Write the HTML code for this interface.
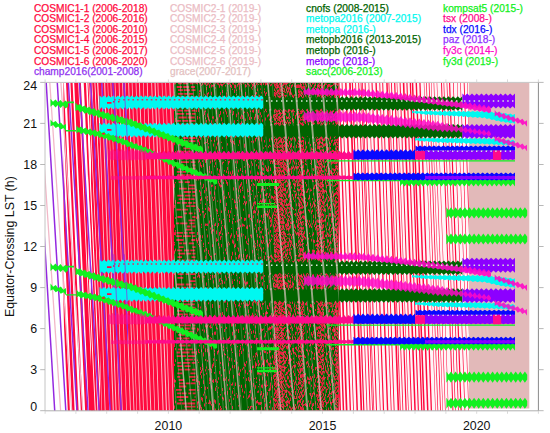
<!DOCTYPE html><html><head><meta charset="utf-8"><style>html,body{margin:0;padding:0;background:#fff;}svg{display:block}text{font-family:"Liberation Sans",sans-serif}</style></head><body>
<svg width="550" height="433" viewBox="0 0 550 433">
<defs><clipPath id="pc"><rect x="45" y="82.4" width="493.4" height="328.4"/></clipPath>
<clipPath id="champclip"><rect x="40" y="0" width="88" height="433"/></clipPath>
<clipPath id="cnclip"><rect x="174" y="0" width="164.5" height="433"/></clipPath>
<clipPath id="c62"><rect x="63.5" y="0" width="40" height="433"/></clipPath>
<clipPath id="c91"><rect x="88" y="0" width="12" height="433"/></clipPath>
<clipPath id="c100"><rect x="100" y="0" width="74" height="433"/></clipPath>
<clipPath id="c339"><rect x="338.5" y="0" width="131" height="433"/></clipPath>
<clipPath id="cyc"><rect x="99" y="90" width="30" height="50"/></clipPath>
<clipPath id="gclip"><rect x="174" y="0" width="164.5" height="433"/></clipPath>
<clipPath id="mbclip"><rect x="263.5" y="97" width="75" height="13.5"/><rect x="263.5" y="124" width="75" height="14.5"/><rect x="263.5" y="261.2" width="75" height="13.5"/><rect x="263.5" y="288.2" width="75" height="14.5"/></clipPath>
</defs>
<rect width="550" height="433" fill="#fff"/>
<g clip-path="url(#pc)">
<path fill="#ff0a3e" clip-path="url(#c62)" d="M52.9 80.4L55 80.4L70 412.8L67.9 412.8ZM57.3 80.4L59.7 80.4L74.7 412.8L72.2 412.8ZM61.5 80.4L63.7 80.4L78.7 412.8L76.5 412.8ZM65.9 80.4L67.9 80.4L82.8 412.8L80.9 412.8ZM70.3 80.4L72.5 80.4L87.5 412.8L85.2 412.8ZM74.9 80.4L76.8 80.4L91.7 412.8L89.9 412.8ZM79 80.4L80.8 80.4L95.8 412.8L93.9 412.8ZM83.6 80.4L85.9 80.4L100.9 412.8L98.6 412.8ZM87.4 80.4L89.9 80.4L104.8 412.8L102.4 412.8ZM92.3 80.4L94.5 80.4L109.5 412.8L107.2 412.8ZM74.1 80.4L78.1 80.4L93.1 412.8L89.1 412.8Z"/>
<path fill="#ff0a3e"  d="M91 80.4h248v332.4h-248Z"/>
<path fill="#ffffff" clip-path="url(#c91)" d="M79.9 80.4L80.8 80.4L95.8 412.8L94.9 412.8ZM82.7 80.4L83.8 80.4L98.7 412.8L97.6 412.8ZM85.3 80.4L86.4 80.4L101.3 412.8L100.3 412.8ZM88.3 80.4L89 80.4L104 412.8L103.3 412.8ZM91.4 80.4L92.1 80.4L107.1 412.8L106.4 412.8ZM94.4 80.4L95.2 80.4L110.1 412.8L109.4 412.8ZM97.1 80.4L98.1 80.4L113 412.8L112.1 412.8Z"/>
<path fill="#f9c0cc" clip-path="url(#c100)" d="M89.9 80.4L90.6 80.4L102.2 412.8L101.6 412.8ZM93.1 80.4L94 80.4L105.7 412.8L104.8 412.8ZM97.6 80.4L98.5 80.4L110.2 412.8L109.3 412.8ZM101.2 80.4L102.2 80.4L113.9 412.8L112.8 412.8ZM104 80.4L105.1 80.4L116.7 412.8L115.7 412.8ZM107.4 80.4L108 80.4L119.7 412.8L119 412.8ZM110.4 80.4L111.1 80.4L122.8 412.8L122 412.8ZM114.6 80.4L115.3 80.4L127 412.8L126.3 412.8ZM118.5 80.4L119.4 80.4L131 412.8L130.1 412.8ZM122 80.4L122.8 80.4L134.5 412.8L133.6 412.8ZM124.9 80.4L125.5 80.4L137.1 412.8L136.5 412.8ZM128 80.4L129 80.4L140.6 412.8L139.7 412.8ZM131.6 80.4L132.4 80.4L144 412.8L143.2 412.8ZM135.5 80.4L136.3 80.4L147.9 412.8L147.1 412.8ZM138.8 80.4L139.8 80.4L151.4 412.8L150.4 412.8ZM142.9 80.4L143.6 80.4L155.2 412.8L154.5 412.8ZM146.7 80.4L147.6 80.4L159.2 412.8L158.3 412.8ZM151.1 80.4L152 80.4L163.7 412.8L162.7 412.8ZM154.4 80.4L155.5 80.4L167.1 412.8L166 412.8ZM157.4 80.4L158.2 80.4L169.8 412.8L169 412.8ZM161.6 80.4L162.2 80.4L173.9 412.8L173.2 412.8ZM165.2 80.4L165.9 80.4L177.5 412.8L176.9 412.8ZM169.2 80.4L170.2 80.4L181.9 412.8L180.9 412.8ZM173.1 80.4L174.1 80.4L185.7 412.8L184.7 412.8Z"/>
<path fill="#fff5f7"  d="M338.5 82.4h130.5v328.4h-130.5Z"/>
<path fill="#ff0a3e" clip-path="url(#c339)" d="M327.9 80.4L329.5 80.4L341.1 412.8L339.6 412.8ZM331.2 80.4L332.6 80.4L344.3 412.8L342.8 412.8ZM334.2 80.4L335.9 80.4L347.6 412.8L345.9 412.8ZM338.1 80.4L339.4 80.4L351.1 412.8L349.8 412.8ZM341.5 80.4L342.4 80.4L354 412.8L353.2 412.8ZM345 80.4L346.5 80.4L358.1 412.8L356.6 412.8ZM349 80.4L350.7 80.4L362.3 412.8L360.6 412.8ZM351.7 80.4L352.9 80.4L364.5 412.8L363.3 412.8ZM355.1 80.4L355.9 80.4L367.5 412.8L366.7 412.8ZM358.1 80.4L359.1 80.4L370.7 412.8L369.7 412.8ZM360.5 80.4L361.4 80.4L373 412.8L372.2 412.8ZM361.9 80.4L362.7 80.4L374.3 412.8L373.6 412.8ZM364.5 80.4L365.5 80.4L377.1 412.8L376.1 412.8ZM368.4 80.4L369.1 80.4L380.7 412.8L380 412.8ZM371.4 80.4L372.5 80.4L384.2 412.8L383 412.8ZM375.3 80.4L376.7 80.4L388.4 412.8L387 412.8ZM379.2 80.4L380.1 80.4L391.7 412.8L390.9 412.8ZM382.1 80.4L383.1 80.4L394.7 412.8L393.8 412.8ZM386.1 80.4L387.6 80.4L399.3 412.8L397.7 412.8ZM388.4 80.4L389.2 80.4L400.8 412.8L400 412.8ZM390.9 80.4L391.8 80.4L403.4 412.8L402.6 412.8ZM394 80.4L395.2 80.4L406.8 412.8L405.6 412.8ZM396.6 80.4L397.2 80.4L408.8 412.8L408.2 412.8ZM399.5 80.4L400.5 80.4L412.1 412.8L411.1 412.8ZM402.7 80.4L404.3 80.4L415.9 412.8L414.4 412.8ZM406.3 80.4L407.4 80.4L419 412.8L417.9 412.8ZM409.6 80.4L410.9 80.4L422.5 412.8L421.2 412.8ZM411.7 80.4L413.2 80.4L424.9 412.8L423.4 412.8ZM415.5 80.4L416.9 80.4L428.6 412.8L427.1 412.8ZM419.2 80.4L420.2 80.4L431.8 412.8L430.8 412.8ZM419.9 80.4L420.5 80.4L432.1 412.8L431.6 412.8ZM423.7 80.4L424.2 80.4L435.8 412.8L435.3 412.8ZM426 80.4L426.7 80.4L438.3 412.8L437.6 412.8ZM428.6 80.4L429.4 80.4L441 412.8L440.2 412.8ZM430.9 80.4L431.4 80.4L443.1 412.8L442.6 412.8ZM433.5 80.4L434.1 80.4L445.7 412.8L445.1 412.8ZM436.6 80.4L437.1 80.4L448.7 412.8L448.2 412.8ZM440.9 80.4L441.9 80.4L453.5 412.8L452.5 412.8ZM443.4 80.4L444.1 80.4L455.8 412.8L455.1 412.8ZM446.5 80.4L447.2 80.4L458.9 412.8L458.1 412.8ZM448.9 80.4L450.1 80.4L461.8 412.8L460.6 412.8ZM452.9 80.4L453.6 80.4L465.3 412.8L464.6 412.8ZM456.9 80.4L457.4 80.4L469.1 412.8L468.5 412.8ZM460.1 80.4L460.7 80.4L472.4 412.8L471.7 412.8ZM463.6 80.4L464.5 80.4L476.1 412.8L475.3 412.8ZM467 80.4L467.5 80.4L479.1 412.8L478.6 412.8Z"/>
<path fill="#9428e0" clip-path="url(#champclip)" d="M12 80.4L13.5 80.4L33.4 412.8L31.9 412.8ZM23.1 80.4L24.6 80.4L44.5 412.8L43 412.8ZM34.2 80.4L35.7 80.4L55.6 412.8L54.1 412.8ZM45.3 80.4L46.8 80.4L66.7 412.8L65.2 412.8ZM56.4 80.4L57.9 80.4L77.8 412.8L76.3 412.8ZM67.5 80.4L69 80.4L88.9 412.8L87.4 412.8ZM78.6 80.4L80.1 80.4L100 412.8L98.5 412.8ZM89.7 80.4L91.2 80.4L111.1 412.8L109.6 412.8ZM100.8 80.4L102.3 80.4L122.2 412.8L120.7 412.8ZM111.9 80.4L113.4 80.4L133.3 412.8L131.8 412.8ZM123 80.4L124.5 80.4L144.4 412.8L142.9 412.8Z"/>
<path fill="#f2b8c8" clip-path="url(#champclip)" d="M60.1 80.4L61.4 80.4L83.6 412.8L82.3 412.8ZM49 80.4L50.3 80.4L72.5 412.8L71.2 412.8ZM37.9 80.4L39.2 80.4L61.4 412.8L60.1 412.8Z"/>
<path fill="#e2b9b9"  d="M468.9 82.4h60.4v326.2h-60.4Z"/>
<path fill="#006400"  d="M174 82.4h164.5v328.4h-164.5Z"/>
<path fill="#e8203e"  d="M174 83h1v1.4h-1ZM174 95.3h1v1.1h-1ZM174 107h1v3.9h-1ZM174 128.2h1v3.1h-1ZM174 136.5h1v2.1h-1ZM174 141.9h1v3.3h-1ZM174 155.9h1v3.3h-1ZM174 165.8h1v1.7h-1ZM174 183.7h1v4h-1ZM174 204.7h1v3.4h-1ZM174 224.5h1v3.2h-1ZM174 232.3h1v2.6h-1ZM174 241.9h1v1.1h-1ZM174 243.6h1v1.8h-1ZM174 250.6h1v3.1h-1ZM174 272.8h1v2.3h-1ZM174 293.9h1v4h-1ZM174 317h1v2.1h-1ZM174 323.5h1v1.7h-1ZM174 329.1h1v1.6h-1ZM174 343.2h1v3.7h-1ZM174 363.7h1v2.4h-1ZM174 379.2h1v3.4h-1ZM174 384.3h1v3h-1ZM174 405.5h1v3.3h-1ZM175 82.8h1v1.5h-1ZM175 100.1h1v2h-1ZM175 118.1h1v3.9h-1ZM175 130h1v2.2h-1ZM175 151.1h1v3.2h-1ZM175 157.7h1v1.4h-1ZM175 162.1h1v3.7h-1ZM175 181.9h1v1.4h-1ZM175 199.9h1v3.9h-1ZM175 217h1v2.1h-1ZM175 230h1v1.4h-1ZM175 231.7h1v3.9h-1ZM175 248.6h1v2.6h-1ZM175 269.8h1v2.3h-1ZM175 289.6h1v3.5h-1ZM175 297.3h1v1.8h-1ZM175 304.9h1v1.7h-1ZM175 318.3h1v1.8h-1ZM175 328.5h1v1.4h-1ZM175 348.1h1v2.1h-1ZM175 359.3h1v2.8h-1ZM175 380.1h1v2.3h-1ZM175 400.8h1v2.5h-1ZM196 83h1v1.1h-1ZM196 98.8h1v1.5h-1ZM196 100.5h1v3.4h-1ZM196 109.6h1v2.4h-1ZM196 136.3h1v2.7h-1ZM196 149.9h1v2.6h-1ZM196 171.1h1v3.4h-1ZM196 178h1v2.7h-1ZM196 189h1v1.8h-1ZM196 216.6h1v2.5h-1ZM196 237.9h1v3.3h-1ZM196 271.8h1v2.3h-1ZM196 294.6h1v2.5h-1ZM196 314.2h1v3.1h-1ZM196 332.4h1v2.6h-1ZM196 351h1v3.8h-1ZM196 378.3h1v3.6h-1ZM197 81.7h1v2.7h-1ZM197 115.9h1v3.5h-1ZM197 124h1v1.4h-1ZM197 140.2h1v1.2h-1ZM197 149.5h1v1.2h-1ZM197 173.1h1v3.4h-1ZM197 206.5h1v1.5h-1ZM197 231.9h1v3h-1ZM197 239.7h1v3.6h-1ZM197 275.7h1v1.7h-1ZM197 309.2h1v2.2h-1ZM197 327.7h1v4h-1ZM197 359.5h1v1.5h-1ZM197 375.5h1v2.5h-1ZM197 389.4h1v1.6h-1ZM197 401.6h1v3.2h-1ZM197 405.4h1v2.7h-1ZM198 80.5h1v2h-1ZM198 103.4h1v2.5h-1ZM198 108.1h1v4h-1ZM198 138.4h1v3.9h-1ZM198 145.8h1v1.8h-1ZM198 148.9h1v3.3h-1ZM198 161.3h1v1.4h-1ZM198 176.8h1v3.7h-1ZM198 208h1v1.8h-1ZM198 214.7h1v3.8h-1ZM198 237.6h1v3.1h-1ZM198 243.7h1v1.2h-1ZM198 267.9h1v2.3h-1ZM198 272.6h1v3.8h-1ZM198 297.6h1v3.4h-1ZM198 303.8h1v3.6h-1ZM198 309.6h1v3.6h-1ZM198 328.4h1v2h-1ZM198 348.9h1v3.8h-1ZM198 361.7h1v1.4h-1ZM198 380.7h1v1.7h-1ZM198 386.1h1v1.5h-1ZM198 389.2h1v1.6h-1ZM198 401.3h1v1.9h-1ZM199 81.8h1v2.5h-1ZM199 90.3h1v2h-1ZM199 93h1v1.8h-1ZM199 95.2h1v3.2h-1ZM199 116.9h1v1.6h-1ZM199 134.3h1v3.8h-1ZM199 141.7h1v3.5h-1ZM199 159.6h1v2.5h-1ZM199 190h1v2.2h-1ZM199 209.1h1v3.1h-1ZM199 245.1h1v2h-1ZM199 274.9h1v3.1h-1ZM199 299.3h1v2.2h-1ZM199 313.2h1v1.2h-1ZM199 318.7h1v1.2h-1ZM199 344.7h1v1.8h-1ZM199 351.9h1v1.3h-1ZM199 381.3h1v3.6h-1ZM199 407.4h1v1.8h-1ZM200 81.9h1v2.4h-1ZM200 89.5h1v2.3h-1ZM200 100.7h1v3.9h-1ZM200 137.1h1v2.6h-1ZM200 147.9h1v3.9h-1ZM200 162.2h1v2.1h-1ZM200 164.3h1v2.1h-1ZM200 182.3h1v2.5h-1ZM200 191.5h1v2.5h-1ZM200 194.2h1v1.8h-1ZM200 199h1v2.2h-1ZM200 202.6h1v1.1h-1ZM200 213.8h1v1.7h-1ZM200 235.1h1v2.6h-1ZM200 262.8h1v3h-1ZM200 289.8h1v3.6h-1ZM200 306.4h1v2h-1ZM200 341.4h1v1.4h-1ZM200 367.1h1v2.9h-1ZM200 371.5h1v3.5h-1ZM200 404.8h1v2.9h-1ZM201 84.5h1v1.4h-1ZM201 103.4h1v2.5h-1ZM201 133.9h1v3.4h-1ZM201 164.9h1v2.8h-1ZM201 197.6h1v3h-1ZM201 223.8h1v1.7h-1ZM201 226.5h1v1.4h-1ZM201 240h1v1.3h-1ZM201 269.3h1v2.7h-1ZM201 293h1v2.9h-1ZM201 318.6h1v2.5h-1ZM201 321.2h1v3.4h-1ZM201 349.6h1v2.5h-1ZM201 370h1v3h-1ZM201 375.2h1v3.2h-1ZM201 386.9h1v1.2h-1ZM201 397h1v3.2h-1ZM201 407h1v3.2h-1ZM202 82.9h1v2.1h-1ZM202 101h1v3.1h-1ZM202 129.8h1v2.9h-1ZM202 154.1h1v1.2h-1ZM202 160.3h1v1.8h-1ZM202 186.9h1v1.9h-1ZM202 207.8h1v1h-1ZM202 210.9h1v1.8h-1ZM202 235.2h1v3.1h-1ZM202 260.9h1v1.9h-1ZM202 280h1v2.4h-1ZM202 298h1v1.4h-1ZM202 329.3h1v1.6h-1ZM202 363.6h1v3.8h-1ZM202 368h1v2.4h-1ZM202 397.8h1v3.9h-1ZM203 81.7h1v1.6h-1ZM203 115h1v1.6h-1ZM203 136.1h1v1.4h-1ZM203 155.1h1v3.9h-1ZM203 163.4h1v3.5h-1ZM203 183.8h1v3.7h-1ZM203 211h1v1.7h-1ZM203 242.8h1v2.5h-1ZM203 246.1h1v1h-1ZM203 263.5h1v2.4h-1ZM203 276h1v1.4h-1ZM203 288.9h1v1.9h-1ZM203 319h1v1h-1ZM203 345.1h1v3.5h-1ZM203 352.6h1v3.8h-1ZM203 380.3h1v3.7h-1ZM203 393.7h1v2.1h-1ZM203 408.9h1v4h-1ZM204 82.2h1v2.3h-1ZM204 93.7h1v1.1h-1ZM204 98.2h1v3.5h-1ZM204 111.3h1v3.8h-1ZM204 123.5h1v1.8h-1ZM204 142.3h1v1.6h-1ZM204 156.4h1v3.9h-1ZM204 189.9h1v3.4h-1ZM204 214.4h1v3.7h-1ZM204 249.6h1v2.6h-1ZM204 276.4h1v1.1h-1ZM204 302h1v2.4h-1ZM204 329.6h1v2.9h-1ZM204 342.1h1v1.1h-1ZM204 374.2h1v1.4h-1ZM204 391.4h1v2h-1ZM204 403.4h1v3.2h-1ZM205 81.7h1v3h-1ZM205 94.7h1v2.7h-1ZM205 110.6h1v1.5h-1ZM205 117.5h1v1.6h-1ZM205 149.5h1v2.5h-1ZM205 159.3h1v3.7h-1ZM205 196.4h1v2.3h-1ZM205 203.4h1v1.6h-1ZM205 208h1v2h-1ZM205 213.1h1v1.7h-1ZM205 223.4h1v2.7h-1ZM205 255.8h1v3.2h-1ZM205 272.9h1v2.2h-1ZM205 292.7h1v2.1h-1ZM205 306.1h1v1.2h-1ZM205 316.6h1v3.9h-1ZM205 324.7h1v2.5h-1ZM205 348.3h1v3.6h-1ZM205 359.1h1v1.8h-1ZM205 369.2h1v2.2h-1ZM205 386.4h1v3.9h-1ZM206 84.8h1v1.1h-1ZM206 86.9h1v3.1h-1ZM206 120h1v2.4h-1ZM206 142.1h1v1h-1ZM206 156.2h1v3.8h-1ZM206 187.6h1v3.6h-1ZM206 223.7h1v1.7h-1ZM206 229.1h1v1.5h-1ZM206 248h1v3h-1ZM206 282.6h1v3.2h-1ZM206 307.4h1v3.3h-1ZM206 326h1v2.7h-1ZM206 330h1v3.3h-1ZM206 341.1h1v3.8h-1ZM206 366.5h1v1.9h-1ZM206 372.7h1v1.8h-1ZM206 395.7h1v3.1h-1ZM206 402.5h1v1.2h-1ZM207 83.3h1v2.2h-1ZM207 93h1v2.8h-1ZM207 96.1h1v1.9h-1ZM207 113.4h1v3.9h-1ZM207 138.9h1v3.7h-1ZM207 158.4h1v1.7h-1ZM207 168.4h1v3.9h-1ZM207 195.9h1v1.9h-1ZM207 198.5h1v2.5h-1ZM207 223.6h1v2.3h-1ZM207 234.4h1v3h-1ZM207 268.4h1v1.7h-1ZM207 271.2h1v2h-1ZM207 287.3h1v3h-1ZM207 297h1v3.4h-1ZM207 325.1h1v2.5h-1ZM207 334.5h1v3.9h-1ZM207 348.8h1v3.5h-1ZM207 360h1v1.7h-1ZM207 387.1h1v1.9h-1ZM208 82.9h1v1.6h-1ZM208 91.9h1v2.3h-1ZM208 116.4h1v3.8h-1ZM208 125.2h1v2.2h-1ZM208 134.5h1v3.9h-1ZM208 143.1h1v1.2h-1ZM208 146.3h1v2.2h-1ZM208 178.5h1v3.7h-1ZM208 206.7h1v4h-1ZM208 241.9h1v2h-1ZM208 250.1h1v3.8h-1ZM208 278.9h1v1.1h-1ZM208 302.2h1v2.1h-1ZM208 316.8h1v2h-1ZM208 324.5h1v1h-1ZM208 334.9h1v2.1h-1ZM208 368.9h1v1.4h-1ZM208 402.5h1v1.6h-1ZM209 84.5h1v3.5h-1ZM209 102.4h1v1.1h-1ZM209 119.4h1v2.1h-1ZM209 152.3h1v1.6h-1ZM209 166.1h1v3.7h-1ZM209 170.8h1v2.2h-1ZM209 200.2h1v3.3h-1ZM209 204.9h1v1.1h-1ZM209 208h1v3.8h-1ZM209 220.4h1v3.2h-1ZM209 253.7h1v2h-1ZM209 264.8h1v3.9h-1ZM209 289.4h1v1.8h-1ZM209 315.1h1v1.9h-1ZM209 326.3h1v1h-1ZM209 352.6h1v3.7h-1ZM209 377.6h1v3.8h-1ZM209 382.2h1v1.7h-1ZM209 399.8h1v3.9h-1ZM210 82.3h1v1.8h-1ZM210 98.5h1v2.5h-1ZM210 132h1v1.5h-1ZM210 160.4h1v3.2h-1ZM210 191.2h1v3.3h-1ZM210 214.8h1v2h-1ZM210 227.5h1v2.1h-1ZM210 255.7h1v1.2h-1ZM210 263.6h1v3.3h-1ZM210 275.1h1v1.2h-1ZM210 277.4h1v2.7h-1ZM210 291h1v3.9h-1ZM210 324.5h1v4h-1ZM210 337.3h1v1.3h-1ZM210 341.8h1v2.5h-1ZM210 368h1v2.3h-1ZM210 378.2h1v2.3h-1ZM210 401.2h1v3h-1ZM211 84.6h1v3h-1ZM211 91.7h1v3.5h-1ZM211 105h1v2.7h-1ZM211 120.2h1v3.2h-1ZM211 130.1h1v1.7h-1ZM211 140h1v1.5h-1ZM211 171.1h1v2.7h-1ZM211 184.7h1v2.2h-1ZM211 220.1h1v2.5h-1ZM211 230.4h1v3.4h-1ZM211 255.7h1v4h-1ZM211 263.1h1v2.4h-1ZM211 292.9h1v3.5h-1ZM211 327h1v1.1h-1ZM211 338h1v1.4h-1ZM211 345.7h1v3.9h-1ZM211 369.1h1v3.8h-1ZM211 385.4h1v3.6h-1ZM211 404h1v1.8h-1ZM212 85.1h1v1.3h-1ZM212 106.4h1v2.9h-1ZM212 116.5h1v2.1h-1ZM212 123.4h1v1.6h-1ZM212 133.5h1v2.8h-1ZM212 158.1h1v1.6h-1ZM212 160.1h1v2h-1ZM212 184.8h1v1.6h-1ZM212 196.8h1v1.6h-1ZM212 225h1v2.6h-1ZM212 229.8h1v1.3h-1ZM212 244.3h1v2.7h-1ZM212 268.3h1v1.3h-1ZM212 275.1h1v3.1h-1ZM212 291.9h1v1.8h-1ZM212 304h1v3.9h-1ZM212 318.3h1v2.7h-1ZM212 333h1v2.2h-1ZM212 364.2h1v4h-1ZM212 380.3h1v1.6h-1ZM212 406.3h1v1.6h-1ZM212 408.1h1v3.7h-1ZM213 84.5h1v2.2h-1ZM213 116.3h1v2.4h-1ZM213 124.1h1v1h-1ZM213 143.6h1v2.9h-1ZM213 176.9h1v1.3h-1ZM213 199h1v2.1h-1ZM213 218h1v1.4h-1ZM213 228.9h1v2.6h-1ZM213 262.5h1v1.3h-1ZM213 280.2h1v3.4h-1ZM213 316h1v1.6h-1ZM213 321.8h1v3.8h-1ZM213 358.3h1v2.4h-1ZM213 362.5h1v3.8h-1ZM213 379.3h1v3.7h-1ZM213 403.7h1v3.5h-1ZM214 84.3h1v1.7h-1ZM214 99.5h1v3.5h-1ZM214 130.8h1v1.5h-1ZM214 139.7h1v2.2h-1ZM214 159.2h1v2.2h-1ZM214 165.5h1v1.7h-1ZM214 191.5h1v3.7h-1ZM214 196.5h1v2.7h-1ZM214 224.6h1v1.1h-1ZM214 253.7h1v1.4h-1ZM214 275.1h1v2.7h-1ZM214 298.8h1v1.9h-1ZM214 314.7h1v2.7h-1ZM214 331.7h1v3h-1ZM214 349.7h1v2.3h-1ZM214 352.8h1v2.9h-1ZM214 372h1v1.7h-1ZM214 399.2h1v3.3h-1ZM215 81.3h1v2.4h-1ZM215 87.3h1v1.4h-1ZM215 103.1h1v1.3h-1ZM215 119.2h1v2.5h-1ZM215 123.1h1v2.9h-1ZM215 128.7h1v3.2h-1ZM215 157.9h1v2.5h-1ZM215 162.3h1v2.5h-1ZM215 177.4h1v3.9h-1ZM215 185.9h1v3.6h-1ZM215 222.8h1v3.2h-1ZM215 253.2h1v1.6h-1ZM215 287.7h1v2.5h-1ZM215 322.1h1v3.7h-1ZM215 331.4h1v3.4h-1ZM215 365.9h1v1.2h-1ZM215 378.9h1v3.3h-1ZM215 387.4h1v3.7h-1ZM215 400.3h1v3.4h-1ZM215 408.6h1v2.5h-1ZM216 81.4h1v1.8h-1ZM216 100.2h1v2h-1ZM216 103.4h1v1.5h-1ZM216 110.3h1v3.8h-1ZM216 136.8h1v3.7h-1ZM216 146.2h1v3.4h-1ZM216 153.4h1v2.6h-1ZM216 177.3h1v2.1h-1ZM216 208.6h1v2.7h-1ZM216 230.6h1v3.6h-1ZM216 237.8h1v4h-1ZM216 262.8h1v2.2h-1ZM216 291.7h1v1.8h-1ZM216 326.6h1v2.7h-1ZM216 341.4h1v3.3h-1ZM216 359.5h1v1.5h-1ZM216 385.9h1v1.1h-1ZM217 81.7h1v2.9h-1ZM217 117.5h1v2.8h-1ZM217 142.5h1v1.9h-1ZM217 144.5h1v1.1h-1ZM217 150.6h1v2.8h-1ZM217 167.9h1v2.5h-1ZM217 200.4h1v1.4h-1ZM217 209.4h1v3h-1ZM217 213.1h1v1h-1ZM217 226h1v1.3h-1ZM217 239.3h1v1.7h-1ZM217 260.5h1v2.8h-1ZM217 270.1h1v2.9h-1ZM217 288.8h1v1.4h-1ZM217 321.6h1v1.7h-1ZM217 328.3h1v1.3h-1ZM217 350.9h1v3.6h-1ZM217 380.7h1v2.2h-1ZM217 391.8h1v1h-1ZM218 83.2h1v2.1h-1ZM218 106.9h1v2.3h-1ZM218 140.6h1v3.2h-1ZM218 152.1h1v3.7h-1ZM218 157.3h1v2.6h-1ZM218 173.4h1v1.7h-1ZM218 177.1h1v3.3h-1ZM218 180.9h1v2.7h-1ZM218 215h1v1.4h-1ZM218 223.1h1v2.8h-1ZM218 242.9h1v2.9h-1ZM218 273h1v1.5h-1ZM218 284.9h1v1.9h-1ZM218 288.4h1v3.7h-1ZM218 318.3h1v3.1h-1ZM218 321.6h1v3.5h-1ZM218 350.1h1v2.4h-1ZM218 377.3h1v2.4h-1ZM218 387.2h1v1.3h-1ZM218 396.3h1v1.1h-1ZM218 408.7h1v3.2h-1ZM219 84.6h1v3.1h-1ZM219 96.7h1v2.7h-1ZM219 113.9h1v3.4h-1ZM219 134.8h1v1.8h-1ZM219 158.1h1v3.9h-1ZM219 169.2h1v3.6h-1ZM219 173.4h1v1.8h-1ZM219 183.1h1v3.2h-1ZM219 217.9h1v3.2h-1ZM219 232.1h1v3.6h-1ZM219 246.7h1v1.7h-1ZM219 278.8h1v2.9h-1ZM219 304.9h1v3h-1ZM219 340.6h1v2.4h-1ZM219 371.1h1v3.1h-1ZM219 402.9h1v2.3h-1ZM220 83.3h1v1.9h-1ZM220 92.3h1v2.9h-1ZM220 97.7h1v3.7h-1ZM220 106.3h1v1.1h-1ZM220 111h1v3.8h-1ZM220 126.3h1v1.4h-1ZM220 128.7h1v1.1h-1ZM220 153h1v2.9h-1ZM220 179.2h1v3.2h-1ZM220 184.6h1v2.8h-1ZM220 199.5h1v3.5h-1ZM220 230.4h1v3.7h-1ZM220 236.3h1v3.6h-1ZM220 270.5h1v3.8h-1ZM220 277.9h1v1.6h-1ZM220 283.3h1v1.1h-1ZM220 312.8h1v3.4h-1ZM220 337.4h1v3.5h-1ZM220 362h1v1.9h-1ZM220 367.2h1v1.3h-1ZM220 393.9h1v1.6h-1ZM220 406.1h1v2.3h-1ZM220 409.1h1v1.8h-1ZM221 84h1v2.1h-1ZM221 96.8h1v3.9h-1ZM221 117.6h1v3.6h-1ZM221 141.8h1v1.1h-1ZM221 156.7h1v2.3h-1ZM221 184.9h1v2h-1ZM221 210.5h1v2.6h-1ZM221 220.4h1v3.6h-1ZM221 227h1v3.5h-1ZM221 236.2h1v1h-1ZM221 243.9h1v3.3h-1ZM221 279.9h1v1h-1ZM221 297.4h1v2.5h-1ZM221 326.5h1v1.6h-1ZM221 344.6h1v2h-1ZM221 374.5h1v1.8h-1ZM221 407.9h1v1.9h-1ZM222 83.9h1v2.5h-1ZM222 90.1h1v2.9h-1ZM222 95.7h1v3.4h-1ZM222 122.4h1v3.4h-1ZM222 146.8h1v2.1h-1ZM222 162.2h1v2.2h-1ZM222 194.2h1v1.3h-1ZM222 225.2h1v1.1h-1ZM222 233.2h1v1.8h-1ZM222 265.1h1v2.5h-1ZM222 280.3h1v3.7h-1ZM222 291.8h1v2.4h-1ZM222 312h1v3.3h-1ZM222 340.4h1v2.9h-1ZM222 355h1v2h-1ZM222 362.2h1v3.5h-1ZM222 387.9h1v3.2h-1ZM222 396.8h1v2.3h-1ZM223 83.3h1v1.4h-1ZM223 100.1h1v3.7h-1ZM223 111.8h1v1.6h-1ZM223 123.4h1v3.1h-1ZM223 154.8h1v1.5h-1ZM223 161.4h1v1.7h-1ZM223 174.1h1v2.6h-1ZM223 182.1h1v2h-1ZM223 190.4h1v3.9h-1ZM223 218.7h1v1.3h-1ZM223 252.2h1v1.3h-1ZM223 266.4h1v4h-1ZM223 296.9h1v3.2h-1ZM223 314.7h1v1.6h-1ZM223 337.6h1v1.3h-1ZM223 345.8h1v2.2h-1ZM223 349.1h1v2.2h-1ZM223 377.8h1v3.1h-1ZM223 397.6h1v2.9h-1ZM224 81.1h1v2.8h-1ZM224 97.5h1v3.2h-1ZM224 131.1h1v2.3h-1ZM224 152.6h1v3.2h-1ZM224 169.9h1v1.7h-1ZM224 195.8h1v3.6h-1ZM224 225.3h1v3.1h-1ZM224 256.9h1v3h-1ZM224 281.4h1v2.4h-1ZM224 294.3h1v2.9h-1ZM224 300.4h1v2.3h-1ZM224 328.9h1v3.1h-1ZM224 353.1h1v1.8h-1ZM224 369h1v2.4h-1ZM224 392.2h1v2.2h-1ZM225 85.1h1v1.5h-1ZM225 108.5h1v3.3h-1ZM225 124.8h1v2.5h-1ZM225 159.9h1v1.1h-1ZM225 179.2h1v1.5h-1ZM225 206.9h1v3.8h-1ZM225 228.1h1v1.3h-1ZM225 248.6h1v2.6h-1ZM225 275.2h1v2.5h-1ZM225 299.1h1v3.5h-1ZM225 320.1h1v2.2h-1ZM225 354h1v1.6h-1ZM225 378.6h1v2.2h-1ZM225 406.3h1v1.4h-1ZM226 82.2h1v1.2h-1ZM226 92.5h1v2.2h-1ZM226 95.2h1v2.3h-1ZM226 111.5h1v3.1h-1ZM226 126.4h1v1.8h-1ZM226 135.7h1v3.2h-1ZM226 170.4h1v2.6h-1ZM226 180.3h1v3.4h-1ZM226 196.8h1v1.6h-1ZM226 202.7h1v3.3h-1ZM226 233.2h1v2.9h-1ZM226 251.8h1v2.7h-1ZM226 262h1v3.9h-1ZM226 277.7h1v2.9h-1ZM226 308h1v3.4h-1ZM226 327.1h1v1.9h-1ZM226 347.4h1v1.4h-1ZM226 376.7h1v2.1h-1ZM226 407.2h1v1.8h-1ZM227 81.7h1v2.3h-1ZM227 90.2h1v1h-1ZM227 115.3h1v1.8h-1ZM227 125.4h1v1.9h-1ZM227 143.3h1v2.3h-1ZM227 166.9h1v3h-1ZM227 182h1v3.8h-1ZM227 214.4h1v1.2h-1ZM227 243.3h1v3.7h-1ZM227 273.2h1v1.4h-1ZM227 302.5h1v2.9h-1ZM227 305.9h1v1h-1ZM227 338.8h1v3h-1ZM227 350.1h1v1.3h-1ZM227 356.2h1v1.7h-1ZM227 383.9h1v2h-1ZM227 391h1v3.7h-1ZM228 81.2h1v3.7h-1ZM228 105.3h1v3.3h-1ZM228 131h1v3.7h-1ZM228 161h1v3.5h-1ZM228 171.2h1v3.1h-1ZM228 192h1v3.2h-1ZM228 209.9h1v3.6h-1ZM228 232.1h1v1.8h-1ZM228 241.7h1v1.4h-1ZM228 259.7h1v1.2h-1ZM228 276.5h1v1.4h-1ZM228 294.3h1v2.5h-1ZM228 314.9h1v3.6h-1ZM228 318.7h1v3.5h-1ZM228 337.9h1v2.7h-1ZM228 362.8h1v3.5h-1ZM228 378.9h1v2.3h-1ZM229 80.8h1v2.9h-1ZM229 105h1v1.1h-1ZM229 126.5h1v3h-1ZM229 160.7h1v2h-1ZM229 195.5h1v2.5h-1ZM229 214.3h1v3.7h-1ZM229 219.1h1v3.2h-1ZM229 243.2h1v2h-1ZM229 274h1v2.1h-1ZM229 292h1v2.6h-1ZM229 320.4h1v1.6h-1ZM229 336.6h1v2.3h-1ZM229 357.4h1v3.5h-1ZM229 370.6h1v3.5h-1ZM229 387.6h1v2.5h-1ZM229 399.2h1v2.5h-1ZM230 83.7h1v3.4h-1ZM230 98.1h1v2h-1ZM230 110.1h1v2.8h-1ZM230 134.1h1v3.4h-1ZM230 138.8h1v3.2h-1ZM230 171.6h1v2.6h-1ZM230 175.9h1v1.9h-1ZM230 178h1v1.6h-1ZM230 210.4h1v2.8h-1ZM230 235.2h1v3.4h-1ZM230 269h1v2.8h-1ZM230 292.5h1v2.9h-1ZM230 318.7h1v2.8h-1ZM230 344.3h1v1.6h-1ZM230 368.2h1v2.4h-1ZM230 396.1h1v1.3h-1ZM230 403.5h1v1.1h-1ZM231 85h1v3h-1ZM231 100.3h1v3.5h-1ZM231 130.1h1v2.7h-1ZM231 141.4h1v1.9h-1ZM231 157.4h1v2h-1ZM231 173.8h1v2.9h-1ZM231 207.9h1v1.2h-1ZM231 228.1h1v1.1h-1ZM231 233.2h1v3.4h-1ZM231 255.9h1v3.8h-1ZM231 274.6h1v1h-1ZM231 288.6h1v2.8h-1ZM231 322.7h1v3.9h-1ZM231 342.6h1v2.2h-1ZM231 348.2h1v2.9h-1ZM231 358.3h1v1.5h-1ZM231 360.2h1v1h-1ZM231 384.1h1v1.4h-1ZM232 80.8h1v3.6h-1ZM232 88.8h1v1.1h-1ZM232 113.9h1v1.7h-1ZM232 140.2h1v1.6h-1ZM232 143.4h1v3.3h-1ZM232 170.6h1v3.6h-1ZM232 198.6h1v1.3h-1ZM232 220.9h1v3.1h-1ZM232 239.4h1v3.8h-1ZM232 251.7h1v3.9h-1ZM232 279.6h1v1h-1ZM232 281.1h1v3h-1ZM232 311.4h1v1.2h-1ZM232 323.1h1v3.2h-1ZM232 331.8h1v3.6h-1ZM232 351.7h1v1.2h-1ZM232 365.2h1v2.7h-1ZM232 382.6h1v3h-1ZM232 390.4h1v3.4h-1ZM232 406h1v2.9h-1ZM233 82.5h1v2.2h-1ZM233 111h1v3.8h-1ZM233 141h1v2.7h-1ZM233 153.5h1v1.2h-1ZM233 187.3h1v3.1h-1ZM233 218.1h1v2h-1ZM233 240.4h1v3.9h-1ZM233 272.1h1v2.8h-1ZM233 285.2h1v2.3h-1ZM233 317.2h1v2.1h-1ZM233 342.3h1v2.8h-1ZM233 375.1h1v3.4h-1ZM233 388h1v1h-1ZM233 397.8h1v2.3h-1ZM234 84.5h1v3.7h-1ZM234 89.6h1v3.5h-1ZM234 120.2h1v3.6h-1ZM234 143h1v1.8h-1ZM234 173.3h1v3.4h-1ZM234 199.6h1v3.7h-1ZM234 214.9h1v1.3h-1ZM234 234.7h1v3.4h-1ZM234 244.8h1v3.3h-1ZM234 279.2h1v1.7h-1ZM234 301.3h1v3h-1ZM234 319.9h1v1.6h-1ZM234 330h1v3.3h-1ZM234 359.7h1v2.4h-1ZM234 365.1h1v3.4h-1ZM234 394.3h1v1.7h-1ZM235 84.9h1v3.7h-1ZM235 106h1v2.4h-1ZM235 128.2h1v1.6h-1ZM235 136.2h1v1.5h-1ZM235 161.2h1v2.1h-1ZM235 182.1h1v2.2h-1ZM235 201.6h1v1.4h-1ZM235 204.6h1v4h-1ZM235 221.1h1v1.3h-1ZM235 243.6h1v3.4h-1ZM235 252.2h1v2.8h-1ZM235 266.5h1v2.6h-1ZM235 269.7h1v1.1h-1ZM235 304h1v3.6h-1ZM235 323.9h1v2.7h-1ZM235 335.3h1v3.3h-1ZM235 352.9h1v3.8h-1ZM235 382.4h1v3.5h-1ZM236 81.7h1v1.1h-1ZM236 89.5h1v1.5h-1ZM236 93.9h1v1.2h-1ZM236 113.7h1v3.6h-1ZM236 132.6h1v3.8h-1ZM236 166.9h1v1.2h-1ZM236 188.1h1v2.2h-1ZM236 194.3h1v3.9h-1ZM236 206.8h1v2.7h-1ZM236 230.9h1v3.9h-1ZM236 257.2h1v2.2h-1ZM236 274.4h1v1.5h-1ZM236 308.2h1v4h-1ZM236 319.6h1v1.1h-1ZM236 329.2h1v2.1h-1ZM236 361.5h1v3.7h-1ZM236 393.2h1v1.1h-1ZM237 83.9h1v2.9h-1ZM237 119.9h1v1.2h-1ZM237 125.9h1v3.3h-1ZM237 160.6h1v3h-1ZM237 173.6h1v2.8h-1ZM237 201.7h1v1.3h-1ZM237 213.9h1v1.8h-1ZM237 219.8h1v2.4h-1ZM237 227.9h1v1.7h-1ZM237 234.4h1v3h-1ZM237 237.9h1v3.2h-1ZM237 247.5h1v1.1h-1ZM237 279.7h1v1.7h-1ZM237 312.6h1v3.6h-1ZM237 345.9h1v1.4h-1ZM237 362.3h1v1.3h-1ZM237 394.7h1v3.5h-1ZM238 82.7h1v2h-1ZM238 112.2h1v2.4h-1ZM238 135.7h1v1.4h-1ZM238 144.5h1v1.2h-1ZM238 169.6h1v2.7h-1ZM238 177.1h1v3.6h-1ZM238 189.6h1v2.2h-1ZM238 197h1v1.8h-1ZM238 227h1v2h-1ZM238 234.6h1v2.5h-1ZM238 247.7h1v3.7h-1ZM238 255.2h1v3.9h-1ZM238 261.1h1v3.7h-1ZM238 287.1h1v1.6h-1ZM238 304.7h1v1.9h-1ZM238 315.2h1v1.6h-1ZM238 329h1v4h-1ZM238 366.4h1v3.8h-1ZM238 373.4h1v1.9h-1ZM238 405.3h1v1.2h-1ZM239 81.9h1v3.9h-1ZM239 86.3h1v3.4h-1ZM239 101.2h1v1.4h-1ZM239 102.7h1v3.5h-1ZM239 123.8h1v1.6h-1ZM239 139.9h1v3.7h-1ZM239 150.9h1v2.7h-1ZM239 158.3h1v1.5h-1ZM239 185.6h1v3.1h-1ZM239 195.3h1v1.2h-1ZM239 199.5h1v2.8h-1ZM239 218.9h1v1.8h-1ZM239 227.6h1v2.8h-1ZM239 254.1h1v3.4h-1ZM239 277h1v1.6h-1ZM239 280.9h1v3.2h-1ZM239 297.7h1v3.2h-1ZM239 302.7h1v3.4h-1ZM239 317.4h1v3.5h-1ZM239 349.8h1v2.5h-1ZM239 352.8h1v3.7h-1ZM239 372.5h1v3.6h-1ZM239 385h1v1.6h-1ZM240 82.2h1v1.5h-1ZM240 96.1h1v2.8h-1ZM240 99.1h1v2.6h-1ZM240 116.6h1v2.5h-1ZM240 123.1h1v3.1h-1ZM240 153.6h1v3.6h-1ZM240 168h1v3.1h-1ZM240 183.8h1v3.3h-1ZM240 189.1h1v3.6h-1ZM240 224.7h1v2.5h-1ZM240 244.4h1v2.6h-1ZM240 264.9h1v1.1h-1ZM240 298.4h1v1.7h-1ZM240 306.1h1v1.3h-1ZM240 315.8h1v3.5h-1ZM240 320.3h1v1.3h-1ZM240 345h1v1.6h-1ZM240 347.1h1v2.8h-1ZM240 369.2h1v2.6h-1ZM240 395.3h1v1.3h-1ZM241 84h1v1.1h-1ZM241 89.2h1v2.5h-1ZM241 108.5h1v1.8h-1ZM241 114.4h1v2.2h-1ZM241 121.2h1v2.8h-1ZM241 152.8h1v1.4h-1ZM241 173.4h1v3.2h-1ZM241 182.1h1v3.5h-1ZM241 217h1v2.2h-1ZM241 233.2h1v3.5h-1ZM241 254.3h1v2.2h-1ZM241 288h1v3.3h-1ZM241 302.7h1v1.7h-1ZM241 315.6h1v2.3h-1ZM241 350.7h1v3.4h-1ZM241 384.7h1v3.4h-1ZM242 80.7h1v2.6h-1ZM242 115.3h1v3.8h-1ZM242 127.4h1v2.3h-1ZM242 150.9h1v2.1h-1ZM242 170.7h1v1.2h-1ZM242 186.4h1v2.5h-1ZM242 189.6h1v1.4h-1ZM242 223.5h1v3.3h-1ZM242 258.2h1v2.9h-1ZM242 288.1h1v3.7h-1ZM242 321.4h1v1.1h-1ZM242 344h1v1.8h-1ZM242 368.5h1v1.8h-1ZM242 388.4h1v3.8h-1ZM243 81.7h1v2.6h-1ZM243 98.7h1v3.9h-1ZM243 112.2h1v1.9h-1ZM243 135.8h1v1.4h-1ZM243 157h1v3.9h-1ZM243 178.1h1v1.8h-1ZM243 195.5h1v2.6h-1ZM243 203.1h1v1.4h-1ZM243 208.8h1v1.9h-1ZM243 224.3h1v1.9h-1ZM243 234.3h1v1.3h-1ZM243 253.9h1v3.5h-1ZM243 277.8h1v2.7h-1ZM243 302.3h1v1.6h-1ZM243 327.6h1v2.4h-1ZM243 348.4h1v2.8h-1ZM243 366.9h1v1.9h-1ZM243 376.9h1v1.7h-1ZM243 395.8h1v2.1h-1ZM244 80.5h1v2.1h-1ZM244 111.4h1v1.7h-1ZM244 131.7h1v2.5h-1ZM244 143.7h1v4h-1ZM244 157.6h1v3.3h-1ZM244 166.2h1v1.2h-1ZM244 196.5h1v2.3h-1ZM244 200.9h1v2.2h-1ZM244 217.8h1v3.2h-1ZM244 224.7h1v1.7h-1ZM244 258.4h1v3.2h-1ZM244 266.8h1v2h-1ZM244 280.6h1v3h-1ZM244 304.3h1v3.5h-1ZM244 335.3h1v2.6h-1ZM244 362.6h1v3.2h-1ZM244 391.2h1v2.4h-1ZM245 83.9h1v3.7h-1ZM245 91.9h1v3.6h-1ZM245 95.7h1v3.3h-1ZM245 118.6h1v2.5h-1ZM245 153.3h1v2.7h-1ZM245 170h1v3.4h-1ZM245 202.6h1v2.8h-1ZM245 218.1h1v2.4h-1ZM245 235.8h1v3.2h-1ZM245 248.7h1v2.2h-1ZM245 269.5h1v2.2h-1ZM245 282.4h1v3.4h-1ZM245 314.2h1v2.5h-1ZM245 331.6h1v1.6h-1ZM245 343.3h1v1.4h-1ZM245 364h1v2.7h-1ZM245 369.7h1v3.8h-1ZM245 384.3h1v3.5h-1ZM246 85.2h1v1.6h-1ZM246 101.1h1v3.7h-1ZM246 105.2h1v1.1h-1ZM246 125.2h1v2.5h-1ZM246 158.5h1v3.3h-1ZM246 179.8h1v4h-1ZM246 201.1h1v2.6h-1ZM246 226.6h1v2.2h-1ZM246 240.8h1v2.8h-1ZM246 255.3h1v3.8h-1ZM246 281.8h1v2.6h-1ZM246 287.7h1v2.1h-1ZM246 303.2h1v2.7h-1ZM246 325.1h1v3.6h-1ZM246 361h1v2.5h-1ZM246 378.2h1v2.9h-1ZM247 82.1h1v2.6h-1ZM247 112h1v1.5h-1ZM247 124.2h1v3.9h-1ZM247 155.7h1v2.5h-1ZM247 162h1v3.7h-1ZM247 188.7h1v3.5h-1ZM247 225.3h1v3.7h-1ZM247 243.1h1v1.5h-1ZM247 254.3h1v2.5h-1ZM247 273.7h1v1.6h-1ZM247 281.4h1v2.9h-1ZM247 304.4h1v2.1h-1ZM247 339.7h1v2.9h-1ZM247 344.1h1v2.2h-1ZM247 372.7h1v1.9h-1ZM247 397.7h1v1h-1ZM247 408.9h1v3.5h-1ZM248 83.7h1v1.6h-1ZM248 102h1v2.7h-1ZM248 113.6h1v2.9h-1ZM248 134.3h1v4h-1ZM248 157.5h1v2.2h-1ZM248 163.8h1v1.5h-1ZM248 190.7h1v1.3h-1ZM248 195.3h1v1.5h-1ZM248 214.3h1v3.5h-1ZM248 238.3h1v3.4h-1ZM248 243.8h1v1h-1ZM248 270.6h1v2h-1ZM248 296.5h1v2.1h-1ZM248 304.3h1v1.8h-1ZM248 309.4h1v3.7h-1ZM248 332.6h1v2h-1ZM248 349.7h1v2.2h-1ZM248 353.7h1v3.7h-1ZM248 376.9h1v3.9h-1ZM248 395.4h1v2.9h-1ZM248 406.6h1v1.1h-1ZM249 84.7h1v1.9h-1ZM249 116.7h1v3.4h-1ZM249 130.3h1v2.8h-1ZM249 165.2h1v2.5h-1ZM249 199.5h1v1.7h-1ZM249 214.3h1v3.2h-1ZM249 224.8h1v1.9h-1ZM249 256.1h1v2.5h-1ZM249 285h1v1.7h-1ZM249 292.6h1v2.1h-1ZM249 300.9h1v3.9h-1ZM249 314.5h1v2.7h-1ZM249 321.1h1v2.6h-1ZM249 336.6h1v2.2h-1ZM249 341h1v1.4h-1ZM249 370h1v2.1h-1ZM249 380.2h1v1.6h-1ZM249 391.3h1v1.7h-1ZM249 394.2h1v3h-1ZM249 408.6h1v1.5h-1ZM250 80.9h1v1.8h-1ZM250 110.6h1v1.4h-1ZM250 126.8h1v3.5h-1ZM250 157.3h1v1.5h-1ZM250 170.6h1v3.2h-1ZM250 186.3h1v3.9h-1ZM250 197.2h1v3.9h-1ZM250 217.9h1v1.7h-1ZM250 234.8h1v1.4h-1ZM250 259.8h1v1.8h-1ZM250 291.7h1v2.8h-1ZM250 306.7h1v1.7h-1ZM250 328.8h1v1.6h-1ZM250 359.7h1v1.4h-1ZM250 378.2h1v2.6h-1ZM250 389.9h1v3.3h-1ZM250 406.1h1v3h-1ZM251 82h1v2.2h-1ZM251 87h1v1.5h-1ZM251 117h1v2h-1ZM251 141.1h1v1.3h-1ZM251 161.3h1v2.1h-1ZM251 180.1h1v1.9h-1ZM251 184.2h1v1.9h-1ZM251 193.7h1v1.4h-1ZM251 219.1h1v1.8h-1ZM251 234.4h1v3.7h-1ZM251 264.1h1v3.6h-1ZM251 296.5h1v1.4h-1ZM251 307.2h1v1.1h-1ZM251 331h1v3h-1ZM251 345.8h1v2.2h-1ZM251 370.1h1v3.1h-1ZM251 381.5h1v3.5h-1ZM251 396.8h1v2.9h-1ZM251 405.8h1v1.3h-1ZM252 84.1h1v3.1h-1ZM252 88.6h1v1.1h-1ZM252 95.1h1v1.6h-1ZM252 106.8h1v2.1h-1ZM252 110.3h1v1.9h-1ZM252 133.6h1v1.5h-1ZM252 163.2h1v2.7h-1ZM252 189.9h1v1.8h-1ZM252 206.2h1v3.1h-1ZM252 221h1v1h-1ZM252 249.9h1v3.3h-1ZM252 262.8h1v1.1h-1ZM252 292.5h1v2.8h-1ZM252 296.9h1v1.7h-1ZM252 302.4h1v3.4h-1ZM252 312.8h1v3.7h-1ZM252 341.6h1v1.3h-1ZM252 366.1h1v2.2h-1ZM252 393.3h1v3.5h-1ZM252 406.2h1v1.3h-1ZM253 82.5h1v3.8h-1ZM253 109.5h1v3.2h-1ZM253 140.4h1v2.9h-1ZM253 158.5h1v1.2h-1ZM253 183h1v2.3h-1ZM253 202.4h1v3.8h-1ZM253 210.5h1v3.3h-1ZM253 215.2h1v3.1h-1ZM253 245.3h1v1.8h-1ZM253 265.4h1v3.9h-1ZM253 290.6h1v2.6h-1ZM253 301.6h1v1.2h-1ZM253 314.7h1v2.2h-1ZM253 323.7h1v1.9h-1ZM253 330.2h1v3.1h-1ZM253 355.8h1v1.7h-1ZM253 365.6h1v2.5h-1ZM253 383h1v3.8h-1ZM253 398.6h1v1.9h-1ZM254 81.1h1v2.7h-1ZM254 95h1v3.4h-1ZM254 116.8h1v3.3h-1ZM254 125.7h1v3h-1ZM254 148.7h1v2.4h-1ZM254 176.7h1v3.5h-1ZM254 184.1h1v1.9h-1ZM254 198h1v1.6h-1ZM254 201.6h1v1.8h-1ZM254 210.1h1v3.1h-1ZM254 228.2h1v1.3h-1ZM254 240.4h1v2.4h-1ZM254 254.9h1v1.5h-1ZM254 258.8h1v1h-1ZM254 293.1h1v3.3h-1ZM254 299.1h1v3.2h-1ZM254 335.1h1v2.7h-1ZM254 341.4h1v2.5h-1ZM254 358.4h1v1.6h-1ZM254 378.1h1v1h-1ZM254 409.9h1v2.9h-1ZM255 85.1h1v3h-1ZM255 93.1h1v1.7h-1ZM255 97.6h1v1.1h-1ZM255 114.1h1v3.5h-1ZM255 123.6h1v1.6h-1ZM255 137.9h1v3.5h-1ZM255 160h1v1.5h-1ZM255 177.2h1v3.5h-1ZM255 195.5h1v2h-1ZM255 201.2h1v3.5h-1ZM255 211.1h1v2.1h-1ZM255 224.2h1v2.1h-1ZM255 242.9h1v1.7h-1ZM255 245.5h1v2.7h-1ZM255 260.7h1v3.5h-1ZM255 278.3h1v3.7h-1ZM255 300.9h1v2.5h-1ZM255 313.4h1v1.5h-1ZM255 320.9h1v2.7h-1ZM255 325.2h1v3.1h-1ZM255 331.5h1v2.3h-1ZM255 353.3h1v1.3h-1ZM255 355.3h1v2.3h-1ZM255 361.5h1v3.2h-1ZM255 364.7h1v3.5h-1ZM255 385.3h1v3.4h-1ZM255 397.2h1v1.8h-1ZM256 83h1v2.3h-1ZM256 92h1v2.3h-1ZM256 107.6h1v3.5h-1ZM256 129.2h1v1.5h-1ZM256 136.6h1v2.3h-1ZM256 150.2h1v2h-1ZM256 156.2h1v1.3h-1ZM256 163.9h1v2.4h-1ZM256 185.7h1v3.7h-1ZM256 206.7h1v3.9h-1ZM256 229.9h1v2.9h-1ZM256 249h1v1.2h-1ZM256 263.7h1v2.8h-1ZM256 272.5h1v2.7h-1ZM256 294.2h1v2.4h-1ZM256 309.6h1v1.9h-1ZM256 318.4h1v3.7h-1ZM256 322.6h1v1.6h-1ZM256 337.7h1v2.3h-1ZM256 341.8h1v3h-1ZM256 352.2h1v2.7h-1ZM256 363.3h1v2.6h-1ZM256 377.2h1v2.2h-1ZM256 381.6h1v1.5h-1ZM256 401h1v2.6h-1ZM256 405.9h1v3.6h-1ZM257 80.9h1v2.6h-1ZM257 88.5h1v2.5h-1ZM257 102h1v1.7h-1ZM257 115.2h1v1.3h-1ZM257 126.8h1v2.8h-1ZM257 131.2h1v2.2h-1ZM257 134.8h1v2.3h-1ZM257 154.4h1v2.7h-1ZM257 171.4h1v3.3h-1ZM257 176.9h1v4h-1ZM257 195.3h1v1.3h-1ZM257 213.3h1v2.2h-1ZM257 218.9h1v3.9h-1ZM257 234h1v3.3h-1ZM257 240.1h1v3.3h-1ZM257 244.5h1v1.7h-1ZM257 253.7h1v1h-1ZM257 266.6h1v1.6h-1ZM257 274.3h1v3.1h-1ZM257 285.9h1v3.7h-1ZM257 302h1v3.6h-1ZM257 316.9h1v3.8h-1ZM257 338h1v1.5h-1ZM257 354.5h1v2h-1ZM257 371.7h1v3h-1ZM257 391.3h1v1.4h-1ZM257 400.1h1v3.2h-1ZM258 84h1v1.1h-1ZM258 97.2h1v1.3h-1ZM258 109.5h1v3.4h-1ZM258 115.2h1v3.8h-1ZM258 132.4h1v1.8h-1ZM258 138.1h1v2.3h-1ZM258 157.2h1v2.7h-1ZM258 162.2h1v1.1h-1ZM258 165.5h1v3.4h-1ZM258 172.6h1v2.7h-1ZM258 181h1v3.1h-1ZM258 191.7h1v1.4h-1ZM258 210.6h1v2.6h-1ZM258 227.1h1v3.4h-1ZM258 249.5h1v1h-1ZM258 257.3h1v1.5h-1ZM258 268.8h1v3.6h-1ZM258 288.5h1v1.1h-1ZM258 293.2h1v3.5h-1ZM258 310.3h1v2.2h-1ZM258 321.9h1v1.5h-1ZM258 340.3h1v2.2h-1ZM258 360h1v2.8h-1ZM258 364.3h1v2h-1ZM258 370.6h1v3.7h-1ZM258 386.1h1v1.1h-1ZM258 390.6h1v2.1h-1ZM258 402.1h1v2.7h-1ZM259 82.2h1v1h-1ZM259 94.8h1v2h-1ZM259 97.2h1v2.4h-1ZM259 119.3h1v1.1h-1ZM259 123.3h1v3h-1ZM259 131.8h1v1.8h-1ZM259 143.6h1v1.8h-1ZM259 156.8h1v2.6h-1ZM259 178.5h1v4h-1ZM259 183.2h1v2.7h-1ZM259 201.3h1v3.6h-1ZM259 220.4h1v2.9h-1ZM259 236h1v2.1h-1ZM259 243.7h1v3.4h-1ZM259 264.5h1v3.8h-1ZM259 282h1v1.9h-1ZM259 299.2h1v3.2h-1ZM259 312.5h1v2.9h-1ZM259 322.5h1v2.7h-1ZM259 333.2h1v1.2h-1ZM259 341.2h1v2h-1ZM259 362.9h1v2.4h-1ZM259 372.7h1v1.7h-1ZM259 379.1h1v2h-1ZM259 383.9h1v1h-1ZM259 402.3h1v2.4h-1ZM260 83.2h1v1.9h-1ZM260 88.5h1v1.2h-1ZM260 95.8h1v1.9h-1ZM260 112.2h1v2.7h-1ZM260 133.6h1v2h-1ZM260 154.1h1v2.8h-1ZM260 158.4h1v1.5h-1ZM260 171.6h1v4h-1ZM260 182.7h1v3.3h-1ZM260 194.6h1v3.6h-1ZM260 199.5h1v2.5h-1ZM260 219.9h1v1.8h-1ZM260 226.9h1v1.1h-1ZM260 231.3h1v1.8h-1ZM260 247.2h1v1.7h-1ZM260 256.8h1v1.6h-1ZM260 270.5h1v3.6h-1ZM260 287h1v1.6h-1ZM260 303.3h1v3.9h-1ZM260 319.2h1v1.2h-1ZM260 336.6h1v3.6h-1ZM260 347.1h1v1.4h-1ZM260 352.3h1v2.6h-1ZM260 372.4h1v2.9h-1ZM260 393.8h1v1.6h-1ZM260 401.9h1v3.2h-1ZM261 82.4h1v3h-1ZM261 92.2h1v1.2h-1ZM261 101.7h1v1.1h-1ZM261 115.3h1v2h-1ZM261 127.2h1v2.8h-1ZM261 135.2h1v2.4h-1ZM261 137.8h1v3.8h-1ZM261 152.9h1v4h-1ZM261 158h1v2.8h-1ZM261 175.3h1v2h-1ZM261 179.1h1v1.5h-1ZM261 183.5h1v3.3h-1ZM261 188.6h1v3.4h-1ZM261 200.5h1v2.6h-1ZM261 214.9h1v2.7h-1ZM261 230.7h1v2.8h-1ZM261 240.1h1v3.2h-1ZM261 248.5h1v3.1h-1ZM261 266.9h1v3.3h-1ZM261 276.4h1v3.3h-1ZM261 299.3h1v2.4h-1ZM261 307.2h1v2.6h-1ZM261 328.6h1v1.4h-1ZM261 330.1h1v2.4h-1ZM261 345.7h1v3.3h-1ZM261 356.3h1v4h-1ZM261 364.8h1v3.3h-1ZM261 369.9h1v1.1h-1ZM261 373.6h1v1.2h-1ZM261 384.8h1v2.7h-1ZM261 391.1h1v3.8h-1ZM261 402.3h1v1.4h-1ZM261 407.3h1v3.2h-1ZM262 81.2h1v1.1h-1ZM262 97.9h1v1.7h-1ZM262 119.2h1v2.5h-1ZM262 134.5h1v2h-1ZM262 152.5h1v2.4h-1ZM262 161.4h1v3.7h-1ZM262 167.2h1v3.2h-1ZM262 171.7h1v2.9h-1ZM262 182.7h1v3.6h-1ZM262 187.5h1v2.7h-1ZM262 198.4h1v3.8h-1ZM262 221h1v2.9h-1ZM262 228.4h1v1.8h-1ZM262 235.4h1v2.3h-1ZM262 242.3h1v1.6h-1ZM262 259.1h1v2.9h-1ZM262 268h1v4h-1ZM262 276.3h1v2.7h-1ZM262 282.2h1v3.6h-1ZM262 303.2h1v1.8h-1ZM262 320h1v3.5h-1ZM262 329.1h1v2h-1ZM262 340.8h1v3.7h-1ZM262 347.7h1v3h-1ZM262 362.7h1v2.4h-1ZM262 376.7h1v3.6h-1ZM262 384.5h1v3.7h-1ZM262 395.4h1v3.3h-1ZM263 81.3h1v3.6h-1ZM263 104.8h1v1.9h-1ZM263 107.2h1v1.3h-1ZM263 128h1v1h-1ZM263 147.3h1v1.5h-1ZM263 163.4h1v1.3h-1ZM263 168.1h1v3h-1ZM263 173h1v2h-1ZM263 193.3h1v3.1h-1ZM263 214.1h1v3.9h-1ZM263 218.7h1v1.7h-1ZM263 236.3h1v3.1h-1ZM263 240.1h1v2.5h-1ZM263 247.2h1v2.3h-1ZM263 251.6h1v1.1h-1ZM263 272.5h1v1.9h-1ZM263 292h1v1.4h-1ZM263 303.1h1v1.4h-1ZM263 313.1h1v1.5h-1ZM263 328.4h1v1.4h-1ZM263 344.6h1v2.5h-1ZM263 349.3h1v2.1h-1ZM263 361.3h1v3.8h-1ZM263 372.1h1v1.6h-1ZM263 393h1v3.6h-1ZM264 81.8h1v1.5h-1ZM264 88.6h1v1.2h-1ZM264 90.7h1v2.5h-1ZM264 101.3h1v2.7h-1ZM264 111.3h1v1h-1ZM264 126.1h1v3h-1ZM264 139.9h1v2.6h-1ZM264 156.4h1v3.9h-1ZM264 177.8h1v3.2h-1ZM264 188.9h1v2h-1ZM264 199.3h1v3.9h-1ZM264 210.9h1v2.2h-1ZM264 221.3h1v1.4h-1ZM264 242.7h1v1h-1ZM264 255.8h1v3.8h-1ZM264 264.7h1v2.8h-1ZM264 275.1h1v1.7h-1ZM264 280.8h1v1.3h-1ZM264 299h1v3.4h-1ZM264 320.5h1v1.1h-1ZM264 335.5h1v2h-1ZM264 350.4h1v2.6h-1ZM264 359.4h1v3.9h-1ZM264 363.3h1v3.2h-1ZM264 383.6h1v2.5h-1ZM264 398h1v4h-1ZM264 406.7h1v2.9h-1ZM265 82.3h1v3.1h-1ZM265 93.3h1v2.6h-1ZM265 108.1h1v3h-1ZM265 117.6h1v2.9h-1ZM265 131.4h1v1.7h-1ZM265 145.3h1v1.8h-1ZM265 165.2h1v2.4h-1ZM265 182.1h1v2.6h-1ZM265 194.2h1v1.7h-1ZM265 198.7h1v3.8h-1ZM265 213.1h1v2.6h-1ZM265 226.2h1v3.4h-1ZM265 234.4h1v1.5h-1ZM265 252.3h1v2.4h-1ZM265 267.5h1v3.5h-1ZM265 288.9h1v3.6h-1ZM265 293.4h1v2.1h-1ZM265 312.2h1v3.5h-1ZM265 318.1h1v1.5h-1ZM265 324.6h1v1.3h-1ZM265 333h1v3.4h-1ZM265 346.8h1v2.4h-1ZM265 351h1v2.2h-1ZM265 373.1h1v3.1h-1ZM265 385.2h1v2.4h-1ZM265 403.6h1v3.3h-1ZM265 409.8h1v3h-1ZM266 83h1v1.7h-1ZM266 92.1h1v2h-1ZM266 101.8h1v1.1h-1ZM266 106.8h1v2.7h-1ZM266 110.7h1v1.5h-1ZM266 126.6h1v1.8h-1ZM266 134.9h1v1.7h-1ZM266 153.3h1v1.3h-1ZM266 167.3h1v3.6h-1ZM266 174.9h1v2.3h-1ZM266 193h1v2.9h-1ZM266 203.3h1v1.1h-1ZM266 213.3h1v2.1h-1ZM266 229.7h1v1.9h-1ZM266 239.7h1v2.9h-1ZM266 258.9h1v2.1h-1ZM266 268.6h1v2.7h-1ZM266 289.9h1v1.6h-1ZM266 310.9h1v3.1h-1ZM266 321.5h1v3h-1ZM266 331h1v1.2h-1ZM266 347.4h1v2.1h-1ZM266 360h1v2.5h-1ZM266 380.5h1v3.3h-1ZM266 384.3h1v2.8h-1ZM266 396.4h1v2.4h-1ZM267 82.5h1v2.4h-1ZM267 102.7h1v2.3h-1ZM267 114.8h1v2.5h-1ZM267 133.9h1v3h-1ZM267 151.7h1v2.2h-1ZM267 154.7h1v3h-1ZM267 168.8h1v3.3h-1ZM267 187.5h1v1.4h-1ZM267 193.3h1v1.2h-1ZM267 210.9h1v1.3h-1ZM267 214h1v3.3h-1ZM267 228.5h1v1.2h-1ZM267 243.3h1v3.1h-1ZM267 256.1h1v1.2h-1ZM267 271.1h1v2.3h-1ZM267 285h1v4h-1ZM267 305.3h1v3.6h-1ZM267 311.9h1v2h-1ZM267 324.2h1v1h-1ZM267 345h1v1.8h-1ZM267 352.1h1v1.9h-1ZM267 359.1h1v3.6h-1ZM267 373.8h1v2.5h-1ZM267 384.7h1v1.2h-1ZM267 392h1v3.6h-1ZM268 84.7h1v1.8h-1ZM268 90.5h1v1.2h-1ZM268 102.4h1v2.1h-1ZM268 113.8h1v2.5h-1ZM268 127.9h1v2.1h-1ZM268 146.1h1v1.6h-1ZM268 166.1h1v2.7h-1ZM268 169.7h1v1.9h-1ZM268 182.3h1v2.2h-1ZM268 195.9h1v2h-1ZM268 203.3h1v3.4h-1ZM268 212.5h1v3.1h-1ZM268 231.7h1v2.8h-1ZM268 243.6h1v3.8h-1ZM268 256.3h1v3.6h-1ZM268 261.1h1v2.3h-1ZM268 276.2h1v1.1h-1ZM268 294.6h1v1.2h-1ZM268 307.7h1v1.5h-1ZM268 327.7h1v2.7h-1ZM268 346.4h1v2.5h-1ZM268 362.4h1v3h-1ZM268 371.3h1v1.6h-1ZM268 389.7h1v1.4h-1ZM268 409.5h1v1.6h-1ZM269 80.9h1v3.4h-1ZM269 103.2h1v2.2h-1ZM269 118.7h1v1.8h-1ZM269 138.6h1v3.1h-1ZM269 144.7h1v1.2h-1ZM269 159.8h1v1.1h-1ZM269 177.6h1v1.9h-1ZM269 184.2h1v2.7h-1ZM269 193.3h1v2.7h-1ZM269 199.1h1v3.7h-1ZM269 209.3h1v3.5h-1ZM269 215.8h1v3.4h-1ZM269 238.8h1v2.2h-1ZM269 241.7h1v2.1h-1ZM269 256.6h1v1.7h-1ZM269 269.2h1v1.3h-1ZM269 279.8h1v3.2h-1ZM269 291.6h1v3h-1ZM269 296.9h1v3.5h-1ZM269 302.8h1v3.8h-1ZM269 326.5h1v3.8h-1ZM269 340.9h1v1.9h-1ZM269 349.7h1v3.3h-1ZM269 362.9h1v3.8h-1ZM269 368.5h1v2.5h-1ZM269 388.3h1v2.8h-1ZM269 401.9h1v1.3h-1ZM269 405.9h1v1.8h-1ZM270 84.6h1v1.7h-1ZM270 104.8h1v1.1h-1ZM270 117.9h1v3.9h-1ZM270 128.7h1v3.8h-1ZM270 145.6h1v1.2h-1ZM270 153.4h1v2.3h-1ZM270 160.7h1v3.2h-1ZM270 167.5h1v3.4h-1ZM270 176.9h1v1.2h-1ZM270 189.3h1v1.3h-1ZM270 201.6h1v3.4h-1ZM270 216.9h1v2.4h-1ZM270 219.9h1v2.5h-1ZM270 224.4h1v2.9h-1ZM270 230h1v2.7h-1ZM270 239.8h1v2.1h-1ZM270 255.2h1v1.5h-1ZM270 260h1v3.8h-1ZM270 270.5h1v3.5h-1ZM270 291.5h1v2.4h-1ZM270 296.9h1v1.3h-1ZM270 315.8h1v1.4h-1ZM270 327.1h1v2.6h-1ZM270 332h1v2.4h-1ZM270 337.7h1v2.6h-1ZM270 350.4h1v2.1h-1ZM270 356.5h1v2.2h-1ZM270 362.8h1v1.4h-1ZM270 369h1v3.6h-1ZM270 382.6h1v3.7h-1ZM270 386.6h1v3.8h-1ZM270 400.2h1v3.4h-1ZM271 83.8h1v1.7h-1ZM271 100.5h1v1.5h-1ZM271 107.3h1v1.1h-1ZM271 116.2h1v2.6h-1ZM271 124.6h1v3.7h-1ZM271 130h1v2.7h-1ZM271 137.4h1v2.8h-1ZM271 155.9h1v3.1h-1ZM271 160.2h1v1.7h-1ZM271 174h1v3.9h-1ZM271 178.7h1v2.9h-1ZM271 195.4h1v3.4h-1ZM271 205.7h1v3.4h-1ZM271 218.4h1v3.8h-1ZM271 222.4h1v3.8h-1ZM271 234.4h1v2.2h-1ZM271 238.4h1v1.7h-1ZM271 254.8h1v3h-1ZM271 260.9h1v2h-1ZM271 265.7h1v1.6h-1ZM271 271.7h1v2h-1ZM271 293.2h1v4h-1ZM271 313h1v2.4h-1ZM271 325.4h1v3.3h-1ZM271 346.9h1v3.3h-1ZM271 362.9h1v1.6h-1ZM271 377h1v3.5h-1ZM271 396.3h1v1.3h-1ZM272 82.1h1v1.5h-1ZM272 102.9h1v3h-1ZM272 120.9h1v1.4h-1ZM272 138.9h1v3.8h-1ZM272 160.8h1v3.2h-1ZM272 180.6h1v3.4h-1ZM272 195.9h1v2.3h-1ZM272 214.7h1v3.4h-1ZM272 235.4h1v1.9h-1ZM272 256.6h1v2.6h-1ZM272 278.1h1v1.3h-1ZM272 298.8h1v3.4h-1ZM272 307.2h1v3.5h-1ZM272 315.3h1v1.6h-1ZM272 326.1h1v1.7h-1ZM272 337.7h1v3.7h-1ZM272 355.1h1v3.1h-1ZM272 366.1h1v3.4h-1ZM272 385.3h1v3h-1ZM272 407.2h1v3.5h-1ZM273 80.8h1v3h-1ZM273 100.5h1v2h-1ZM273 114.4h1v3.5h-1ZM273 133.8h1v1h-1ZM273 144.6h1v1h-1ZM273 147.9h1v3.4h-1ZM273 159.7h1v2.8h-1ZM273 171.6h1v2h-1ZM273 177.9h1v2.1h-1ZM273 196.9h1v2.9h-1ZM273 205.6h1v1.3h-1ZM273 212.2h1v3.1h-1ZM273 224.2h1v3h-1ZM273 243.3h1v1.4h-1ZM273 258.3h1v1.1h-1ZM273 275.9h1v1.6h-1ZM273 282.9h1v3.9h-1ZM273 294h1v1.7h-1ZM273 313.5h1v2.8h-1ZM273 334.2h1v2.2h-1ZM273 346.4h1v3.9h-1ZM273 360.4h1v4h-1ZM273 368.1h1v3.5h-1ZM273 374.9h1v2.6h-1ZM273 377.5h1v1.5h-1ZM273 397.9h1v2.4h-1ZM274 81.7h1v2.1h-1ZM274 83.9h1v2.7h-1ZM274 88.6h1v2.5h-1ZM274 92.1h1v3.8h-1ZM274 98h1v3h-1ZM274 101.1h1v2.9h-1ZM274 105h1v3.9h-1ZM274 109.8h1v3h-1ZM274 114.2h1v2.1h-1ZM274 117.6h1v3h-1ZM274 122.8h1v2.5h-1ZM274 126.1h1v3.9h-1ZM274 130.2h1v3.5h-1ZM274 135.3h1v2.7h-1ZM274 139h1v3.3h-1ZM274 144.4h1v3.2h-1ZM274 149.3h1v1.1h-1ZM274 151.2h1v1.4h-1ZM274 154.8h1v3.7h-1ZM274 158.9h1v2.8h-1ZM274 163h1v1.1h-1ZM274 165h1v3.2h-1ZM274 169.8h1v1.8h-1ZM274 173.4h1v1.9h-1ZM274 176.6h1v2.3h-1ZM274 181.1h1v2.9h-1ZM274 186h1v3h-1ZM274 189.9h1v3.9h-1ZM274 195.5h1v3.1h-1ZM274 199.2h1v1.5h-1ZM274 202h1v3.5h-1ZM274 207.4h1v2h-1ZM274 209.7h1v2.5h-1ZM274 214.4h1v1.5h-1ZM274 217.6h1v1.5h-1ZM274 219.8h1v1.2h-1ZM274 221.7h1v2.1h-1ZM274 226.1h1v3.9h-1ZM274 230.4h1v1.9h-1ZM274 234.6h1v1.6h-1ZM274 236.9h1v2.3h-1ZM274 239.5h1v1.8h-1ZM274 242.2h1v2.2h-1ZM274 246.6h1v1.8h-1ZM274 248.9h1v3.7h-1ZM274 253.7h1v3.5h-1ZM274 258.7h1v3.3h-1ZM274 262.8h1v1.5h-1ZM274 266h1v2.4h-1ZM274 269.8h1v3h-1ZM274 274.5h1v1.8h-1ZM274 277.2h1v3.8h-1ZM274 282.2h1v1.9h-1ZM274 285.6h1v1.8h-1ZM274 289.2h1v1.1h-1ZM274 292.2h1v2.7h-1ZM274 295.8h1v3.8h-1ZM274 300.2h1v1.7h-1ZM274 302.1h1v2.6h-1ZM274 306.5h1v3h-1ZM274 310.5h1v3.4h-1ZM274 314.2h1v1.9h-1ZM274 317.6h1v3.9h-1ZM274 323h1v3.1h-1ZM274 327.9h1v2.2h-1ZM274 332.3h1v3.2h-1ZM274 336.4h1v2.2h-1ZM274 340.4h1v2h-1ZM274 342.9h1v3.6h-1ZM274 347.8h1v2.6h-1ZM274 351.9h1v3.7h-1ZM274 355.9h1v2h-1ZM274 358.1h1v2.2h-1ZM274 361.5h1v3.6h-1ZM274 366.7h1v2.7h-1ZM274 370.3h1v2.7h-1ZM274 373.7h1v3.5h-1ZM274 379.1h1v3.5h-1ZM274 383h1v3h-1ZM274 387.8h1v2.5h-1ZM274 392.4h1v3.7h-1ZM274 397.8h1v3.5h-1ZM274 402.8h1v3.6h-1ZM274 406.8h1v3.1h-1ZM275 83.5h1v1.8h-1ZM275 85.4h1v2.8h-1ZM275 90.2h1v1.8h-1ZM275 92.5h1v1.7h-1ZM275 94.4h1v3h-1ZM275 99.7h1v3.4h-1ZM275 104h1v3.1h-1ZM275 107.3h1v3.5h-1ZM275 111.5h1v1h-1ZM275 114h1v1.4h-1ZM275 116.1h1v1.2h-1ZM275 118.3h1v2.7h-1ZM275 122.9h1v1.1h-1ZM275 125.9h1v1.3h-1ZM275 127.8h1v2.9h-1ZM275 131.5h1v2h-1ZM275 134.8h1v1.7h-1ZM275 138.3h1v1.6h-1ZM275 141.9h1v3.4h-1ZM275 146.6h1v1.1h-1ZM275 149.6h1v1.1h-1ZM275 151.8h1v2.3h-1ZM275 154.2h1v2.9h-1ZM275 158.8h1v2.8h-1ZM275 162.5h1v2.5h-1ZM275 166.5h1v1.7h-1ZM275 170.2h1v4h-1ZM275 176.1h1v3.9h-1ZM275 180.7h1v4h-1ZM275 184.8h1v2.4h-1ZM275 187.6h1v2.4h-1ZM275 191.6h1v3.1h-1ZM275 195.8h1v2h-1ZM275 198.2h1v2.2h-1ZM275 201.1h1v1.6h-1ZM275 204.4h1v2.5h-1ZM275 208h1v1.6h-1ZM275 211.2h1v1.6h-1ZM275 213.5h1v2.7h-1ZM275 217.8h1v3.9h-1ZM275 223.5h1v3.8h-1ZM275 229.5h1v3.2h-1ZM275 234.3h1v1.2h-1ZM275 236h1v1h-1ZM275 239.1h1v3.2h-1ZM275 243.7h1v1.8h-1ZM275 246.4h1v1.5h-1ZM275 249.3h1v4h-1ZM275 254h1v1.1h-1ZM275 255.6h1v2.1h-1ZM275 259.8h1v3.4h-1ZM275 264.2h1v1.3h-1ZM275 265.8h1v1.5h-1ZM275 269.1h1v2.4h-1ZM275 273.8h1v3.7h-1ZM275 279.4h1v2.4h-1ZM275 283.8h1v1.4h-1ZM275 285.4h1v2.7h-1ZM275 289.3h1v1.6h-1ZM275 291.6h1v1.1h-1ZM275 294.8h1v3.1h-1ZM275 300.1h1v3.9h-1ZM275 305.1h1v3.2h-1ZM275 309.2h1v3.4h-1ZM275 314.6h1v1.4h-1ZM275 316h1v1.6h-1ZM275 319h1v2.1h-1ZM275 321.2h1v3.5h-1ZM275 326.5h1v2.4h-1ZM275 329h1v3.7h-1ZM275 334h1v1.2h-1ZM275 335.9h1v2.9h-1ZM275 340.9h1v2.5h-1ZM275 344.8h1v1.6h-1ZM275 347h1v3.7h-1ZM275 351.7h1v1.3h-1ZM275 354.4h1v1.4h-1ZM275 356.2h1v2.4h-1ZM275 360h1v2.9h-1ZM275 364.5h1v2.3h-1ZM275 367h1v3.2h-1ZM275 370.3h1v2.4h-1ZM275 373.7h1v3h-1ZM275 378.4h1v1.7h-1ZM275 381.6h1v3.1h-1ZM275 385.8h1v1.4h-1ZM275 389.4h1v2.8h-1ZM275 392.3h1v1.7h-1ZM275 396.3h1v1.7h-1ZM275 398.9h1v3.4h-1ZM275 404.3h1v2.9h-1ZM275 408.9h1v1.1h-1ZM275 410.2h1v3.9h-1ZM276 80.6h1v1.1h-1ZM276 82.3h1v3.8h-1ZM276 86.6h1v3h-1ZM276 91.8h1v2.9h-1ZM276 96.9h1v1.8h-1ZM276 99h1v1.1h-1ZM276 101.9h1v1.3h-1ZM276 105.5h1v3.1h-1ZM276 109.1h1v3.4h-1ZM276 112.9h1v2.5h-1ZM276 115.6h1v3.4h-1ZM276 121.1h1v3.7h-1ZM276 124.8h1v3.6h-1ZM276 129.7h1v3.5h-1ZM276 134.4h1v2.9h-1ZM276 138.6h1v3.4h-1ZM276 142.2h1v1.2h-1ZM276 144.6h1v1.9h-1ZM276 147.5h1v1h-1ZM276 150.2h1v1.1h-1ZM276 153.3h1v3.4h-1ZM276 157.8h1v1.4h-1ZM276 160.7h1v1.6h-1ZM276 163.3h1v1.3h-1ZM276 166.9h1v2.6h-1ZM276 170.4h1v1.3h-1ZM276 173.4h1v3.5h-1ZM276 178.9h1v1.3h-1ZM276 181.1h1v1.9h-1ZM276 184.8h1v1.4h-1ZM276 187.7h1v3.9h-1ZM276 193.4h1v1h-1ZM276 194.6h1v1.3h-1ZM276 197.6h1v2.8h-1ZM276 201.6h1v2.4h-1ZM276 204.9h1v2.8h-1ZM276 209.3h1v3.7h-1ZM276 214.8h1v3.4h-1ZM276 220.3h1v3.5h-1ZM276 225.5h1v1.1h-1ZM276 228.2h1v3.5h-1ZM276 232.8h1v3.6h-1ZM276 236.8h1v3.8h-1ZM276 241.7h1v3.1h-1ZM276 245.4h1v1.9h-1ZM276 248.1h1v2h-1ZM276 250.3h1v2.3h-1ZM276 255h1v3h-1ZM276 260.1h1v3.3h-1ZM276 265.4h1v4h-1ZM276 271.1h1v1.8h-1ZM276 273.5h1v2.2h-1ZM276 275.8h1v1.7h-1ZM276 279.6h1v3.8h-1ZM276 284.1h1v3.3h-1ZM276 289.3h1v3.7h-1ZM276 294.8h1v2.6h-1ZM276 297.6h1v3.5h-1ZM276 301.9h1v2.9h-1ZM276 305.6h1v2.6h-1ZM276 310.5h1v1.5h-1ZM276 313.2h1v2.9h-1ZM276 317.4h1v3.8h-1ZM276 322.2h1v3.7h-1ZM276 327.6h1v3.9h-1ZM276 331.7h1v1.6h-1ZM276 334h1v3.7h-1ZM276 337.8h1v1.8h-1ZM276 341.2h1v4h-1ZM276 345.6h1v2.3h-1ZM276 349.5h1v3.1h-1ZM276 354.4h1v3.3h-1ZM276 358.2h1v1.8h-1ZM276 360h1v3.1h-1ZM276 363.6h1v1.8h-1ZM276 367.7h1v2.9h-1ZM276 372h1v3h-1ZM276 376.3h1v3.1h-1ZM276 380.1h1v1.2h-1ZM276 381.5h1v1h-1ZM276 383.4h1v1.4h-1ZM276 385.1h1v2.5h-1ZM276 389.8h1v3.1h-1ZM276 393.6h1v3.3h-1ZM276 397.3h1v1.3h-1ZM276 399.3h1v2.2h-1ZM276 403.1h1v2.3h-1ZM276 407.2h1v1.3h-1ZM276 410.7h1v2h-1ZM277 80.6h1v3.5h-1ZM277 84.6h1v3.6h-1ZM277 90h1v3h-1ZM277 93.7h1v1h-1ZM277 95.2h1v3.7h-1ZM277 99.3h1v3h-1ZM277 103.6h1v3h-1ZM277 107h1v1.4h-1ZM277 108.7h1v3.9h-1ZM277 113.5h1v3h-1ZM277 117.8h1v1.7h-1ZM277 119.7h1v1h-1ZM277 122.7h1v1.4h-1ZM277 126.4h1v2.1h-1ZM277 130.1h1v1.4h-1ZM277 133.4h1v1.8h-1ZM277 136h1v2.6h-1ZM277 138.9h1v1.7h-1ZM277 142.5h1v1.9h-1ZM277 145.2h1v3.3h-1ZM277 149.1h1v1.6h-1ZM277 151.2h1v2.2h-1ZM277 154.2h1v2.9h-1ZM277 158.2h1v3.6h-1ZM277 161.9h1v3h-1ZM277 166.9h1v1.7h-1ZM277 168.7h1v2.3h-1ZM277 171.2h1v2.4h-1ZM277 175.3h1v1.3h-1ZM277 176.9h1v2.4h-1ZM277 179.7h1v1.7h-1ZM277 182.4h1v1.4h-1ZM277 184h1v2.1h-1ZM277 187.1h1v3.8h-1ZM277 192.3h1v1.2h-1ZM277 194h1v3.2h-1ZM277 198.5h1v3.6h-1ZM277 204.4h1v3.6h-1ZM277 208.3h1v3.8h-1ZM277 213.3h1v1.7h-1ZM277 215.4h1v3.6h-1ZM277 219.5h1v1.2h-1ZM277 221.4h1v3.8h-1ZM277 226.3h1v3.2h-1ZM277 229.6h1v2.4h-1ZM277 232.7h1v1.6h-1ZM277 235.9h1v2.1h-1ZM277 238.3h1v4h-1ZM277 243.4h1v1.5h-1ZM277 244.9h1v3h-1ZM277 249.1h1v1.1h-1ZM277 251.3h1v3.2h-1ZM277 255.8h1v1.7h-1ZM277 258.6h1v2.8h-1ZM277 263h1v1.4h-1ZM277 266.3h1v3.8h-1ZM277 271.9h1v3.6h-1ZM277 276.3h1v3.7h-1ZM277 280.5h1v1.7h-1ZM277 283.6h1v3.7h-1ZM277 287.5h1v1.7h-1ZM277 289.2h1v2.3h-1ZM277 291.8h1v1.6h-1ZM277 295.2h1v2.7h-1ZM277 300.1h1v2.2h-1ZM277 303.9h1v1h-1ZM277 307.2h1v1.7h-1ZM277 310h1v2.5h-1ZM277 314.8h1v2.5h-1ZM277 319.6h1v2.9h-1ZM277 323h1v3.5h-1ZM277 327h1v4h-1ZM277 332h1v1.7h-1ZM277 336h1v2h-1ZM277 338.9h1v2h-1ZM277 342.5h1v1.1h-1ZM277 344.4h1v1.5h-1ZM277 347.9h1v1h-1ZM277 350.3h1v1.8h-1ZM277 353.2h1v2.7h-1ZM277 357.5h1v1.4h-1ZM277 359.5h1v1.4h-1ZM277 363.1h1v1.4h-1ZM277 364.9h1v2.6h-1ZM277 368.8h1v3.7h-1ZM277 372.6h1v1.7h-1ZM277 374.7h1v2.8h-1ZM277 378.5h1v2.2h-1ZM277 382.8h1v3h-1ZM277 387.9h1v3.9h-1ZM277 392.4h1v3.8h-1ZM277 397.1h1v1.2h-1ZM277 400.5h1v1.3h-1ZM277 401.8h1v1.9h-1ZM277 404.4h1v3.9h-1ZM277 410.3h1v2.3h-1ZM278 84.6h1v3.4h-1ZM278 89.6h1v2.5h-1ZM278 92.4h1v1.7h-1ZM278 95.7h1v2.8h-1ZM278 100.3h1v3.7h-1ZM278 106.3h1v1.6h-1ZM278 108.1h1v3.7h-1ZM278 113.1h1v1.5h-1ZM278 116.3h1v1.8h-1ZM278 118.6h1v2.1h-1ZM278 121.9h1v3h-1ZM278 125.1h1v3.2h-1ZM278 129.8h1v2.4h-1ZM278 133.8h1v3.4h-1ZM278 137.2h1v2.4h-1ZM278 141.3h1v3.1h-1ZM278 145.9h1v1.5h-1ZM278 149.7h1v3.4h-1ZM278 153.6h1v2.3h-1ZM278 158.2h1v1.6h-1ZM278 160.7h1v3.9h-1ZM278 166.7h1v1.7h-1ZM278 170.2h1v2.1h-1ZM278 173.8h1v3.3h-1ZM278 177.4h1v1.7h-1ZM278 179.6h1v1.8h-1ZM278 181.5h1v1.4h-1ZM278 183.8h1v2.3h-1ZM278 186.3h1v2.7h-1ZM278 191.2h1v2.7h-1ZM278 194.8h1v3.1h-1ZM278 198.9h1v1.5h-1ZM278 201.6h1v1.1h-1ZM278 204.3h1v1.5h-1ZM278 206.6h1v3.9h-1ZM278 212.3h1v3.5h-1ZM278 217.3h1v2.9h-1ZM278 221.9h1v3.9h-1ZM278 226.2h1v3.3h-1ZM278 230.2h1v1.8h-1ZM278 233.9h1v2.8h-1ZM278 238.7h1v3.6h-1ZM278 243.8h1v1.6h-1ZM278 245.4h1v2.6h-1ZM278 249.7h1v1.8h-1ZM278 251.7h1v1h-1ZM278 253.1h1v3.1h-1ZM278 256.2h1v1.7h-1ZM278 258.5h1v3.1h-1ZM278 264h1v1.1h-1ZM278 265.3h1v3.8h-1ZM278 271.4h1v1.4h-1ZM278 273.6h1v2.6h-1ZM278 276.9h1v2.3h-1ZM278 280.3h1v1.8h-1ZM278 282.2h1v1.3h-1ZM278 283.9h1v1.3h-1ZM278 286.6h1v3.1h-1ZM278 290.3h1v3.4h-1ZM278 295.4h1v2h-1ZM278 298.6h1v1.6h-1ZM278 302.3h1v2.7h-1ZM278 305.1h1v1.5h-1ZM278 308.2h1v2.2h-1ZM278 312.1h1v1.7h-1ZM278 315.6h1v3.4h-1ZM278 319.3h1v2.8h-1ZM278 322.5h1v3.1h-1ZM278 327.5h1v3.4h-1ZM278 331.4h1v1.3h-1ZM278 334.2h1v2.7h-1ZM278 337.3h1v1.6h-1ZM278 340.2h1v1.3h-1ZM278 343h1v1.7h-1ZM278 345.4h1v2.3h-1ZM278 348.9h1v3.2h-1ZM278 352.1h1v3.2h-1ZM278 355.8h1v1.9h-1ZM278 359.2h1v3.1h-1ZM278 363.7h1v3.7h-1ZM278 367.9h1v1.9h-1ZM278 371.4h1v1.8h-1ZM278 373.5h1v1.7h-1ZM278 377h1v3.5h-1ZM278 382.2h1v3.9h-1ZM278 388h1v1.9h-1ZM278 390.6h1v3.2h-1ZM278 393.9h1v2.8h-1ZM278 397h1v1.1h-1ZM278 399.3h1v1.5h-1ZM278 403h1v3.6h-1ZM278 407.7h1v1.6h-1ZM278 409.6h1v2.5h-1ZM279 82.2h1v3.1h-1ZM279 86.6h1v3.3h-1ZM279 90.2h1v1.2h-1ZM279 92.3h1v2.5h-1ZM279 95.4h1v3h-1ZM279 98.9h1v2h-1ZM279 102h1v3.1h-1ZM279 106.9h1v2.1h-1ZM279 110.1h1v3.8h-1ZM279 116.1h1v2.9h-1ZM279 119.2h1v2.4h-1ZM279 123h1v1.8h-1ZM279 124.9h1v3.9h-1ZM279 131h1v1.4h-1ZM279 133.5h1v2.9h-1ZM279 137.1h1v1.2h-1ZM279 140h1v3.3h-1ZM279 144.4h1v1.3h-1ZM279 146.6h1v1.3h-1ZM279 150.1h1v1.2h-1ZM279 152h1v3.3h-1ZM279 155.6h1v1.3h-1ZM279 157.1h1v1.5h-1ZM279 159.8h1v3.5h-1ZM279 163.7h1v1.5h-1ZM279 167h1v2.3h-1ZM279 170.1h1v1.4h-1ZM279 172h1v3.9h-1ZM279 176.2h1v1.8h-1ZM279 179.7h1v3.7h-1ZM279 185.5h1v2.4h-1ZM279 190.2h1v2.8h-1ZM279 193.7h1v2.4h-1ZM279 197.8h1v3.2h-1ZM279 201.3h1v1.6h-1ZM279 205.1h1v1.3h-1ZM279 208.4h1v2h-1ZM279 211h1v1.8h-1ZM279 213.8h1v4h-1ZM279 218.2h1v3.6h-1ZM279 222.5h1v1.5h-1ZM279 225.7h1v2h-1ZM279 228.2h1v2.3h-1ZM279 232.4h1v3.6h-1ZM279 237.3h1v1h-1ZM279 240.2h1v2.8h-1ZM279 245.1h1v3.9h-1ZM279 249.7h1v3.5h-1ZM279 255.2h1v1.8h-1ZM279 257.9h1v2.1h-1ZM279 260.8h1v2.1h-1ZM279 263.2h1v1.7h-1ZM279 267h1v2.2h-1ZM279 270.8h1v3.7h-1ZM279 276.2h1v1.7h-1ZM279 280.1h1v3.4h-1ZM279 285.8h1v3.2h-1ZM279 290.8h1v3.4h-1ZM279 294.8h1v3h-1ZM279 298.7h1v3.5h-1ZM279 302.5h1v2.6h-1ZM279 305.9h1v3.5h-1ZM279 310.2h1v3.5h-1ZM279 315.7h1v3.6h-1ZM279 319.7h1v3.8h-1ZM279 325.3h1v3h-1ZM279 329.8h1v1.1h-1ZM279 333h1v2.6h-1ZM279 336.7h1v2h-1ZM279 340.6h1v3.3h-1ZM279 346h1v1.6h-1ZM279 348.4h1v1.7h-1ZM279 350.4h1v2h-1ZM279 352.5h1v3.4h-1ZM279 356.4h1v1.2h-1ZM279 357.8h1v3.2h-1ZM279 361.5h1v2.4h-1ZM279 364.8h1v3.4h-1ZM279 370.4h1v1.9h-1ZM279 373.9h1v3.7h-1ZM279 378.6h1v3.7h-1ZM279 384.1h1v1.9h-1ZM279 388.1h1v2.7h-1ZM279 391h1v2.8h-1ZM279 395.7h1v2.6h-1ZM279 399.4h1v2.2h-1ZM279 403.8h1v3h-1ZM279 407.2h1v2.1h-1ZM279 410.2h1v3.9h-1ZM280 81h1v3.7h-1ZM280 84.8h1v2.8h-1ZM280 88.6h1v3.2h-1ZM280 92.8h1v1.3h-1ZM280 95.3h1v3.5h-1ZM280 100.6h1v2.1h-1ZM280 103.2h1v3.2h-1ZM280 108.3h1v1.7h-1ZM280 112.1h1v4h-1ZM280 117.1h1v2.1h-1ZM280 120.9h1v3.8h-1ZM280 125.2h1v1.9h-1ZM280 127.8h1v3.2h-1ZM280 131.5h1v2.6h-1ZM280 135.3h1v3h-1ZM280 138.6h1v3.9h-1ZM280 144.8h1v2.7h-1ZM280 149.4h1v1.6h-1ZM280 153.1h1v2.7h-1ZM280 157.5h1v3.6h-1ZM280 162h1v3.8h-1ZM280 166.3h1v1.1h-1ZM280 168.5h1v3.7h-1ZM280 174.3h1v3.9h-1ZM280 179.4h1v3.8h-1ZM280 184.5h1v1.4h-1ZM280 187.4h1v3.4h-1ZM280 191.8h1v2.8h-1ZM280 195.2h1v1.8h-1ZM280 198.1h1v2.5h-1ZM280 201.7h1v1.3h-1ZM280 203h1v2h-1ZM280 206.7h1v3.2h-1ZM280 210.5h1v1.8h-1ZM280 213.5h1v1.5h-1ZM280 216.4h1v3.7h-1ZM280 220.6h1v2.8h-1ZM280 225.1h1v3.2h-1ZM280 230h1v3.1h-1ZM280 233.8h1v3.5h-1ZM280 239.5h1v1.2h-1ZM280 242.8h1v2.3h-1ZM280 245.4h1v1.2h-1ZM280 248.5h1v3h-1ZM280 251.8h1v2.4h-1ZM280 255.7h1v4h-1ZM280 260.5h1v3.3h-1ZM280 264.4h1v1.6h-1ZM280 266.3h1v2.2h-1ZM280 270h1v1.9h-1ZM280 272.3h1v1.7h-1ZM280 274.2h1v1.6h-1ZM280 276.5h1v2.5h-1ZM280 279.4h1v2.4h-1ZM280 282.9h1v3.9h-1ZM280 288h1v3.8h-1ZM280 292.9h1v1.6h-1ZM280 295.9h1v1.4h-1ZM280 297.7h1v1.2h-1ZM280 300.6h1v3.9h-1ZM280 305.5h1v2.1h-1ZM280 308.5h1v2.1h-1ZM280 312.2h1v2.2h-1ZM280 314.7h1v3.6h-1ZM280 319.7h1v1h-1ZM280 322.7h1v3.2h-1ZM280 326.7h1v2.9h-1ZM280 331.8h1v2.2h-1ZM280 335h1v1.9h-1ZM280 338.2h1v3h-1ZM280 342.9h1v3.8h-1ZM280 347.1h1v2.1h-1ZM280 351.2h1v3.4h-1ZM280 356h1v3h-1ZM280 359.8h1v3.8h-1ZM280 364.9h1v2.2h-1ZM280 367.6h1v1.3h-1ZM280 371h1v3.4h-1ZM280 374.5h1v2h-1ZM280 377.6h1v2.5h-1ZM280 380.9h1v3.7h-1ZM280 385.4h1v2.6h-1ZM280 390.2h1v2.9h-1ZM280 394.2h1v2h-1ZM280 397.2h1v2.8h-1ZM280 401.8h1v1.8h-1ZM280 404.5h1v2.2h-1ZM280 407.5h1v3.7h-1ZM281 81.8h1v2h-1ZM281 85.7h1v1.5h-1ZM281 88.8h1v1.1h-1ZM281 90.3h1v1.2h-1ZM281 93.4h1v1.4h-1ZM281 95.4h1v1.2h-1ZM281 97.2h1v3.2h-1ZM281 102.1h1v3.7h-1ZM281 108h1v2.7h-1ZM281 112.9h1v1.3h-1ZM281 116.3h1v2.3h-1ZM281 119.1h1v3.2h-1ZM281 124.3h1v2.2h-1ZM281 126.7h1v3.6h-1ZM281 132.1h1v2.8h-1ZM281 137.2h1v1.1h-1ZM281 138.4h1v1.4h-1ZM281 139.8h1v3.1h-1ZM281 144.5h1v1.3h-1ZM281 146.2h1v1.5h-1ZM281 149.1h1v3h-1ZM281 154.4h1v2.1h-1ZM281 158.8h1v2.3h-1ZM281 162.1h1v1.8h-1ZM281 164.4h1v3.9h-1ZM281 170.6h1v3.1h-1ZM281 174.2h1v1.5h-1ZM281 176.1h1v2.1h-1ZM281 179.8h1v1.2h-1ZM281 182.3h1v3h-1ZM281 185.4h1v2.3h-1ZM281 189.6h1v2.7h-1ZM281 193.4h1v3.6h-1ZM281 198.4h1v2h-1ZM281 201.4h1v3.8h-1ZM281 207.2h1v3.7h-1ZM281 212.3h1v1.4h-1ZM281 214.1h1v2.1h-1ZM281 217.9h1v1h-1ZM281 220.8h1v3.4h-1ZM281 225.4h1v1h-1ZM281 228.3h1v2.2h-1ZM281 232.1h1v2.7h-1ZM281 236.5h1v2.2h-1ZM281 241h1v3.9h-1ZM281 247h1v2.8h-1ZM281 250.6h1v2.1h-1ZM281 253.4h1v3.7h-1ZM281 259h1v3.4h-1ZM281 264.3h1v4h-1ZM281 269.8h1v2h-1ZM281 273.6h1v1.8h-1ZM281 276.8h1v1.5h-1ZM281 280.3h1v2.5h-1ZM281 283.4h1v3.8h-1ZM281 287.4h1v3.8h-1ZM281 293h1v1.4h-1ZM281 296.2h1v2.7h-1ZM281 301h1v2.8h-1ZM281 304.8h1v3.8h-1ZM281 308.8h1v3.3h-1ZM281 312.4h1v1.8h-1ZM281 314.5h1v3.6h-1ZM281 319.1h1v3.2h-1ZM281 322.9h1v3.2h-1ZM281 327.6h1v1.3h-1ZM281 330.1h1v3.2h-1ZM281 333.8h1v3h-1ZM281 337.4h1v2.1h-1ZM281 341.7h1v3.8h-1ZM281 347.8h1v2.3h-1ZM281 351.5h1v3.4h-1ZM281 356.7h1v2.4h-1ZM281 361.1h1v2.2h-1ZM281 365.5h1v2.4h-1ZM281 368.2h1v3.2h-1ZM281 371.8h1v3h-1ZM281 375h1v4h-1ZM281 380.2h1v3.2h-1ZM281 383.7h1v2.9h-1ZM281 387.5h1v1.7h-1ZM281 391.2h1v1.1h-1ZM281 393.4h1v1.3h-1ZM281 396.7h1v3.7h-1ZM281 400.4h1v2.4h-1ZM281 403.9h1v3.2h-1ZM281 408.8h1v2h-1ZM282 81.3h1v1.4h-1ZM282 84.7h1v1.4h-1ZM282 86.5h1v2.5h-1ZM282 89.7h1v1.5h-1ZM282 93.4h1v2.4h-1ZM282 97.7h1v1.8h-1ZM282 101.6h1v1.7h-1ZM282 105.4h1v2.8h-1ZM282 110.5h1v3.3h-1ZM282 115.3h1v2.6h-1ZM282 119.9h1v2.3h-1ZM282 122.5h1v3.7h-1ZM282 128.1h1v3h-1ZM282 132.9h1v1.7h-1ZM282 135.7h1v3.5h-1ZM282 141.4h1v3.8h-1ZM282 145.6h1v3.1h-1ZM282 149.9h1v2.2h-1ZM282 152.5h1v1.4h-1ZM282 155.1h1v2.5h-1ZM282 158.2h1v2.1h-1ZM282 161.6h1v3.3h-1ZM282 166.3h1v1.5h-1ZM282 169.8h1v2.1h-1ZM282 174.2h1v3.9h-1ZM282 178.5h1v2.7h-1ZM282 183.5h1v2.2h-1ZM282 186.9h1v1.9h-1ZM282 188.9h1v1.6h-1ZM282 190.8h1v1.9h-1ZM282 194.2h1v2.7h-1ZM282 199.1h1v3.1h-1ZM282 203h1v3.8h-1ZM282 208.3h1v2.6h-1ZM282 213h1v3h-1ZM282 216.9h1v2.8h-1ZM282 220.4h1v3.9h-1ZM282 224.9h1v3.9h-1ZM282 228.9h1v1h-1ZM282 231.3h1v1.6h-1ZM282 234.1h1v1.4h-1ZM282 237.4h1v3h-1ZM282 242h1v3.8h-1ZM282 248.1h1v3h-1ZM282 252.8h1v1h-1ZM282 254h1v2.3h-1ZM282 258.5h1v1.9h-1ZM282 261.8h1v1h-1ZM282 263.8h1v3.7h-1ZM282 268.9h1v3.5h-1ZM282 272.4h1v1.6h-1ZM282 274.4h1v3.5h-1ZM282 278.2h1v3.8h-1ZM282 282.6h1v3.6h-1ZM282 287.5h1v2h-1ZM282 291.7h1v2.2h-1ZM282 295.6h1v1.2h-1ZM282 298.7h1v3.9h-1ZM282 302.9h1v3.2h-1ZM282 306.8h1v1.4h-1ZM282 309.1h1v3h-1ZM282 314.3h1v4h-1ZM282 320.6h1v2.9h-1ZM282 325h1v1.5h-1ZM282 328.2h1v2.7h-1ZM282 331.7h1v3.7h-1ZM282 336h1v1.4h-1ZM282 337.8h1v1.4h-1ZM282 340.7h1v3.4h-1ZM282 344.4h1v2.5h-1ZM282 348.3h1v2.7h-1ZM282 352h1v2.6h-1ZM282 354.6h1v1.2h-1ZM282 356.8h1v1.7h-1ZM282 360.3h1v1.7h-1ZM282 363.9h1v1.7h-1ZM282 365.9h1v2.4h-1ZM282 369.2h1v2h-1ZM282 373h1v1.7h-1ZM282 376.3h1v3.5h-1ZM282 380.9h1v2.5h-1ZM282 385.5h1v2.8h-1ZM282 388.8h1v1.2h-1ZM282 390.2h1v2h-1ZM282 392.4h1v2.9h-1ZM282 396.3h1v1.9h-1ZM282 399.5h1v3.8h-1ZM282 403.8h1v1.5h-1ZM282 406h1v2h-1ZM282 410.1h1v3.1h-1ZM283 81.2h1v1.1h-1ZM283 82.7h1v3.5h-1ZM283 87.7h1v1.5h-1ZM283 90.7h1v1.2h-1ZM283 93h1v2h-1ZM283 95.3h1v3.2h-1ZM283 100.2h1v2.5h-1ZM283 103.1h1v3h-1ZM283 107.1h1v3h-1ZM283 110.3h1v3.7h-1ZM283 114.1h1v1.7h-1ZM283 116.7h1v1.6h-1ZM283 118.5h1v3.1h-1ZM283 123.9h1v2h-1ZM283 126.5h1v3h-1ZM283 130h1v2.2h-1ZM283 133.9h1v2.3h-1ZM283 136.5h1v1.2h-1ZM283 139h1v4h-1ZM283 145.1h1v1.3h-1ZM283 147.6h1v2.5h-1ZM283 150.5h1v3h-1ZM283 154.7h1v3.4h-1ZM283 158.8h1v3.8h-1ZM283 164.6h1v2.4h-1ZM283 167.3h1v2.5h-1ZM283 170.1h1v3.1h-1ZM283 174.8h1v2.7h-1ZM283 179.8h1v1.1h-1ZM283 182.6h1v3.4h-1ZM283 186.3h1v2h-1ZM283 188.4h1v2.7h-1ZM283 192.8h1v2h-1ZM283 196.5h1v2.1h-1ZM283 200.3h1v1.8h-1ZM283 204.4h1v2.3h-1ZM283 206.7h1v1.3h-1ZM283 209.7h1v3.6h-1ZM283 214.8h1v1.5h-1ZM283 218.3h1v3.2h-1ZM283 221.7h1v2.1h-1ZM283 225.5h1v1h-1ZM283 226.6h1v2.1h-1ZM283 230.7h1v4h-1ZM283 235.4h1v3.7h-1ZM283 241h1v3.6h-1ZM283 246h1v3.9h-1ZM283 251.4h1v3.8h-1ZM283 256.6h1v1.6h-1ZM283 259.4h1v2.4h-1ZM283 262.6h1v2.1h-1ZM283 266h1v2.8h-1ZM283 269.2h1v1.8h-1ZM283 272.3h1v2.5h-1ZM283 275.8h1v3h-1ZM283 279.2h1v2.6h-1ZM283 282.4h1v3.3h-1ZM283 287.4h1v3.3h-1ZM283 292h1v1.7h-1ZM283 295.9h1v2.5h-1ZM283 299.3h1v1.9h-1ZM283 302.1h1v3.1h-1ZM283 307.2h1v2.4h-1ZM283 311.3h1v1.6h-1ZM283 314h1v2.1h-1ZM283 316.8h1v2.1h-1ZM283 320.7h1v3.2h-1ZM283 324.4h1v1.7h-1ZM283 327.9h1v3h-1ZM283 332.5h1v2.9h-1ZM283 337h1v1.8h-1ZM283 339h1v2.1h-1ZM283 341.1h1v3.9h-1ZM283 346.3h1v3h-1ZM283 351.5h1v3.4h-1ZM283 355.5h1v2h-1ZM283 357.8h1v3.4h-1ZM283 362.9h1v2.5h-1ZM283 366.2h1v1.8h-1ZM283 369.2h1v3.1h-1ZM283 374.4h1v3.5h-1ZM283 380h1v2.3h-1ZM283 383.3h1v1.9h-1ZM283 387.5h1v1.6h-1ZM283 389.5h1v1.8h-1ZM283 393.5h1v3.6h-1ZM283 397.8h1v3.6h-1ZM283 403.5h1v2.3h-1ZM283 406.2h1v3.3h-1ZM283 410.4h1v1.4h-1ZM284 82.6h1v2.2h-1ZM284 88.4h1v1.8h-1ZM284 90.3h1v2.2h-1ZM284 94.8h1v1h-1ZM284 98.1h1v3.3h-1ZM284 103.4h1v3h-1ZM284 110.3h1v1.6h-1ZM284 112h1v3h-1ZM284 118.7h1v1.9h-1ZM284 121.8h1v3.6h-1ZM284 131h1v1.7h-1ZM284 136.2h1v2.7h-1ZM284 140.9h1v1.1h-1ZM284 144h1v2.9h-1ZM284 150.6h1v2.5h-1ZM284 153.9h1v1.6h-1ZM284 157.5h1v2.2h-1ZM284 161.9h1v3.7h-1ZM284 166.3h1v4h-1ZM284 171.8h1v3.6h-1ZM284 176.8h1v2.8h-1ZM284 181.9h1v1.1h-1ZM284 187.9h1v3.4h-1ZM284 193h1v3.3h-1ZM284 199.2h1v4h-1ZM284 203.5h1v2.1h-1ZM284 207h1v2.9h-1ZM284 214.7h1v3.5h-1ZM284 221.5h1v2.2h-1ZM284 228.6h1v1.3h-1ZM284 231.5h1v3.3h-1ZM284 237.4h1v4h-1ZM284 242h1v2.4h-1ZM284 245.7h1v1h-1ZM284 247.2h1v1.3h-1ZM284 250.8h1v2.3h-1ZM284 256.2h1v1.9h-1ZM284 262.3h1v2.5h-1ZM284 270.9h1v1.5h-1ZM284 275.5h1v2.5h-1ZM284 280.3h1v3.6h-1ZM284 285.1h1v3.6h-1ZM284 290.9h1v2h-1ZM284 296.7h1v2.7h-1ZM284 301.1h1v1.3h-1ZM284 308.2h1v2.1h-1ZM284 311h1v3h-1ZM284 317.2h1v2h-1ZM284 321.2h1v3.5h-1ZM284 326.8h1v2.3h-1ZM284 334.9h1v2.1h-1ZM284 339.5h1v1.5h-1ZM284 345h1v3h-1ZM284 350.7h1v2.2h-1ZM284 354.4h1v3.4h-1ZM284 360.5h1v3.5h-1ZM284 366.3h1v3.2h-1ZM284 369.7h1v1.7h-1ZM284 377.2h1v3h-1ZM284 384.4h1v2.5h-1ZM284 389.8h1v1.6h-1ZM284 392.4h1v2.9h-1ZM284 399.6h1v1.8h-1ZM284 405.3h1v1.4h-1ZM284 410.5h1v1.5h-1ZM285 82h1v2.7h-1ZM285 85.4h1v2.5h-1ZM285 91.7h1v1.4h-1ZM285 94.9h1v3h-1ZM285 101.3h1v2.9h-1ZM285 108.9h1v2.7h-1ZM285 113h1v2.3h-1ZM285 120.4h1v2.7h-1ZM285 127.7h1v2.1h-1ZM285 132.5h1v3.9h-1ZM285 141.5h1v3h-1ZM285 145.1h1v2.8h-1ZM285 148.1h1v3.8h-1ZM285 157.9h1v3.2h-1ZM285 162.7h1v3.5h-1ZM285 167.3h1v3.5h-1ZM285 174h1v1h-1ZM285 180.5h1v2.3h-1ZM285 187.9h1v3.1h-1ZM285 194.2h1v3.6h-1ZM285 199h1v3.7h-1ZM285 204.8h1v1.1h-1ZM285 207.9h1v1.2h-1ZM285 209.5h1v2.9h-1ZM285 213.2h1v1.5h-1ZM285 216.4h1v1.8h-1ZM285 223.9h1v3.7h-1ZM285 232.9h1v4h-1ZM285 239.6h1v3.4h-1ZM285 244.7h1v3.8h-1ZM285 253.4h1v3.2h-1ZM285 258h1v1.3h-1ZM285 264.9h1v2.7h-1ZM285 271.3h1v3.6h-1ZM285 275.8h1v3.1h-1ZM285 281.7h1v3.4h-1ZM285 287.9h1v1.6h-1ZM285 295.3h1v1.8h-1ZM285 301.7h1v3.5h-1ZM285 306.7h1v3.1h-1ZM285 312.2h1v1.7h-1ZM285 315.2h1v3.9h-1ZM285 321.3h1v2.5h-1ZM285 326.9h1v1.1h-1ZM285 332.6h1v3.2h-1ZM285 341.2h1v2.1h-1ZM285 344.5h1v2h-1ZM285 351.1h1v3h-1ZM285 356.5h1v2.6h-1ZM285 360h1v3.8h-1ZM285 366.7h1v2.5h-1ZM285 374h1v1.6h-1ZM285 380h1v2.1h-1ZM285 387h1v1.3h-1ZM285 390h1v2.9h-1ZM285 395.9h1v2.1h-1ZM285 401.5h1v1.7h-1ZM285 405.9h1v1h-1ZM286 81.7h1v3.5h-1ZM286 88.5h1v2.8h-1ZM286 95.2h1v1.4h-1ZM286 101.3h1v1.9h-1ZM286 108.4h1v3.4h-1ZM286 115.9h1v3.4h-1ZM286 122.1h1v3h-1ZM286 130.9h1v1.6h-1ZM286 133.1h1v2.2h-1ZM286 138.4h1v1.4h-1ZM286 141.2h1v3.6h-1ZM286 147.2h1v1.4h-1ZM286 149.8h1v2.7h-1ZM286 153.7h1v2.4h-1ZM286 159.4h1v2.3h-1ZM286 164.8h1v3.5h-1ZM286 168.4h1v3.8h-1ZM286 173.4h1v1.1h-1ZM286 179.2h1v2.7h-1ZM286 185.2h1v1.7h-1ZM286 191.6h1v1.9h-1ZM286 198h1v1.7h-1ZM286 203.2h1v2.9h-1ZM286 208.4h1v2.4h-1ZM286 211.2h1v2.9h-1ZM286 218.4h1v1.5h-1ZM286 223.2h1v3.2h-1ZM286 227h1v3.5h-1ZM286 235.9h1v1.2h-1ZM286 238.5h1v1.3h-1ZM286 241.3h1v1.3h-1ZM286 245.6h1v1.8h-1ZM286 249.2h1v2.4h-1ZM286 253.8h1v3.4h-1ZM286 261.6h1v1.3h-1ZM286 264.3h1v1h-1ZM286 267.3h1v1.3h-1ZM286 272.9h1v3.3h-1ZM286 282.3h1v1.6h-1ZM286 284.2h1v3.3h-1ZM286 290h1v3.8h-1ZM286 296.2h1v1.9h-1ZM286 298.6h1v3.8h-1ZM286 305.5h1v2.3h-1ZM286 310.5h1v3.3h-1ZM286 318.9h1v2.4h-1ZM286 322.4h1v2.2h-1ZM286 330.1h1v2.2h-1ZM286 336.4h1v2.7h-1ZM286 341.9h1v2.7h-1ZM286 346.1h1v2.7h-1ZM286 354h1v1.2h-1ZM286 357.5h1v3.6h-1ZM286 367.1h1v1h-1ZM286 372h1v2.9h-1ZM286 380.1h1v2.4h-1ZM286 383.3h1v1.9h-1ZM286 389.5h1v3.2h-1ZM286 394h1v2.9h-1ZM286 400.9h1v3h-1ZM286 404h1v2.3h-1ZM286 408.3h1v2.8h-1ZM287 81h1v3h-1ZM287 85.8h1v3.4h-1ZM287 91h1v2.6h-1ZM287 98.6h1v1.3h-1ZM287 104.4h1v1.2h-1ZM287 111.4h1v1.1h-1ZM287 116.9h1v2.1h-1ZM287 120.1h1v2.2h-1ZM287 125.3h1v2.2h-1ZM287 128.3h1v2.6h-1ZM287 132.7h1v3.9h-1ZM287 139h1v2.3h-1ZM287 142.7h1v3.9h-1ZM287 148.5h1v2.9h-1ZM287 156.6h1v2.2h-1ZM287 163.3h1v1.8h-1ZM287 165.9h1v1.1h-1ZM287 169.7h1v3.6h-1ZM287 174.6h1v2.3h-1ZM287 181.6h1v1.8h-1ZM287 184.3h1v2.6h-1ZM287 189.5h1v3.8h-1ZM287 198.8h1v1.7h-1ZM287 203.9h1v2.2h-1ZM287 206.4h1v2.3h-1ZM287 214.3h1v1.9h-1ZM287 219.8h1v3.1h-1ZM287 223.3h1v3.8h-1ZM287 227.8h1v1.9h-1ZM287 234h1v1.1h-1ZM287 237.4h1v1.4h-1ZM287 241.7h1v1h-1ZM287 243.6h1v1.7h-1ZM287 245.8h1v1.3h-1ZM287 248.3h1v2.6h-1ZM287 251.6h1v3.5h-1ZM287 257.7h1v1.8h-1ZM287 260.9h1v3.5h-1ZM287 264.7h1v3.2h-1ZM287 268.5h1v3.8h-1ZM287 274.8h1v2.8h-1ZM287 282.9h1v1.3h-1ZM287 284.6h1v3.1h-1ZM287 291.3h1v3.2h-1ZM287 296.1h1v2.5h-1ZM287 299.8h1v2.3h-1ZM287 303.8h1v2.8h-1ZM287 308.4h1v1.8h-1ZM287 314.1h1v1.3h-1ZM287 320.3h1v2.5h-1ZM287 324.2h1v1.3h-1ZM287 328.6h1v2.5h-1ZM287 335.5h1v2.1h-1ZM287 340.2h1v3.7h-1ZM287 345.5h1v3.9h-1ZM287 354.9h1v4h-1ZM287 364.7h1v1.8h-1ZM287 371.4h1v2.8h-1ZM287 375.5h1v4h-1ZM287 383.4h1v3.4h-1ZM287 390.3h1v1.2h-1ZM287 396.8h1v1.5h-1ZM287 399.9h1v2.8h-1ZM287 403.9h1v2.4h-1ZM287 410.7h1v1.3h-1ZM288 80.9h1v2.4h-1ZM288 87.3h1v3.1h-1ZM288 90.6h1v1.6h-1ZM288 98.1h1v2.2h-1ZM288 102.9h1v2.1h-1ZM288 109.2h1v3.2h-1ZM288 116.4h1v2.2h-1ZM288 122.1h1v2.5h-1ZM288 125.8h1v3.8h-1ZM288 135.6h1v3.3h-1ZM288 145h1v2.4h-1ZM288 152.5h1v1.7h-1ZM288 158.7h1v3.1h-1ZM288 167.6h1v3.5h-1ZM288 176.5h1v1.8h-1ZM288 183.1h1v2.4h-1ZM288 187.4h1v2.1h-1ZM288 194.4h1v3.5h-1ZM288 203.1h1v3h-1ZM288 207.2h1v1.5h-1ZM288 212.1h1v1.6h-1ZM288 215.8h1v1.3h-1ZM288 218.1h1v3.2h-1ZM288 222.6h1v3.5h-1ZM288 228.1h1v3.5h-1ZM288 233.5h1v1.8h-1ZM288 237.7h1v1h-1ZM288 241.4h1v2.1h-1ZM288 243.7h1v3.6h-1ZM288 249.5h1v1h-1ZM288 256.4h1v1.7h-1ZM288 259.6h1v1.1h-1ZM288 261.3h1v3.1h-1ZM288 268h1v2.5h-1ZM288 272h1v1.9h-1ZM288 279.8h1v2.1h-1ZM288 288h1v3.7h-1ZM288 292.4h1v3.5h-1ZM288 296.1h1v3.1h-1ZM288 304.1h1v3.1h-1ZM288 310.6h1v3.4h-1ZM288 315h1v2.6h-1ZM288 319.2h1v2.2h-1ZM288 322.6h1v3.1h-1ZM288 329.2h1v3.3h-1ZM288 336.4h1v2.8h-1ZM288 344.8h1v3.4h-1ZM288 351.7h1v2h-1ZM288 359.4h1v2.1h-1ZM288 362.1h1v2h-1ZM288 368.4h1v3.8h-1ZM288 376.2h1v3h-1ZM288 384.9h1v3.3h-1ZM288 390.9h1v2.4h-1ZM288 398h1v2h-1ZM288 400.6h1v2.9h-1ZM288 408.4h1v1.7h-1ZM289 84.9h1v1.4h-1ZM289 87.1h1v2.5h-1ZM289 91.6h1v3.8h-1ZM289 101.5h1v2.3h-1ZM289 108.7h1v2.9h-1ZM289 112.7h1v3.9h-1ZM289 117.7h1v1.2h-1ZM289 121.7h1v1.1h-1ZM289 125.6h1v2.2h-1ZM289 133.7h1v2.2h-1ZM289 141.1h1v3.3h-1ZM289 148.1h1v1.7h-1ZM289 151.6h1v2.5h-1ZM289 156.5h1v2.9h-1ZM289 162.6h1v2h-1ZM289 168.2h1v4h-1ZM289 173.5h1v2h-1ZM289 175.5h1v1.3h-1ZM289 177.2h1v2.3h-1ZM289 184.5h1v3.1h-1ZM289 193.5h1v3.5h-1ZM289 200.6h1v2.7h-1ZM289 203.4h1v2.2h-1ZM289 207.2h1v2.9h-1ZM289 210.5h1v2.6h-1ZM289 215.4h1v2.5h-1ZM289 220.3h1v1.3h-1ZM289 226.1h1v3.4h-1ZM289 233.2h1v1.3h-1ZM289 238.2h1v3.6h-1ZM289 247.8h1v3.3h-1ZM289 251.4h1v3.6h-1ZM289 259.1h1v1.8h-1ZM289 266.5h1v3.5h-1ZM289 275.5h1v1.7h-1ZM289 280.7h1v2.1h-1ZM289 284.7h1v3.3h-1ZM289 291.7h1v2h-1ZM289 297h1v3.8h-1ZM289 304.3h1v3.7h-1ZM289 311.5h1v4h-1ZM289 315.7h1v2.4h-1ZM289 321.4h1v3.2h-1ZM289 330.5h1v2.9h-1ZM289 336.3h1v2.9h-1ZM289 342.5h1v3.1h-1ZM289 351.4h1v1h-1ZM289 354.4h1v3.6h-1ZM289 358.4h1v3.4h-1ZM289 361.9h1v2.9h-1ZM289 369.8h1v1.7h-1ZM289 373.8h1v1.7h-1ZM289 379.8h1v2.6h-1ZM289 386.1h1v2h-1ZM289 391.6h1v3.9h-1ZM289 400.3h1v3.9h-1ZM289 405.6h1v2.5h-1ZM289 410.5h1v2h-1ZM290 81.3h1v2.7h-1ZM290 88.7h1v3.8h-1ZM290 92.6h1v1.8h-1ZM290 97.4h1v3.8h-1ZM290 102.2h1v3.5h-1ZM290 108.2h1v2.6h-1ZM290 116.5h1v1.2h-1ZM290 119.7h1v1.5h-1ZM290 122h1v1.9h-1ZM290 128.2h1v2.7h-1ZM290 131.7h1v3.4h-1ZM290 138.2h1v1.4h-1ZM290 144.6h1v3.5h-1ZM290 149.4h1v3.8h-1ZM290 158.2h1v1.7h-1ZM290 159.9h1v3.6h-1ZM290 168.5h1v1.3h-1ZM290 174.5h1v3.3h-1ZM290 181.7h1v3.5h-1ZM290 191.2h1v2h-1ZM290 198.3h1v3.8h-1ZM290 204h1v3.1h-1ZM290 211.2h1v3.5h-1ZM290 218.2h1v1.8h-1ZM290 221.6h1v2.6h-1ZM290 225h1v3.6h-1ZM290 234h1v1.7h-1ZM290 240h1v3h-1ZM290 243.8h1v3.3h-1ZM290 251.8h1v1.9h-1ZM290 254.3h1v1.8h-1ZM290 260.9h1v2.4h-1ZM290 268.3h1v1.5h-1ZM290 270.4h1v2h-1ZM290 277.8h1v1.5h-1ZM290 279.8h1v3.3h-1ZM290 283.6h1v3h-1ZM290 287.1h1v1.7h-1ZM290 292.9h1v3.6h-1ZM290 299h1v2.3h-1ZM290 301.5h1v2h-1ZM290 305h1v3.4h-1ZM290 312.8h1v3.4h-1ZM290 319.4h1v3.1h-1ZM290 323.3h1v2.2h-1ZM290 327.2h1v1.8h-1ZM290 333.6h1v1.6h-1ZM290 337.2h1v1.8h-1ZM290 344.3h1v2.9h-1ZM290 350.2h1v2.1h-1ZM290 357.9h1v3.8h-1ZM290 364.5h1v2.7h-1ZM290 372.5h1v1.8h-1ZM290 375.8h1v1.3h-1ZM290 380.2h1v3.3h-1ZM290 384.5h1v2.3h-1ZM290 392.8h1v2.4h-1ZM290 397.6h1v3.5h-1ZM290 406.6h1v2.1h-1ZM290 409.5h1v2.9h-1ZM291 85h1v3h-1ZM291 92.6h1v2.5h-1ZM291 99.5h1v2.3h-1ZM291 108.8h1v3.7h-1ZM291 126.2h1v3.8h-1ZM291 137.1h1v3.9h-1ZM291 143.1h1v3.8h-1ZM291 156.5h1v3.6h-1ZM291 166.3h1v4h-1ZM291 170.6h1v3.5h-1ZM291 186.5h1v2.1h-1ZM291 201h1v1.6h-1ZM291 213.9h1v2.4h-1ZM291 222.5h1v1.6h-1ZM291 236.1h1v3.2h-1ZM291 240.6h1v3.9h-1ZM291 247.9h1v2.1h-1ZM291 256.2h1v2.7h-1ZM291 272.3h1v3.8h-1ZM291 285.6h1v2.1h-1ZM291 289.4h1v1.2h-1ZM291 298.3h1v2.7h-1ZM291 307.8h1v3.9h-1ZM291 318h1v2.1h-1ZM291 326.3h1v1.5h-1ZM291 341.9h1v2.8h-1ZM291 352.8h1v2.3h-1ZM291 358.8h1v1.9h-1ZM291 368.2h1v2.3h-1ZM291 385.2h1v2.7h-1ZM291 391h1v1.2h-1ZM291 394.5h1v2h-1ZM291 408.3h1v3.7h-1ZM292 84.3h1v2.3h-1ZM292 94.7h1v2.6h-1ZM292 97.9h1v1.2h-1ZM292 109.1h1v3.1h-1ZM292 117.9h1v3.8h-1ZM292 134h1v1.9h-1ZM292 136.9h1v2.7h-1ZM292 149.4h1v1.7h-1ZM292 151.7h1v2.5h-1ZM292 154.7h1v3.2h-1ZM292 167.2h1v1.8h-1ZM292 175.8h1v1.7h-1ZM292 180.3h1v1.5h-1ZM292 194h1v2.4h-1ZM292 207.1h1v2h-1ZM292 221.3h1v2.8h-1ZM292 233.9h1v2.2h-1ZM292 244.5h1v1.6h-1ZM292 260.7h1v3h-1ZM292 271.7h1v2.9h-1ZM292 276.1h1v2h-1ZM292 281.5h1v3.5h-1ZM292 285.3h1v2.3h-1ZM292 300.6h1v3.3h-1ZM292 314.8h1v1.9h-1ZM292 320.1h1v3.1h-1ZM292 327.7h1v3.2h-1ZM292 336.2h1v3.3h-1ZM292 348h1v3.4h-1ZM292 366.3h1v2.1h-1ZM292 383.2h1v1h-1ZM292 397.4h1v1.1h-1ZM292 406.7h1v2.2h-1ZM293 82h1v1.6h-1ZM293 95.4h1v2.7h-1ZM293 109.3h1v2.5h-1ZM293 112.4h1v3.3h-1ZM293 118.9h1v2.4h-1ZM293 121.4h1v1.8h-1ZM293 133.1h1v3.3h-1ZM293 146h1v2.3h-1ZM293 159.3h1v3h-1ZM293 165.4h1v2.6h-1ZM293 177h1v3.2h-1ZM293 183.1h1v1.9h-1ZM293 190.2h1v1.3h-1ZM293 196.7h1v3.2h-1ZM293 208.6h1v1.5h-1ZM293 221.1h1v1.4h-1ZM293 233.7h1v1.4h-1ZM293 236.6h1v1.8h-1ZM293 246h1v1.8h-1ZM293 261.1h1v3.8h-1ZM293 269.2h1v3.2h-1ZM293 282.9h1v2.7h-1ZM293 289.4h1v3.8h-1ZM293 307.6h1v1h-1ZM293 313.6h1v2h-1ZM293 318.5h1v2.3h-1ZM293 334.3h1v1.1h-1ZM293 347.9h1v1.9h-1ZM293 350h1v3.7h-1ZM293 357.8h1v1.6h-1ZM293 361.2h1v2.1h-1ZM293 365.1h1v1.5h-1ZM293 370.4h1v2.7h-1ZM293 379.8h1v1.9h-1ZM293 389.6h1v3.3h-1ZM293 403.8h1v2h-1ZM294 84.4h1v2.7h-1ZM294 94.2h1v2h-1ZM294 98.2h1v3.7h-1ZM294 111h1v1.3h-1ZM294 126.1h1v3.7h-1ZM294 130.3h1v3.1h-1ZM294 137h1v2.6h-1ZM294 152.1h1v2.1h-1ZM294 161.6h1v3h-1ZM294 167.5h1v2.9h-1ZM294 176.8h1v3.9h-1ZM294 183.5h1v3.1h-1ZM294 187.3h1v1.8h-1ZM294 190.9h1v1.4h-1ZM294 200.2h1v1.5h-1ZM294 213.7h1v1.3h-1ZM294 224.3h1v3.6h-1ZM294 229.8h1v1.7h-1ZM294 242.9h1v2.4h-1ZM294 259.3h1v2h-1ZM294 267.3h1v3.9h-1ZM294 276.3h1v3.9h-1ZM294 293.6h1v1.6h-1ZM294 303.4h1v3.8h-1ZM294 309h1v3.5h-1ZM294 324.1h1v3.2h-1ZM294 336.4h1v1.3h-1ZM294 352.1h1v1.3h-1ZM294 365.1h1v3.2h-1ZM294 373h1v3.1h-1ZM294 382.3h1v3.3h-1ZM294 386.2h1v3.8h-1ZM294 395.7h1v3.4h-1ZM294 406.2h1v3.4h-1ZM295 83.1h1v1.1h-1ZM295 91.5h1v1.2h-1ZM295 105.7h1v3h-1ZM295 115.1h1v3.9h-1ZM295 133.2h1v3.9h-1ZM295 138.3h1v3.1h-1ZM295 152.3h1v2.8h-1ZM295 155.4h1v3.8h-1ZM295 165.7h1v2.8h-1ZM295 180.7h1v1.8h-1ZM295 183h1v3.8h-1ZM295 190.8h1v1.1h-1ZM295 194h1v4h-1ZM295 209.1h1v1.6h-1ZM295 212.9h1v3.7h-1ZM295 226.6h1v2.7h-1ZM295 231.3h1v2.2h-1ZM295 247.7h1v1h-1ZM295 255h1v1.2h-1ZM295 271.2h1v1.3h-1ZM295 286.8h1v3.5h-1ZM295 301.3h1v1.1h-1ZM295 312.8h1v2.5h-1ZM295 322.7h1v1.4h-1ZM295 331.8h1v3.4h-1ZM295 337.2h1v3.6h-1ZM295 347.1h1v1.8h-1ZM295 352.5h1v2.4h-1ZM295 364.6h1v2.7h-1ZM295 380.7h1v2.5h-1ZM295 390.9h1v4h-1ZM295 398.1h1v1h-1ZM295 404.1h1v1.9h-1ZM295 407.8h1v2.3h-1ZM295 410.6h1v3.8h-1ZM296 84.8h1v3.1h-1ZM296 98.8h1v3.3h-1ZM296 106.6h1v3.2h-1ZM296 112.9h1v2.7h-1ZM296 124.5h1v3.3h-1ZM296 130.4h1v2h-1ZM296 144.7h1v3.4h-1ZM296 162.8h1v1.4h-1ZM296 167.3h1v1.3h-1ZM296 179.5h1v3.2h-1ZM296 192.5h1v3.3h-1ZM296 203.5h1v2.7h-1ZM296 220.1h1v2.9h-1ZM296 232.8h1v2.8h-1ZM296 243h1v3.3h-1ZM296 254.9h1v1.4h-1ZM296 262.6h1v2.3h-1ZM296 271.4h1v2.7h-1ZM296 279.5h1v2.2h-1ZM296 288.1h1v2.1h-1ZM296 304.8h1v1.3h-1ZM296 306.3h1v3.2h-1ZM296 315.4h1v2.3h-1ZM296 326.6h1v2.1h-1ZM296 332.3h1v1h-1ZM296 346.5h1v3.8h-1ZM296 354.6h1v2.4h-1ZM296 361.8h1v1.2h-1ZM296 376.4h1v3.5h-1ZM296 383.5h1v1.8h-1ZM296 395.7h1v3.4h-1ZM296 406.2h1v2.2h-1ZM297 84.4h1v3.6h-1ZM297 100.9h1v1.3h-1ZM297 111.1h1v4h-1ZM297 125.8h1v2.4h-1ZM297 130.3h1v1.2h-1ZM297 142.5h1v1.2h-1ZM297 155.8h1v3h-1ZM297 165.9h1v3.7h-1ZM297 183.6h1v2.8h-1ZM297 187.9h1v2.8h-1ZM297 197h1v1.7h-1ZM297 212.7h1v3.2h-1ZM297 217.7h1v1.7h-1ZM297 224.5h1v2.7h-1ZM297 232.1h1v2.3h-1ZM297 246.7h1v1.5h-1ZM297 259h1v2h-1ZM297 275.2h1v3.9h-1ZM297 283.9h1v2.8h-1ZM297 288.4h1v2.2h-1ZM297 300h1v2.9h-1ZM297 308h1v1.1h-1ZM297 311h1v2.7h-1ZM297 316.3h1v1.9h-1ZM297 327.5h1v3.7h-1ZM297 338.9h1v1.8h-1ZM297 349.4h1v1.8h-1ZM297 363h1v1.5h-1ZM297 368.4h1v2.3h-1ZM297 384.3h1v1.5h-1ZM297 388.7h1v1.4h-1ZM297 393.3h1v2h-1ZM297 401.2h1v3.3h-1ZM297 410.6h1v2.4h-1ZM298 84.3h1v3.7h-1ZM298 89.4h1v3.8h-1ZM298 94h1v3.9h-1ZM298 99.7h1v3h-1ZM298 104h1v1.8h-1ZM298 106.3h1v3.7h-1ZM298 111.1h1v3.1h-1ZM298 115.8h1v2.6h-1ZM298 119h1v1.5h-1ZM298 121.7h1v3h-1ZM298 126.5h1v1h-1ZM298 129.9h1v2.3h-1ZM298 132.4h1v1.8h-1ZM298 134.9h1v3.5h-1ZM298 140.2h1v2h-1ZM298 143h1v1.9h-1ZM298 145.8h1v2h-1ZM298 150.5h1v3.4h-1ZM298 156.2h1v3.7h-1ZM298 162h1v1.3h-1ZM298 163.5h1v1.5h-1ZM298 165.9h1v2.6h-1ZM298 171.2h1v2.8h-1ZM298 175.4h1v1.7h-1ZM298 180.4h1v3.3h-1ZM298 184.8h1v1.1h-1ZM298 189.2h1v1.8h-1ZM298 193.8h1v1.4h-1ZM298 197.3h1v2.1h-1ZM298 202.4h1v1.9h-1ZM298 204.6h1v1.6h-1ZM298 208.9h1v3.9h-1ZM298 214.9h1v3h-1ZM298 218.9h1v1.8h-1ZM298 221h1v4h-1ZM298 225.1h1v2.8h-1ZM298 229.1h1v1.6h-1ZM298 232.2h1v3.8h-1ZM298 236.8h1v1.5h-1ZM298 240.4h1v3h-1ZM298 245h1v1.5h-1ZM298 249.5h1v1.3h-1ZM298 251.4h1v1.7h-1ZM298 254.8h1v2.4h-1ZM298 259.1h1v3.2h-1ZM298 265.3h1v2.4h-1ZM298 267.8h1v3.5h-1ZM298 271.4h1v2h-1ZM298 273.8h1v2.8h-1ZM298 279.2h1v1.4h-1ZM298 281.6h1v3.6h-1ZM298 287.4h1v1.3h-1ZM298 291.1h1v3.4h-1ZM298 295.8h1v1.5h-1ZM298 299.5h1v2h-1ZM298 301.9h1v1.5h-1ZM298 304.7h1v1.4h-1ZM298 307.4h1v2.7h-1ZM298 311.9h1v2.2h-1ZM298 316.7h1v1.3h-1ZM298 319.1h1v3.8h-1ZM298 325.8h1v3.8h-1ZM298 332.1h1v2.6h-1ZM298 337.3h1v2.7h-1ZM298 340.4h1v1.8h-1ZM298 342.5h1v3.6h-1ZM298 347.2h1v2.2h-1ZM298 351.2h1v1.3h-1ZM298 354.9h1v3.4h-1ZM298 360.9h1v3.6h-1ZM298 365.6h1v1.4h-1ZM298 369.6h1v3.1h-1ZM298 373.9h1v2h-1ZM298 376.5h1v3.5h-1ZM298 381.5h1v3.4h-1ZM298 386.1h1v2h-1ZM298 389.7h1v3.2h-1ZM298 395.9h1v2.1h-1ZM298 400.3h1v2.2h-1ZM298 405.4h1v3.3h-1ZM298 410.5h1v2.1h-1ZM299 84.8h1v3.4h-1ZM299 89.2h1v1.3h-1ZM299 91.1h1v3.9h-1ZM299 95.2h1v3.4h-1ZM299 100.4h1v2.7h-1ZM299 104.8h1v2.2h-1ZM299 108.9h1v1.3h-1ZM299 113.3h1v1.3h-1ZM299 115h1v3h-1ZM299 120.2h1v3.4h-1ZM299 125.9h1v3.8h-1ZM299 129.9h1v1h-1ZM299 131.7h1v3.3h-1ZM299 135.5h1v2.6h-1ZM299 140.7h1v1.5h-1ZM299 143.9h1v3.7h-1ZM299 150.1h1v2.2h-1ZM299 153.9h1v1.8h-1ZM299 158.9h1v3.3h-1ZM299 164.6h1v1.9h-1ZM299 168.9h1v2.5h-1ZM299 174h1v2.1h-1ZM299 179.1h1v3.1h-1ZM299 183.6h1v2.7h-1ZM299 189h1v2.6h-1ZM299 194.8h1v1h-1ZM299 198.8h1v3.1h-1ZM299 203.6h1v3.5h-1ZM299 207.6h1v2h-1ZM299 212h1v3.5h-1ZM299 216.7h1v4h-1ZM299 222.9h1v1.1h-1ZM299 224.4h1v1.2h-1ZM299 227.5h1v2h-1ZM299 230.4h1v2.3h-1ZM299 233h1v3.7h-1ZM299 239.5h1v2.7h-1ZM299 243.7h1v1.9h-1ZM299 247.6h1v2h-1ZM299 252.9h1v3.9h-1ZM299 259.2h1v3.5h-1ZM299 262.9h1v1.4h-1ZM299 265.4h1v1.4h-1ZM299 268.2h1v4h-1ZM299 274.9h1v3.9h-1ZM299 279.6h1v1.7h-1ZM299 281.3h1v1.8h-1ZM299 283.3h1v2.6h-1ZM299 286.9h1v3h-1ZM299 291.8h1v2.8h-1ZM299 295.6h1v3.2h-1ZM299 301.1h1v3.1h-1ZM299 305.8h1v2.4h-1ZM299 309.1h1v1.1h-1ZM299 311.8h1v2.8h-1ZM299 315.3h1v3.6h-1ZM299 321.8h1v3.6h-1ZM299 328.1h1v2.5h-1ZM299 331.1h1v1.8h-1ZM299 335.4h1v4h-1ZM299 339.7h1v1h-1ZM299 341.9h1v2h-1ZM299 346h1v1.3h-1ZM299 350.1h1v2h-1ZM299 355.2h1v2h-1ZM299 358.2h1v1.5h-1ZM299 362.9h1v2.8h-1ZM299 368.4h1v1.2h-1ZM299 371.4h1v3.2h-1ZM299 377.9h1v3.8h-1ZM299 382.1h1v2.1h-1ZM299 387.5h1v2.6h-1ZM299 393.3h1v1.8h-1ZM299 395.2h1v3.8h-1ZM299 399.9h1v2.7h-1ZM299 403.8h1v2.7h-1ZM299 409.6h1v3.8h-1ZM300 81.7h1v3.5h-1ZM300 85.2h1v2.2h-1ZM300 90.6h1v1.8h-1ZM300 93.6h1v2.7h-1ZM300 97.1h1v3.1h-1ZM300 102.4h1v1.3h-1ZM300 106.8h1v1.2h-1ZM300 110.3h1v2h-1ZM300 112.8h1v1.2h-1ZM300 117.4h1v3.4h-1ZM300 122.3h1v3.4h-1ZM300 128.9h1v3.8h-1ZM300 134.5h1v1.8h-1ZM300 138.1h1v3.9h-1ZM300 144.4h1v3h-1ZM300 150.2h1v2.2h-1ZM300 154.3h1v3.5h-1ZM300 158.5h1v3.6h-1ZM300 162.2h1v2.6h-1ZM300 166.7h1v1.4h-1ZM300 171.2h1v2.3h-1ZM300 174.2h1v2.2h-1ZM300 178.4h1v2.3h-1ZM300 180.7h1v1.3h-1ZM300 184.3h1v1.4h-1ZM300 186.6h1v3.4h-1ZM300 192.9h1v3.6h-1ZM300 197.1h1v1h-1ZM300 200.6h1v2.8h-1ZM300 204.6h1v1.1h-1ZM300 207.1h1v1.7h-1ZM300 210.8h1v3.9h-1ZM300 215.5h1v1.2h-1ZM300 219h1v1.3h-1ZM300 221.1h1v2.3h-1ZM300 226.7h1v2h-1ZM300 229.7h1v2.4h-1ZM300 232.7h1v2.2h-1ZM300 237.2h1v2h-1ZM300 241.8h1v1.6h-1ZM300 243.7h1v2.9h-1ZM300 248.1h1v3.8h-1ZM300 252.2h1v3.2h-1ZM300 257.7h1v2.1h-1ZM300 260.2h1v2.8h-1ZM300 265.6h1v2.4h-1ZM300 269.6h1v3.1h-1ZM300 274.7h1v2.3h-1ZM300 277.6h1v2.4h-1ZM300 281.8h1v3.7h-1ZM300 288.8h1v2.7h-1ZM300 292.6h1v1.7h-1ZM300 296.3h1v3.2h-1ZM300 300.4h1v3.1h-1ZM300 306.8h1v2.2h-1ZM300 312.1h1v2.3h-1ZM300 316.6h1v3.6h-1ZM300 320.8h1v2h-1ZM300 326.1h1v1.2h-1ZM300 328.4h1v2.4h-1ZM300 333.3h1v2.9h-1ZM300 339.3h1v3h-1ZM300 342.3h1v1.2h-1ZM300 343.6h1v2.3h-1ZM300 346h1v2.6h-1ZM300 350.7h1v1.6h-1ZM300 355.1h1v2.2h-1ZM300 360.6h1v2.1h-1ZM300 364.7h1v2.6h-1ZM300 368.2h1v3.3h-1ZM300 371.6h1v1.7h-1ZM300 374.4h1v3.6h-1ZM300 379.7h1v1.1h-1ZM300 381.8h1v2.8h-1ZM300 387.3h1v1.3h-1ZM300 391.3h1v2.2h-1ZM300 395.2h1v2.3h-1ZM300 398.9h1v4h-1ZM300 406h1v3.8h-1ZM301 83.9h1v1.4h-1ZM301 85.4h1v3.5h-1ZM301 91.2h1v2.9h-1ZM301 95.1h1v1.8h-1ZM301 100h1v2.6h-1ZM301 102.6h1v2h-1ZM301 105.8h1v1.2h-1ZM301 110.3h1v3.7h-1ZM301 116.7h1v1h-1ZM301 119.1h1v1.3h-1ZM301 122.9h1v3.4h-1ZM301 128.9h1v3.4h-1ZM301 132.7h1v1h-1ZM301 134.1h1v3.5h-1ZM301 140.4h1v2.5h-1ZM301 143.7h1v3.6h-1ZM301 147.7h1v2h-1ZM301 149.6h1v3.9h-1ZM301 155h1v3.3h-1ZM301 161h1v2.7h-1ZM301 167h1v3.3h-1ZM301 173.4h1v3.9h-1ZM301 177.6h1v3.3h-1ZM301 181.6h1v2h-1ZM301 184.7h1v4h-1ZM301 188.9h1v2.3h-1ZM301 191.6h1v4h-1ZM301 197.2h1v3.1h-1ZM301 202.1h1v3.3h-1ZM301 206.5h1v2.2h-1ZM301 211.2h1v3.1h-1ZM301 217.3h1v1.9h-1ZM301 222h1v3.2h-1ZM301 227.2h1v2.2h-1ZM301 231.3h1v1.2h-1ZM301 232.8h1v1.9h-1ZM301 235.2h1v1.1h-1ZM301 238.7h1v3.2h-1ZM301 244h1v1.6h-1ZM301 248h1v3.5h-1ZM301 253.5h1v1.7h-1ZM301 257.1h1v2.2h-1ZM301 260.2h1v1.4h-1ZM301 264.5h1v2.9h-1ZM301 270.5h1v1.5h-1ZM301 272.9h1v2.5h-1ZM301 275.6h1v1.9h-1ZM301 279.3h1v2.4h-1ZM301 284.8h1v2.7h-1ZM301 289.7h1v2.8h-1ZM301 295h1v2.1h-1ZM301 297.1h1v3.9h-1ZM301 303.7h1v1.4h-1ZM301 305.5h1v1.7h-1ZM301 309.3h1v1.4h-1ZM301 310.8h1v2.5h-1ZM301 313.3h1v1.8h-1ZM301 316.3h1v1.6h-1ZM301 318h1v1.8h-1ZM301 320.6h1v2h-1ZM301 323.9h1v2.1h-1ZM301 327.1h1v1.1h-1ZM301 330.9h1v3.2h-1ZM301 335.8h1v1h-1ZM301 337.6h1v3.7h-1ZM301 342.8h1v1.6h-1ZM301 347.1h1v3.7h-1ZM301 351.2h1v2.5h-1ZM301 355.6h1v1.4h-1ZM301 358h1v2.9h-1ZM301 363.1h1v2.9h-1ZM301 368.1h1v2.1h-1ZM301 370.4h1v1h-1ZM301 374.3h1v3.6h-1ZM301 380.9h1v1.2h-1ZM301 384.7h1v1.5h-1ZM301 387.3h1v1.6h-1ZM301 391.8h1v3.5h-1ZM301 398h1v2.1h-1ZM301 403.3h1v1.8h-1ZM301 407h1v3h-1ZM302 82.3h1v1.3h-1ZM302 86.3h1v1.6h-1ZM302 88.3h1v1.8h-1ZM302 92.2h1v2.9h-1ZM302 96.9h1v3.6h-1ZM302 103h1v1.6h-1ZM302 106.4h1v1.5h-1ZM302 108.7h1v1.4h-1ZM302 110.4h1v2.1h-1ZM302 115.4h1v3h-1ZM302 118.7h1v1.7h-1ZM302 122.3h1v2.6h-1ZM302 125h1v1.3h-1ZM302 128.1h1v2.8h-1ZM302 131.2h1v3.3h-1ZM302 135.3h1v2.8h-1ZM302 139.9h1v2h-1ZM302 145h1v2.2h-1ZM302 148.6h1v2.6h-1ZM302 154h1v4h-1ZM302 160.6h1v2.6h-1ZM302 165.6h1v2.9h-1ZM302 171.7h1v3.9h-1ZM302 178.1h1v1.6h-1ZM302 181.7h1v2.3h-1ZM302 184.8h1v3.3h-1ZM302 188.9h1v3.1h-1ZM302 193.6h1v2.3h-1ZM302 198.3h1v3.2h-1ZM302 204.7h1v4h-1ZM302 211.4h1v1.8h-1ZM302 215.4h1v2.5h-1ZM302 221h1v2.3h-1ZM302 224.6h1v1.1h-1ZM302 227.2h1v2.6h-1ZM302 230.8h1v1.3h-1ZM302 233.8h1v1.2h-1ZM302 235.5h1v2.3h-1ZM302 239h1v2.5h-1ZM302 243.3h1v2.2h-1ZM302 245.9h1v1.1h-1ZM302 248.8h1v3.9h-1ZM302 253.7h1v2.1h-1ZM302 256.8h1v3.2h-1ZM302 261.7h1v3.4h-1ZM302 265.1h1v1.4h-1ZM302 267.2h1v2.1h-1ZM302 270.6h1v2.2h-1ZM302 276h1v2.3h-1ZM302 280.2h1v3.9h-1ZM302 286.2h1v2.8h-1ZM302 291.8h1v2h-1ZM302 293.9h1v3.9h-1ZM302 299.6h1v2.7h-1ZM302 302.5h1v3.2h-1ZM302 307h1v2.9h-1ZM302 310.9h1v3.8h-1ZM302 315.9h1v1.8h-1ZM302 320.7h1v1.7h-1ZM302 323.3h1v2.5h-1ZM302 329h1v1.3h-1ZM302 331h1v3.4h-1ZM302 334.7h1v2.2h-1ZM302 339.5h1v3.1h-1ZM302 345.3h1v1.4h-1ZM302 349.6h1v2.1h-1ZM302 354.4h1v2.4h-1ZM302 359.8h1v2.4h-1ZM302 363.1h1v1.5h-1ZM302 366.2h1v1.1h-1ZM302 367.9h1v3.6h-1ZM302 373.4h1v3.6h-1ZM302 377.5h1v2.4h-1ZM302 381.5h1v1.3h-1ZM302 383.7h1v3.8h-1ZM302 389.9h1v2.5h-1ZM302 394.5h1v3.6h-1ZM302 401.2h1v2.8h-1ZM302 404.2h1v3.6h-1ZM302 408.3h1v1.7h-1ZM302 410.5h1v2.5h-1ZM303 82.7h1v2.4h-1ZM303 85.6h1v3.2h-1ZM303 90.5h1v1.9h-1ZM303 95.2h1v3.8h-1ZM303 102.1h1v4h-1ZM303 106.3h1v2.2h-1ZM303 110h1v1.8h-1ZM303 114.2h1v3.7h-1ZM303 118.4h1v2.5h-1ZM303 124.1h1v3.7h-1ZM303 129.3h1v1.3h-1ZM303 132.1h1v2.6h-1ZM303 137.3h1v1.6h-1ZM303 139.8h1v4h-1ZM303 143.8h1v2.8h-1ZM303 147h1v3.3h-1ZM303 151.6h1v3.8h-1ZM303 156.1h1v3.6h-1ZM303 160.5h1v1.1h-1ZM303 162h1v1.2h-1ZM303 164.5h1v3.9h-1ZM303 169.6h1v3.2h-1ZM303 172.8h1v2.5h-1ZM303 177.2h1v1.3h-1ZM303 180.4h1v2.3h-1ZM303 183.8h1v3.5h-1ZM303 189.6h1v1.4h-1ZM303 191.4h1v1.2h-1ZM303 193.4h1v2.9h-1ZM303 199.5h1v3.9h-1ZM303 206.3h1v1.4h-1ZM303 210.3h1v3.3h-1ZM303 215.2h1v4h-1ZM303 221.2h1v1.4h-1ZM303 223.3h1v1.4h-1ZM303 226.7h1v2.9h-1ZM303 232.4h1v1h-1ZM303 233.5h1v3.9h-1ZM303 238.3h1v1.8h-1ZM303 242.9h1v1.3h-1ZM303 246.9h1v3.7h-1ZM303 252.5h1v2.8h-1ZM303 255.3h1v2.8h-1ZM303 260.2h1v3.3h-1ZM303 265.2h1v1.3h-1ZM303 267.3h1v3h-1ZM303 270.5h1v1.3h-1ZM303 272.7h1v3.4h-1ZM303 277.9h1v2.1h-1ZM303 283.2h1v2.7h-1ZM303 286.7h1v2.7h-1ZM303 292.3h1v2.1h-1ZM303 295.8h1v2.7h-1ZM303 301.9h1v2.9h-1ZM303 305.4h1v2.7h-1ZM303 309.2h1v2.4h-1ZM303 314h1v1.1h-1ZM303 316.7h1v1.9h-1ZM303 320.7h1v3.5h-1ZM303 325.7h1v2.9h-1ZM303 329.6h1v1.8h-1ZM303 333h1v2.6h-1ZM303 336.4h1v3.3h-1ZM303 341.3h1v2.1h-1ZM303 344.2h1v3.5h-1ZM303 350.8h1v3.8h-1ZM303 355.4h1v1.2h-1ZM303 358.7h1v1.1h-1ZM303 362.6h1v3h-1ZM303 366.8h1v2.3h-1ZM303 371.4h1v1.5h-1ZM303 374.1h1v3.4h-1ZM303 379.7h1v2.8h-1ZM303 382.8h1v1.7h-1ZM303 385.3h1v1.1h-1ZM303 388.6h1v2.7h-1ZM303 394.4h1v2.7h-1ZM303 400.1h1v2.4h-1ZM303 404.2h1v1.8h-1ZM303 407.6h1v3.8h-1ZM304 80.4h1v2.1h-1ZM304 86h1v2.9h-1ZM304 97.9h1v2.4h-1ZM304 116.7h1v3.3h-1ZM304 121.6h1v1.1h-1ZM304 135.1h1v2.8h-1ZM304 149.4h1v2.5h-1ZM304 152.6h1v2.4h-1ZM304 169.7h1v2.8h-1ZM304 173.3h1v1.4h-1ZM304 190.7h1v2.6h-1ZM304 196.3h1v3.1h-1ZM304 215.8h1v3.6h-1ZM304 230.8h1v3.4h-1ZM304 235.8h1v2.4h-1ZM304 252.6h1v2h-1ZM304 257.1h1v3.6h-1ZM304 273.2h1v1h-1ZM304 275.4h1v2.7h-1ZM304 295h1v2.9h-1ZM304 313.4h1v1.3h-1ZM304 324.9h1v1.5h-1ZM304 332.3h1v1.4h-1ZM304 342h1v1.1h-1ZM304 354.8h1v2.9h-1ZM304 373.7h1v3.3h-1ZM304 378.4h1v3.6h-1ZM304 391.6h1v3.8h-1ZM304 404.1h1v1.2h-1ZM305 81.3h1v4h-1ZM305 94.8h1v3.7h-1ZM305 107.2h1v2h-1ZM305 120.9h1v3.1h-1ZM305 132.2h1v1.8h-1ZM305 141.5h1v3.1h-1ZM305 148.7h1v1.5h-1ZM305 158.7h1v3h-1ZM305 162.9h1v1.8h-1ZM305 181.9h1v1.8h-1ZM305 197.4h1v1.9h-1ZM305 200.9h1v2.5h-1ZM305 218.7h1v3.3h-1ZM305 222.9h1v3.1h-1ZM305 237h1v2.4h-1ZM305 251.3h1v2.6h-1ZM305 257.1h1v3.1h-1ZM305 262.4h1v1.9h-1ZM305 279.5h1v2.7h-1ZM305 291.2h1v3.1h-1ZM305 303.1h1v2.2h-1ZM305 315h1v1.1h-1ZM305 322.3h1v1.1h-1ZM305 341.1h1v3.7h-1ZM305 356.4h1v1.5h-1ZM305 373.1h1v1.8h-1ZM305 389.2h1v3h-1ZM305 402.9h1v3.2h-1ZM306 84.6h1v2.6h-1ZM306 100.6h1v3.5h-1ZM306 108.7h1v2.2h-1ZM306 117.3h1v1.2h-1ZM306 134h1v3.1h-1ZM306 145.8h1v2.6h-1ZM306 164h1v1.2h-1ZM306 171.6h1v3.1h-1ZM306 184.1h1v2.5h-1ZM306 191.2h1v1.7h-1ZM306 204.7h1v2h-1ZM306 223.4h1v3.7h-1ZM306 244.3h1v1.8h-1ZM306 255.2h1v1.3h-1ZM306 262.9h1v1.2h-1ZM306 273h1v3.9h-1ZM306 290.4h1v2.1h-1ZM306 297.4h1v3.8h-1ZM306 302.1h1v3.5h-1ZM306 320.8h1v1.2h-1ZM306 338.9h1v2.9h-1ZM306 348.7h1v2.3h-1ZM306 361.8h1v2.6h-1ZM306 379.8h1v3.7h-1ZM306 389.2h1v1h-1ZM306 404.1h1v2.9h-1ZM307 80.8h1v1.2h-1ZM307 97.9h1v2.1h-1ZM307 108.4h1v3.9h-1ZM307 115.8h1v2.9h-1ZM307 119.8h1v2.7h-1ZM307 135.6h1v1.5h-1ZM307 150.5h1v3.9h-1ZM307 169h1v3.4h-1ZM307 189.2h1v3.2h-1ZM307 202.1h1v3.5h-1ZM307 219.8h1v2.9h-1ZM307 234.6h1v1.5h-1ZM307 242.1h1v2h-1ZM307 259.3h1v3.3h-1ZM307 267.8h1v4h-1ZM307 272.8h1v1.2h-1ZM307 279.8h1v1.2h-1ZM307 297.9h1v2.1h-1ZM307 306.9h1v3.6h-1ZM307 319.9h1v2.9h-1ZM307 330.6h1v2.4h-1ZM307 349.9h1v1.8h-1ZM307 361.1h1v2.4h-1ZM307 366h1v1.4h-1ZM307 376.4h1v3.4h-1ZM307 387.5h1v1.2h-1ZM307 405.2h1v1.4h-1ZM308 80.6h1v2.9h-1ZM308 86.2h1v1.8h-1ZM308 95.4h1v3.3h-1ZM308 106.4h1v2.3h-1ZM308 115.8h1v2.6h-1ZM308 123.3h1v3.9h-1ZM308 130.6h1v1.4h-1ZM308 141.7h1v2.1h-1ZM308 156.5h1v1.1h-1ZM308 169.6h1v2.1h-1ZM308 188.2h1v1.9h-1ZM308 197.7h1v2h-1ZM308 209.2h1v1.8h-1ZM308 222.9h1v2.2h-1ZM308 237.7h1v1.9h-1ZM308 247.6h1v2.7h-1ZM308 263h1v3h-1ZM308 273.6h1v1.3h-1ZM308 276.8h1v1.4h-1ZM308 281.5h1v1.6h-1ZM308 294.8h1v2h-1ZM308 312.9h1v1.7h-1ZM308 319h1v1.5h-1ZM308 323.1h1v3h-1ZM308 336.4h1v1.8h-1ZM308 352.5h1v3h-1ZM308 363.2h1v2.8h-1ZM308 377.6h1v2.3h-1ZM308 381.6h1v2.1h-1ZM308 400.4h1v2.1h-1ZM309 80.8h1v3.3h-1ZM309 99.5h1v2.1h-1ZM309 108.2h1v2.5h-1ZM309 115.2h1v1.6h-1ZM309 119.1h1v3.1h-1ZM309 131.2h1v3.9h-1ZM309 152.1h1v3.6h-1ZM309 172.5h1v3.5h-1ZM309 176.5h1v1.4h-1ZM309 195.1h1v3.6h-1ZM309 209.7h1v2.9h-1ZM309 220.3h1v2.3h-1ZM309 225.1h1v2.6h-1ZM309 232.7h1v1.4h-1ZM309 249.4h1v2.7h-1ZM309 267.7h1v1.9h-1ZM309 279.8h1v1.8h-1ZM309 296.4h1v1.6h-1ZM309 309.5h1v2.7h-1ZM309 317.9h1v1.2h-1ZM309 327.8h1v2.6h-1ZM309 344.9h1v1.6h-1ZM309 349.7h1v1.9h-1ZM309 365.9h1v1.7h-1ZM309 378.8h1v1.1h-1ZM309 381.4h1v3.1h-1ZM309 393.3h1v1.3h-1ZM309 403h1v3.8h-1ZM310 83.2h1v2.3h-1ZM310 94.4h1v1.1h-1ZM310 111.2h1v2.7h-1ZM310 120.1h1v1.9h-1ZM310 125.2h1v3.8h-1ZM310 144h1v2.1h-1ZM310 156.8h1v2.7h-1ZM310 163h1v1.1h-1ZM310 177.1h1v1.5h-1ZM310 188.6h1v1.1h-1ZM310 190.1h1v1.5h-1ZM310 203.1h1v2.8h-1ZM310 223.6h1v3h-1ZM310 235.8h1v1h-1ZM310 253.8h1v2.5h-1ZM310 271.5h1v1.1h-1ZM310 287.4h1v2.4h-1ZM310 293.7h1v2.2h-1ZM310 297.2h1v2.7h-1ZM310 303.9h1v3.1h-1ZM310 310.1h1v3.1h-1ZM310 324.1h1v3.1h-1ZM310 344.1h1v1.9h-1ZM310 358h1v2.2h-1ZM310 376.1h1v3.5h-1ZM310 393.1h1v2.8h-1ZM310 400.5h1v3.7h-1ZM311 85.1h1v2h-1ZM311 101.7h1v3h-1ZM311 119.7h1v3.4h-1ZM311 131.1h1v2.2h-1ZM311 147.4h1v3h-1ZM311 159.9h1v3.6h-1ZM311 164.1h1v1h-1ZM311 173.4h1v1.3h-1ZM311 189.6h1v1.3h-1ZM311 206.5h1v1.7h-1ZM311 210.6h1v3.3h-1ZM311 225.9h1v2.2h-1ZM311 238.7h1v2.7h-1ZM311 258.1h1v2.5h-1ZM311 270.2h1v2.4h-1ZM311 279.9h1v3.1h-1ZM311 284.9h1v3.1h-1ZM311 304.5h1v3.3h-1ZM311 317.4h1v2.1h-1ZM311 321.2h1v1.3h-1ZM311 332h1v3.6h-1ZM311 351h1v1.6h-1ZM311 365.9h1v3.4h-1ZM311 377.8h1v3.6h-1ZM311 384.7h1v2h-1ZM311 395.8h1v3.2h-1ZM311 406.9h1v1.9h-1ZM312 82.4h1v2.3h-1ZM312 88.6h1v2.4h-1ZM312 103.6h1v2.1h-1ZM312 117.4h1v2.5h-1ZM312 120.1h1v3.9h-1ZM312 129.1h1v2.6h-1ZM312 148.7h1v1.6h-1ZM312 151.4h1v1.6h-1ZM312 155.8h1v3.6h-1ZM312 168.5h1v1.1h-1ZM312 174.4h1v2.5h-1ZM312 180.1h1v1.9h-1ZM312 198h1v2.3h-1ZM312 204.5h1v2.8h-1ZM312 209.3h1v2.6h-1ZM312 223.3h1v1.3h-1ZM312 234.3h1v1.9h-1ZM312 249.4h1v2.8h-1ZM312 268.4h1v2.8h-1ZM312 274.5h1v1.6h-1ZM312 288.5h1v3.4h-1ZM312 293.1h1v2.3h-1ZM312 300.3h1v2.4h-1ZM312 318.2h1v2.7h-1ZM312 334.1h1v3.3h-1ZM312 342.3h1v2.9h-1ZM312 351.8h1v2.4h-1ZM312 363.6h1v3h-1ZM312 369.6h1v3.5h-1ZM312 376h1v1.9h-1ZM312 393h1v4h-1ZM312 403.4h1v3.9h-1ZM312 407.9h1v3.9h-1ZM313 80.6h1v3.3h-1ZM313 86.7h1v3.3h-1ZM313 90.1h1v1.4h-1ZM313 97.8h1v1.3h-1ZM313 107.4h1v2h-1ZM313 122.5h1v2.5h-1ZM313 142.1h1v3.5h-1ZM313 148.7h1v3.8h-1ZM313 168.3h1v2.7h-1ZM313 180.4h1v1.5h-1ZM313 187.6h1v1.7h-1ZM313 192.7h1v2.8h-1ZM313 201.3h1v3.3h-1ZM313 214.7h1v3.5h-1ZM313 219.8h1v3.5h-1ZM313 232.3h1v2.9h-1ZM313 239.4h1v3.1h-1ZM313 249.7h1v3.2h-1ZM313 263.3h1v1.4h-1ZM313 270h1v3.3h-1ZM313 273.5h1v2.9h-1ZM313 286.1h1v3.1h-1ZM313 295.1h1v2.4h-1ZM313 306h1v3.2h-1ZM313 310.5h1v2.5h-1ZM313 317.6h1v2.8h-1ZM313 325h1v1.6h-1ZM313 330.7h1v3.7h-1ZM313 340.9h1v3.6h-1ZM313 357.5h1v1.8h-1ZM313 369.2h1v1h-1ZM313 386.7h1v2.9h-1ZM313 391.6h1v2.6h-1ZM313 402.9h1v3h-1ZM314 84.9h1v2.9h-1ZM314 89.1h1v3.5h-1ZM314 108.2h1v1.9h-1ZM314 122.8h1v3.6h-1ZM314 142h1v1.2h-1ZM314 158h1v1.7h-1ZM314 174h1v3.1h-1ZM314 185.3h1v3.7h-1ZM314 203.2h1v4h-1ZM314 224.2h1v2.7h-1ZM314 240h1v3h-1ZM314 250.1h1v2.5h-1ZM314 261.6h1v1.6h-1ZM314 267.9h1v3.5h-1ZM314 286.4h1v3.1h-1ZM314 301.7h1v2.5h-1ZM314 314.4h1v3h-1ZM314 317.5h1v2.3h-1ZM314 337h1v1.6h-1ZM314 346.9h1v1.2h-1ZM314 352.7h1v3.5h-1ZM314 356.7h1v3.4h-1ZM314 374.3h1v3.6h-1ZM314 382.4h1v3.8h-1ZM314 392.8h1v2.4h-1ZM315 83.1h1v3h-1ZM315 88.1h1v1h-1ZM315 93.8h1v1.3h-1ZM315 109.8h1v1.7h-1ZM315 128.5h1v3h-1ZM315 134.9h1v3.1h-1ZM315 143.7h1v2.6h-1ZM315 147.6h1v3.5h-1ZM315 165.1h1v2.7h-1ZM315 180h1v2h-1ZM315 184.3h1v2h-1ZM315 199.4h1v2.7h-1ZM315 204.5h1v1.7h-1ZM315 214.6h1v1h-1ZM315 216.5h1v2.3h-1ZM315 221.2h1v3.7h-1ZM315 227.1h1v3.2h-1ZM315 244.5h1v1.9h-1ZM315 256h1v4h-1ZM315 271h1v2.2h-1ZM315 290.4h1v1.8h-1ZM315 309.1h1v1.9h-1ZM315 318.5h1v1.9h-1ZM315 332h1v3.6h-1ZM315 347.9h1v1.5h-1ZM315 367h1v3.2h-1ZM315 379.1h1v3.5h-1ZM315 384.6h1v2.8h-1ZM315 401.3h1v3.3h-1ZM316 80.7h1v2.4h-1ZM316 87.9h1v2.8h-1ZM316 97.8h1v2.4h-1ZM316 109.7h1v2.8h-1ZM316 128.2h1v1.8h-1ZM316 134.9h1v1.6h-1ZM316 138.5h1v3.5h-1ZM316 158.3h1v1.4h-1ZM316 166.1h1v3.7h-1ZM316 185.1h1v3.9h-1ZM316 206.7h1v1.9h-1ZM316 209.8h1v1.7h-1ZM316 220.4h1v1h-1ZM316 225.9h1v2.4h-1ZM316 240.5h1v1.5h-1ZM316 244.1h1v2h-1ZM316 247.7h1v1.4h-1ZM316 250.9h1v3.4h-1ZM316 269.9h1v1.1h-1ZM316 285.3h1v3.5h-1ZM316 300.3h1v1.9h-1ZM316 316.8h1v1.2h-1ZM316 318.8h1v3.9h-1ZM316 326.6h1v3.7h-1ZM316 343.7h1v1.1h-1ZM316 346.6h1v2.9h-1ZM316 352.1h1v3h-1ZM316 367h1v1.7h-1ZM316 377.2h1v1.6h-1ZM316 394.2h1v2.9h-1ZM316 409.4h1v2.9h-1ZM317 84.8h1v3.3h-1ZM317 89.7h1v2.8h-1ZM317 94h1v3.3h-1ZM317 98.9h1v1.8h-1ZM317 102.3h1v1.6h-1ZM317 104h1v2.6h-1ZM317 109.2h1v3.2h-1ZM317 113h1v2.5h-1ZM317 117.3h1v2.7h-1ZM317 121.5h1v2.5h-1ZM317 126.1h1v3.6h-1ZM317 131.3h1v3.4h-1ZM317 136.8h1v1.4h-1ZM317 138.9h1v1.9h-1ZM317 142h1v2.5h-1ZM317 145.3h1v4h-1ZM317 151.6h1v2.1h-1ZM317 155.8h1v3.8h-1ZM317 160.1h1v2.9h-1ZM317 165.9h1v2.1h-1ZM317 170.7h1v3.4h-1ZM317 175.1h1v1.4h-1ZM317 179h1v2.2h-1ZM317 182.4h1v2.4h-1ZM317 187h1v3.7h-1ZM317 193.5h1v3.3h-1ZM317 197.3h1v2.1h-1ZM317 199.4h1v1.6h-1ZM317 202.1h1v1.5h-1ZM317 205.1h1v1.4h-1ZM317 208.5h1v2.2h-1ZM317 211.5h1v3.1h-1ZM317 215.5h1v1.1h-1ZM317 219.2h1v3.3h-1ZM317 225.1h1v1.9h-1ZM317 227.8h1v3.1h-1ZM317 231.4h1v3.9h-1ZM317 237.3h1v2.6h-1ZM317 240.1h1v1.8h-1ZM317 243.2h1v3.9h-1ZM317 247.6h1v2.8h-1ZM317 250.6h1v3.9h-1ZM317 256.8h1v3.4h-1ZM317 262.5h1v1.5h-1ZM317 264.8h1v1.1h-1ZM317 267.6h1v1.2h-1ZM317 269.4h1v1.5h-1ZM317 273.8h1v3.4h-1ZM317 278h1v3.9h-1ZM317 282.4h1v1.4h-1ZM317 285h1v3.4h-1ZM317 288.7h1v3.4h-1ZM317 293.8h1v3.4h-1ZM317 298.2h1v1.1h-1ZM317 299.6h1v3.2h-1ZM317 304.4h1v3.3h-1ZM317 308.3h1v1.8h-1ZM317 310.7h1v3.6h-1ZM317 316.4h1v1.5h-1ZM317 320.1h1v1.1h-1ZM317 322.7h1v1.8h-1ZM317 326.8h1v3.2h-1ZM317 332h1v1.6h-1ZM317 333.8h1v2.9h-1ZM317 338.8h1v1h-1ZM317 342.4h1v3.7h-1ZM317 347.2h1v2.6h-1ZM317 351.8h1v3.8h-1ZM317 357.5h1v2.5h-1ZM317 362.4h1v2.5h-1ZM317 365h1v2.6h-1ZM317 368.9h1v2h-1ZM317 372.1h1v1.7h-1ZM317 374.8h1v3.2h-1ZM317 380.7h1v2.4h-1ZM317 385.7h1v1.4h-1ZM317 388.6h1v3.2h-1ZM317 394.3h1v2.2h-1ZM317 396.9h1v3.9h-1ZM317 402.7h1v3h-1ZM317 406.7h1v1.3h-1ZM317 409.8h1v2.2h-1ZM318 83.7h1v3.3h-1ZM318 88.7h1v3.3h-1ZM318 92.4h1v4h-1ZM318 98.2h1v2.8h-1ZM318 101.5h1v1.3h-1ZM318 105h1v3.2h-1ZM318 110.2h1v1.8h-1ZM318 113.5h1v3.3h-1ZM318 118.7h1v3.7h-1ZM318 122.7h1v3.3h-1ZM318 126.1h1v2.9h-1ZM318 130.6h1v1.2h-1ZM318 133.1h1v3h-1ZM318 138.8h1v1.2h-1ZM318 141.6h1v3.4h-1ZM318 145.3h1v3.7h-1ZM318 151.9h1v2h-1ZM318 154.5h1v1.4h-1ZM318 156.6h1v2.3h-1ZM318 161.1h1v3.8h-1ZM318 166.6h1v3.9h-1ZM318 171.8h1v3h-1ZM318 174.7h1v2.3h-1ZM318 177h1v1.4h-1ZM318 180.9h1v1.3h-1ZM318 183.2h1v2.6h-1ZM318 187.4h1v1.1h-1ZM318 188.8h1v3h-1ZM318 193.1h1v1.3h-1ZM318 195.8h1v2.1h-1ZM318 201h1v1.1h-1ZM318 202.7h1v1.2h-1ZM318 205.6h1v3.9h-1ZM318 211.9h1v1.3h-1ZM318 214.9h1v2.1h-1ZM318 219.9h1v3.1h-1ZM318 224.9h1v1.8h-1ZM318 228h1v2.6h-1ZM318 231.8h1v2.7h-1ZM318 234.7h1v2.3h-1ZM318 240h1v2.2h-1ZM318 243.8h1v3.3h-1ZM318 249.5h1v3.2h-1ZM318 253.9h1v3.1h-1ZM318 257.6h1v2.9h-1ZM318 260.5h1v1.6h-1ZM318 262.6h1v2.1h-1ZM318 267h1v1.1h-1ZM318 270.7h1v1.3h-1ZM318 274.9h1v3.8h-1ZM318 280.6h1v3.5h-1ZM318 287h1v2.3h-1ZM318 292h1v1.1h-1ZM318 295.5h1v2.9h-1ZM318 300.8h1v1.4h-1ZM318 302.5h1v2.6h-1ZM318 307h1v3.1h-1ZM318 310.6h1v2.7h-1ZM318 316.2h1v1.8h-1ZM318 320.5h1v3.9h-1ZM318 326.4h1v2.3h-1ZM318 330.1h1v2.4h-1ZM318 332.8h1v1.2h-1ZM318 334.9h1v1.5h-1ZM318 339.2h1v2.1h-1ZM318 344h1v2.7h-1ZM318 349.4h1v3.7h-1ZM318 355.3h1v2.3h-1ZM318 358.4h1v2.7h-1ZM318 362h1v3.5h-1ZM318 365.6h1v2.9h-1ZM318 369.6h1v2.3h-1ZM318 373.5h1v3.9h-1ZM318 380.5h1v2.1h-1ZM318 385.5h1v3.9h-1ZM318 391h1v2.7h-1ZM318 394.3h1v3.4h-1ZM318 399.1h1v3.3h-1ZM318 405.2h1v2.9h-1ZM318 410.2h1v2.6h-1ZM319 82.7h1v1.2h-1ZM319 84.4h1v3.9h-1ZM319 89.5h1v1.4h-1ZM319 92.3h1v1.2h-1ZM319 95.3h1v1.7h-1ZM319 97.7h1v2.9h-1ZM319 103.4h1v1h-1ZM319 106.7h1v2.7h-1ZM319 110.9h1v2.3h-1ZM319 113.2h1v2.1h-1ZM319 116.8h1v2h-1ZM319 121.9h1v2h-1ZM319 126.5h1v3.4h-1ZM319 132.4h1v2.5h-1ZM319 136.4h1v3.5h-1ZM319 140.3h1v1.7h-1ZM319 142h1v2.5h-1ZM319 145.9h1v3.9h-1ZM319 152.6h1v2.2h-1ZM319 156.3h1v1.3h-1ZM319 159.9h1v2.6h-1ZM319 163h1v3.6h-1ZM319 166.8h1v1.6h-1ZM319 169.8h1v4h-1ZM319 174.2h1v1.8h-1ZM319 178.4h1v2h-1ZM319 183.3h1v1.1h-1ZM319 185.1h1v1.9h-1ZM319 189.6h1v1.3h-1ZM319 193h1v3.7h-1ZM319 199.6h1v3.4h-1ZM319 203.2h1v2.4h-1ZM319 206.3h1v1.4h-1ZM319 208.4h1v3.2h-1ZM319 213.4h1v1.4h-1ZM319 215.7h1v1.2h-1ZM319 219.7h1v3.3h-1ZM319 224.4h1v3.9h-1ZM319 231.3h1v1.6h-1ZM319 233.7h1v1.6h-1ZM319 237.2h1v2.8h-1ZM319 241.6h1v3.3h-1ZM319 246.5h1v1.9h-1ZM319 250.5h1v3.8h-1ZM319 254.5h1v2.5h-1ZM319 257.4h1v3.2h-1ZM319 262h1v3.5h-1ZM319 267.5h1v3.9h-1ZM319 273.2h1v2.8h-1ZM319 279h1v3.4h-1ZM319 283.4h1v1.3h-1ZM319 287.5h1v1.2h-1ZM319 291.6h1v3.8h-1ZM319 297.4h1v3.8h-1ZM319 303.1h1v3.2h-1ZM319 308.2h1v1.7h-1ZM319 310.1h1v3.2h-1ZM319 314.7h1v1.4h-1ZM319 317.8h1v1.8h-1ZM319 320.4h1v3.6h-1ZM319 325.9h1v3.2h-1ZM319 331.6h1v2.3h-1ZM319 335.3h1v2.3h-1ZM319 338.7h1v3.3h-1ZM319 344.8h1v1.9h-1ZM319 348.8h1v1.6h-1ZM319 350.5h1v3.1h-1ZM319 355.9h1v2h-1ZM319 361h1v3.2h-1ZM319 365.1h1v3.3h-1ZM319 371h1v1.4h-1ZM319 375.2h1v2.3h-1ZM319 378.3h1v2.1h-1ZM319 382.1h1v2.6h-1ZM319 385.6h1v1.2h-1ZM319 388.7h1v3.2h-1ZM319 394h1v2.2h-1ZM319 398.8h1v1.1h-1ZM319 400.2h1v1.1h-1ZM319 403h1v2.6h-1ZM319 406.3h1v2.6h-1ZM319 408.9h1v1.1h-1ZM320 84.8h1v1.2h-1ZM320 88h1v2.5h-1ZM320 92.2h1v3.5h-1ZM320 97.7h1v3.8h-1ZM320 103.6h1v3.7h-1ZM320 107.7h1v3.5h-1ZM320 112.2h1v3.8h-1ZM320 118.4h1v3.9h-1ZM320 124.6h1v2.2h-1ZM320 128.3h1v3.3h-1ZM320 131.9h1v2.6h-1ZM320 136.2h1v3.2h-1ZM320 140.4h1v2.8h-1ZM320 145.5h1v2.1h-1ZM320 149.7h1v3.7h-1ZM320 154.6h1v2.6h-1ZM320 158.6h1v3.5h-1ZM320 163h1v1.9h-1ZM320 166h1v3h-1ZM320 169.5h1v3.9h-1ZM320 175h1v3.2h-1ZM320 179.4h1v1.1h-1ZM320 181.7h1v2.7h-1ZM320 184.7h1v3.9h-1ZM320 190.4h1v2.4h-1ZM320 192.9h1v1.7h-1ZM320 195.6h1v2.9h-1ZM320 199.1h1v2.5h-1ZM320 202.4h1v2.7h-1ZM320 207.2h1v2.6h-1ZM320 212.1h1v2.9h-1ZM320 215.2h1v3h-1ZM320 219.6h1v3.3h-1ZM320 225.8h1v2.1h-1ZM320 230.5h1v1.7h-1ZM320 234.1h1v1h-1ZM320 237.7h1v2.3h-1ZM320 241.4h1v2.5h-1ZM320 245h1v1.7h-1ZM320 248.9h1v2.9h-1ZM320 251.9h1v1.8h-1ZM320 256.6h1v1.8h-1ZM320 259.3h1v2.7h-1ZM320 263.2h1v3.8h-1ZM320 270h1v1.4h-1ZM320 272.1h1v1.5h-1ZM320 275h1v1.9h-1ZM320 278.9h1v3.7h-1ZM320 282.8h1v1.1h-1ZM320 284.2h1v1.9h-1ZM320 286.6h1v2.3h-1ZM320 290h1v3.2h-1ZM320 296.1h1v3.9h-1ZM320 301.3h1v2.9h-1ZM320 304.7h1v2.8h-1ZM320 310.2h1v3.7h-1ZM320 314.3h1v1.5h-1ZM320 318.6h1v3.1h-1ZM320 324h1v1.2h-1ZM320 327.1h1v1.1h-1ZM320 330.4h1v3.4h-1ZM320 334.8h1v1h-1ZM320 338h1v4h-1ZM320 343.9h1v2.1h-1ZM320 347h1v3.4h-1ZM320 353.4h1v2.1h-1ZM320 356.2h1v4h-1ZM320 361.5h1v2.3h-1ZM320 364.8h1v3.2h-1ZM320 371h1v2.4h-1ZM320 376h1v2.2h-1ZM320 379.5h1v3.4h-1ZM320 385.9h1v3.3h-1ZM320 391.3h1v3.5h-1ZM320 397.6h1v3.9h-1ZM320 403.1h1v2.2h-1ZM320 405.3h1v2.6h-1ZM320 408.9h1v1h-1ZM321 81.9h1v3.8h-1ZM321 85.8h1v2.1h-1ZM321 90.3h1v3h-1ZM321 95.3h1v2.5h-1ZM321 98.1h1v3.5h-1ZM321 103.9h1v2.4h-1ZM321 108.1h1v3.4h-1ZM321 113h1v2.4h-1ZM321 116.9h1v3.2h-1ZM321 122.4h1v2h-1ZM321 126.8h1v2.1h-1ZM321 130.9h1v2.1h-1ZM321 135.8h1v3.8h-1ZM321 142h1v2.1h-1ZM321 145.3h1v2.3h-1ZM321 149.4h1v1.1h-1ZM321 152.2h1v3.8h-1ZM321 156.2h1v3.7h-1ZM321 161.6h1v4h-1ZM321 167.8h1v3.2h-1ZM321 173.3h1v2.3h-1ZM321 175.9h1v3.6h-1ZM321 182.1h1v3.2h-1ZM321 186h1v2.5h-1ZM321 190h1v2.1h-1ZM321 193.6h1v2.4h-1ZM321 199h1v2.9h-1ZM321 204.9h1v3.7h-1ZM321 209.2h1v3.3h-1ZM321 213.6h1v2.8h-1ZM321 218.2h1v3.2h-1ZM321 222.3h1v3h-1ZM321 226.5h1v3.3h-1ZM321 231.3h1v2.9h-1ZM321 237.3h1v1.8h-1ZM321 239.2h1v3.7h-1ZM321 244.5h1v2.9h-1ZM321 249.9h1v3.7h-1ZM321 254.8h1v4h-1ZM321 260h1v3.2h-1ZM321 265.7h1v2.1h-1ZM321 269.1h1v2.1h-1ZM321 272.2h1v2.2h-1ZM321 277h1v1.2h-1ZM321 281.3h1v3.4h-1ZM321 286.3h1v2.9h-1ZM321 290.2h1v3.3h-1ZM321 296.2h1v2.1h-1ZM321 299.8h1v1.7h-1ZM321 302.3h1v3.6h-1ZM321 307.8h1v2.3h-1ZM321 312.1h1v1.6h-1ZM321 313.7h1v2.1h-1ZM321 317.5h1v1.6h-1ZM321 320.7h1v2h-1ZM321 323.5h1v3.2h-1ZM321 327.8h1v3.2h-1ZM321 333.3h1v2.1h-1ZM321 335.6h1v3.5h-1ZM321 340.8h1v2.7h-1ZM321 345.6h1v2.6h-1ZM321 351h1v1h-1ZM321 355h1v2.8h-1ZM321 359.1h1v3.7h-1ZM321 365.6h1v2.8h-1ZM321 368.4h1v2.9h-1ZM321 372.6h1v2.7h-1ZM321 377.8h1v1.4h-1ZM321 381.8h1v1.9h-1ZM321 384.5h1v1.1h-1ZM321 385.9h1v1.8h-1ZM321 389.4h1v3.8h-1ZM321 393.7h1v1.9h-1ZM321 396.7h1v2.9h-1ZM321 400.7h1v3h-1ZM321 404.2h1v1.1h-1ZM321 407.1h1v3.2h-1ZM321 410.7h1v1.1h-1ZM322 80.7h1v3.8h-1ZM322 86.6h1v1.5h-1ZM322 89.4h1v1.2h-1ZM322 90.8h1v2.1h-1ZM322 95.5h1v3.7h-1ZM322 101.6h1v2.9h-1ZM322 106.3h1v2.5h-1ZM322 110.8h1v2.5h-1ZM322 114.5h1v3.5h-1ZM322 119h1v2.2h-1ZM322 123.3h1v3.9h-1ZM322 128.2h1v2.3h-1ZM322 131.7h1v1.6h-1ZM322 134.5h1v3.4h-1ZM322 138.4h1v2.4h-1ZM322 141.7h1v2.7h-1ZM322 146.8h1v1.3h-1ZM322 149.6h1v1.6h-1ZM322 153.2h1v3h-1ZM322 156.9h1v1.7h-1ZM322 159.5h1v2h-1ZM322 164.2h1v3.6h-1ZM322 170.3h1v2.2h-1ZM322 173.9h1v1.6h-1ZM322 176.9h1v3.9h-1ZM322 181h1v2.2h-1ZM322 183.8h1v3.5h-1ZM322 188.3h1v2.5h-1ZM322 190.9h1v3.1h-1ZM322 195.5h1v3.4h-1ZM322 201.1h1v3.2h-1ZM322 205.2h1v1.8h-1ZM322 208.8h1v1.1h-1ZM322 212.8h1v3.2h-1ZM322 217.5h1v2.1h-1ZM322 219.8h1v2.7h-1ZM322 224.8h1v1.4h-1ZM322 226.5h1v3.1h-1ZM322 231h1v3.4h-1ZM322 235.6h1v3.9h-1ZM322 242.2h1v2h-1ZM322 245.8h1v2.8h-1ZM322 250h1v3.5h-1ZM322 255.6h1v3.5h-1ZM322 259.8h1v2.5h-1ZM322 264h1v2.8h-1ZM322 266.8h1v3.4h-1ZM322 271.6h1v1.5h-1ZM322 275.7h1v2.7h-1ZM322 280.6h1v3.2h-1ZM322 285.8h1v3.7h-1ZM322 289.7h1v2h-1ZM322 292.2h1v2.9h-1ZM322 295.8h1v1.1h-1ZM322 297.3h1v1.5h-1ZM322 300.4h1v2.4h-1ZM322 304.2h1v1h-1ZM322 306.9h1v1.8h-1ZM322 308.9h1v1.2h-1ZM322 310.6h1v2.2h-1ZM322 313.3h1v2.4h-1ZM322 316.2h1v3.2h-1ZM322 322.1h1v2h-1ZM322 324.2h1v3.9h-1ZM322 328.4h1v2.9h-1ZM322 333.7h1v2.4h-1ZM322 338.9h1v1.4h-1ZM322 342.5h1v3.7h-1ZM322 349h1v3.5h-1ZM322 353.9h1v2.5h-1ZM322 359h1v2.1h-1ZM322 361.9h1v1.1h-1ZM322 363.6h1v1.4h-1ZM322 367.9h1v1.9h-1ZM322 370.9h1v3.9h-1ZM322 377h1v2.3h-1ZM322 379.6h1v2.1h-1ZM322 382.6h1v3.8h-1ZM322 387.7h1v3.9h-1ZM322 392.4h1v1.1h-1ZM322 396.3h1v1.2h-1ZM322 400h1v2.8h-1ZM322 403.6h1v3.5h-1ZM322 408.5h1v4h-1ZM323 85.1h1v3.8h-1ZM323 90.1h1v3.1h-1ZM323 95.4h1v3h-1ZM323 98.4h1v3.1h-1ZM323 103.8h1v1.6h-1ZM323 105.7h1v1.2h-1ZM323 108.5h1v1.3h-1ZM323 112.5h1v2.2h-1ZM323 117.8h1v3.2h-1ZM323 122.3h1v1.5h-1ZM323 125.1h1v2.8h-1ZM323 130.6h1v3.7h-1ZM323 135.3h1v1.1h-1ZM323 138.4h1v3.1h-1ZM323 143.4h1v3.4h-1ZM323 149.3h1v2.9h-1ZM323 154.7h1v1.4h-1ZM323 159h1v3h-1ZM323 162.3h1v1.5h-1ZM323 165.7h1v1.9h-1ZM323 170.5h1v1.8h-1ZM323 173.9h1v2.5h-1ZM323 179.2h1v1.9h-1ZM323 183.9h1v3.2h-1ZM323 188.8h1v3.8h-1ZM323 195.4h1v3.2h-1ZM323 200.3h1v1.1h-1ZM323 202.1h1v3h-1ZM323 205.4h1v2.9h-1ZM323 209.4h1v2.2h-1ZM323 214.1h1v3.5h-1ZM323 219.9h1v2.3h-1ZM323 223.9h1v4h-1ZM323 230.7h1v2.8h-1ZM323 233.7h1v3.7h-1ZM323 237.6h1v1.4h-1ZM323 240.9h1v1.6h-1ZM323 244.8h1v3.1h-1ZM323 248.4h1v3.7h-1ZM323 255.2h1v3h-1ZM323 261.2h1v3.4h-1ZM323 266h1v3.5h-1ZM323 272.4h1v3.1h-1ZM323 275.7h1v2.1h-1ZM323 280h1v2.1h-1ZM323 282.6h1v2.4h-1ZM323 285.4h1v2.4h-1ZM323 288.1h1v3.2h-1ZM323 292h1v3.8h-1ZM323 296.1h1v2.9h-1ZM323 301h1v1.6h-1ZM323 304.5h1v2.6h-1ZM323 309h1v1.6h-1ZM323 312h1v3.5h-1ZM323 317.4h1v1.7h-1ZM323 320.2h1v3.6h-1ZM323 324h1v2.4h-1ZM323 328h1v2.3h-1ZM323 330.3h1v1.3h-1ZM323 334.2h1v2.4h-1ZM323 337.5h1v2.4h-1ZM323 340h1v1.2h-1ZM323 343.8h1v3.3h-1ZM323 347.6h1v2h-1ZM323 349.8h1v2h-1ZM323 353.4h1v3.3h-1ZM323 358.2h1v3.5h-1ZM323 364.8h1v2.7h-1ZM323 367.6h1v1.4h-1ZM323 371.1h1v1.4h-1ZM323 375.2h1v1.2h-1ZM323 376.6h1v4h-1ZM323 381.8h1v2.7h-1ZM323 386.3h1v1.4h-1ZM323 388.7h1v2.1h-1ZM323 393h1v3.3h-1ZM323 398.5h1v1.5h-1ZM323 401.5h1v3.7h-1ZM323 405.8h1v2h-1ZM323 409.7h1v4h-1ZM324 83.9h1v2.4h-1ZM324 91.6h1v3.5h-1ZM324 96.1h1v2.8h-1ZM324 102.1h1v3.3h-1ZM324 112.6h1v2.2h-1ZM324 116.4h1v3.3h-1ZM324 126.8h1v2.7h-1ZM324 137.1h1v3.8h-1ZM324 143.4h1v3.1h-1ZM324 154.7h1v1.8h-1ZM324 165.6h1v1.9h-1ZM324 177.3h1v2.7h-1ZM324 189.9h1v3.7h-1ZM324 201.5h1v2.1h-1ZM324 208.3h1v2.8h-1ZM324 219.2h1v2.2h-1ZM324 230.6h1v1.7h-1ZM324 237.5h1v1.4h-1ZM324 240.7h1v1.9h-1ZM324 243h1v2.7h-1ZM324 252h1v2.2h-1ZM324 262.3h1v2.6h-1ZM324 271.9h1v1.3h-1ZM324 276.5h1v1.1h-1ZM324 279.2h1v3.5h-1ZM324 284.1h1v2.8h-1ZM324 290.7h1v3h-1ZM324 302.6h1v3.5h-1ZM324 315.9h1v3.9h-1ZM324 323.8h1v4h-1ZM324 335.5h1v1.8h-1ZM324 340.7h1v2.6h-1ZM324 351.9h1v1.3h-1ZM324 362.2h1v3h-1ZM324 371.2h1v2.2h-1ZM324 377.3h1v2.2h-1ZM324 386.8h1v2.3h-1ZM324 396.4h1v3.6h-1ZM324 400.9h1v1.1h-1ZM325 81.4h1v3.4h-1ZM325 88.9h1v1.7h-1ZM325 90.7h1v2.3h-1ZM325 99.1h1v1.2h-1ZM325 100.4h1v1.9h-1ZM325 111.2h1v3.3h-1ZM325 117h1v2.2h-1ZM325 123.5h1v3.1h-1ZM325 129.5h1v2.1h-1ZM325 136.7h1v1.7h-1ZM325 142.7h1v3.2h-1ZM325 151.1h1v1.2h-1ZM325 155.8h1v2.7h-1ZM325 160.9h1v2.2h-1ZM325 168.7h1v2.1h-1ZM325 172.7h1v3.6h-1ZM325 177h1v3.7h-1ZM325 181.6h1v2.7h-1ZM325 189.8h1v2.2h-1ZM325 198.4h1v3.7h-1ZM325 205.3h1v1.2h-1ZM325 208.5h1v3.6h-1ZM325 218.2h1v3.3h-1ZM325 225.4h1v2h-1ZM325 234.4h1v2.7h-1ZM325 246.4h1v1.5h-1ZM325 251.4h1v3.1h-1ZM325 263.6h1v2.4h-1ZM325 274h1v1.3h-1ZM325 281.9h1v2h-1ZM325 290.9h1v1.9h-1ZM325 294.7h1v1.8h-1ZM325 303.8h1v3.1h-1ZM325 316.2h1v2.2h-1ZM325 319.1h1v3.4h-1ZM325 325.2h1v3.2h-1ZM325 333.3h1v2.3h-1ZM325 335.9h1v1.7h-1ZM325 345.2h1v2.4h-1ZM325 356.5h1v3.4h-1ZM325 365.4h1v3.9h-1ZM325 369.3h1v2.2h-1ZM325 377h1v1.2h-1ZM325 387h1v1.4h-1ZM325 394.3h1v1.8h-1ZM325 400h1v2.4h-1ZM325 405.3h1v1.5h-1ZM326 83.5h1v1.2h-1ZM326 94.7h1v1.3h-1ZM326 98.2h1v1.8h-1ZM326 103.8h1v2.5h-1ZM326 115.4h1v1.3h-1ZM326 122.6h1v2.9h-1ZM326 128h1v2.1h-1ZM326 134.6h1v3.7h-1ZM326 146.2h1v2.4h-1ZM326 149.3h1v2.1h-1ZM326 159.7h1v2.3h-1ZM326 165.9h1v2.9h-1ZM326 169.3h1v2.9h-1ZM326 179.2h1v1.3h-1ZM326 184.7h1v3.6h-1ZM326 191h1v2.6h-1ZM326 197.1h1v2.7h-1ZM326 203.7h1v2h-1ZM326 215.1h1v3.1h-1ZM326 228.3h1v2h-1ZM326 235.1h1v2.1h-1ZM326 246h1v2.1h-1ZM326 255h1v1.5h-1ZM326 262h1v1.8h-1ZM326 273.1h1v2.1h-1ZM326 284.9h1v2.7h-1ZM326 291h1v2.7h-1ZM326 303.1h1v3.1h-1ZM326 314.6h1v2.7h-1ZM326 323.6h1v1.4h-1ZM326 333.4h1v2.9h-1ZM326 342.9h1v1.9h-1ZM326 352.6h1v2.6h-1ZM326 358.4h1v4h-1ZM326 370.2h1v3h-1ZM326 381.8h1v3.1h-1ZM326 388.8h1v3.9h-1ZM326 401.9h1v3h-1ZM326 409.3h1v2.5h-1ZM327 84.8h1v3.5h-1ZM327 94.4h1v2.4h-1ZM327 104.9h1v1.1h-1ZM327 110.1h1v1.8h-1ZM327 118h1v2.1h-1ZM327 126.2h1v3.7h-1ZM327 134.1h1v1.3h-1ZM327 135.5h1v3.5h-1ZM327 143.8h1v2.3h-1ZM327 146.4h1v1.3h-1ZM327 147.8h1v3.7h-1ZM327 151.9h1v2h-1ZM327 158.7h1v2.7h-1ZM327 163.7h1v2.9h-1ZM327 173.1h1v4h-1ZM327 178h1v1.9h-1ZM327 180.9h1v1.9h-1ZM327 185h1v1.1h-1ZM327 194.2h1v1.8h-1ZM327 203.6h1v3.4h-1ZM327 215.2h1v1.1h-1ZM327 222.2h1v3.6h-1ZM327 232.2h1v2.8h-1ZM327 239.3h1v3.5h-1ZM327 248.2h1v2.1h-1ZM327 255.3h1v2.4h-1ZM327 259.6h1v3h-1ZM327 271.1h1v3h-1ZM327 274.1h1v2.2h-1ZM327 284.1h1v1.4h-1ZM327 290.7h1v3h-1ZM327 299.1h1v2h-1ZM327 301.3h1v3.1h-1ZM327 306.1h1v2.8h-1ZM327 314.2h1v3.2h-1ZM327 318.5h1v3.9h-1ZM327 330h1v3.6h-1ZM327 335.5h1v3.2h-1ZM327 342.5h1v3.1h-1ZM327 352.7h1v2.2h-1ZM327 364.6h1v2.3h-1ZM327 371.6h1v3.1h-1ZM327 376.3h1v3.7h-1ZM327 383.4h1v3.7h-1ZM327 388.5h1v1.4h-1ZM327 395.9h1v1.7h-1ZM327 402.1h1v1.6h-1ZM328 84.1h1v3.1h-1ZM328 88.5h1v1.1h-1ZM328 95.6h1v1.2h-1ZM328 104.1h1v2.6h-1ZM328 116.2h1v3.5h-1ZM328 126.3h1v3.5h-1ZM328 134.9h1v1.9h-1ZM328 137.4h1v3.1h-1ZM328 147.3h1v2.9h-1ZM328 155.4h1v2.4h-1ZM328 167.1h1v2.1h-1ZM328 170.6h1v3.9h-1ZM328 182.2h1v3.7h-1ZM328 195.9h1v2.3h-1ZM328 199.8h1v2.5h-1ZM328 207.2h1v2.2h-1ZM328 217.4h1v1.8h-1ZM328 229h1v1.6h-1ZM328 233.5h1v3.5h-1ZM328 239.4h1v3.2h-1ZM328 245.3h1v2.2h-1ZM328 252.3h1v1.7h-1ZM328 262.4h1v3.8h-1ZM328 275.6h1v1.5h-1ZM328 277.4h1v2.3h-1ZM328 287.2h1v2.6h-1ZM328 299.6h1v4h-1ZM328 310.5h1v1.8h-1ZM328 316.4h1v1.2h-1ZM328 321.5h1v3.3h-1ZM328 328h1v1.6h-1ZM328 335h1v3.7h-1ZM328 345.3h1v1.3h-1ZM328 351h1v1.7h-1ZM328 360.9h1v2.3h-1ZM328 367.7h1v3.6h-1ZM328 374.3h1v2.3h-1ZM328 386.6h1v1.9h-1ZM328 394h1v2.9h-1ZM328 400.4h1v2.9h-1ZM328 407.5h1v3.5h-1ZM329 84h1v2.7h-1ZM329 93.8h1v2.2h-1ZM329 97.5h1v2.1h-1ZM329 102.9h1v1h-1ZM329 111.7h1v2.6h-1ZM329 119.2h1v3.1h-1ZM329 123h1v1.4h-1ZM329 131.6h1v1.1h-1ZM329 141.6h1v2.5h-1ZM329 153.9h1v3.6h-1ZM329 161.6h1v2h-1ZM329 168.1h1v3.3h-1ZM329 176.1h1v3.2h-1ZM329 189.3h1v3.2h-1ZM329 197.8h1v3.2h-1ZM329 206h1v2.7h-1ZM329 213h1v3.8h-1ZM329 226.8h1v2.7h-1ZM329 235.2h1v1.3h-1ZM329 242.3h1v3.8h-1ZM329 248.5h1v3.3h-1ZM329 254.4h1v3.1h-1ZM329 260.4h1v2.8h-1ZM329 271.1h1v1.1h-1ZM329 280.7h1v2.6h-1ZM329 285.8h1v1.9h-1ZM329 293.3h1v3.2h-1ZM329 298.3h1v1.2h-1ZM329 301.9h1v2.9h-1ZM329 308.9h1v3.3h-1ZM329 319.6h1v2.1h-1ZM329 327.6h1v1.4h-1ZM329 335.3h1v2.9h-1ZM329 340.6h1v3h-1ZM329 345h1v3.9h-1ZM329 354.5h1v3.8h-1ZM329 365.1h1v1.6h-1ZM329 374.1h1v2.8h-1ZM329 380.8h1v3.1h-1ZM329 391.6h1v3h-1ZM329 396.9h1v3.9h-1ZM329 410h1v2.3h-1ZM330 85.4h1v2h-1ZM330 89.3h1v1.7h-1ZM330 96h1v1.4h-1ZM330 99.9h1v3.2h-1ZM330 103.3h1v2.8h-1ZM330 110.2h1v3.1h-1ZM330 116h1v2.4h-1ZM330 120.6h1v1h-1ZM330 130.4h1v2.1h-1ZM330 135.5h1v3.8h-1ZM330 143.1h1v2.6h-1ZM330 147.1h1v2.2h-1ZM330 158.3h1v3.5h-1ZM330 170h1v3.7h-1ZM330 176.1h1v1.2h-1ZM330 178.6h1v3h-1ZM330 187.1h1v2.1h-1ZM330 196.4h1v1.7h-1ZM330 204.3h1v2.3h-1ZM330 207.9h1v3.3h-1ZM330 213.1h1v3.4h-1ZM330 224.2h1v2.3h-1ZM330 231.2h1v1.6h-1ZM330 234.2h1v3.1h-1ZM330 241h1v2.7h-1ZM330 247.5h1v1.8h-1ZM330 250.9h1v3.3h-1ZM330 258.6h1v1.5h-1ZM330 268.9h1v1.5h-1ZM330 272.7h1v1.5h-1ZM330 279.9h1v3.3h-1ZM330 283.5h1v3.8h-1ZM330 294.4h1v3.5h-1ZM330 302.2h1v2.3h-1ZM330 305.5h1v1.8h-1ZM330 316.1h1v1.9h-1ZM330 327.1h1v3.5h-1ZM330 339.9h1v1.4h-1ZM330 345.7h1v3.5h-1ZM330 352.3h1v1.7h-1ZM330 354.3h1v2.6h-1ZM330 362.4h1v1.6h-1ZM330 366.7h1v2.9h-1ZM330 371.4h1v3.4h-1ZM330 383.6h1v2.3h-1ZM330 387.2h1v2.7h-1ZM330 392.9h1v1.3h-1ZM330 401.4h1v2.7h-1ZM330 406.8h1v1.7h-1ZM331 85h1v2.1h-1ZM331 93h1v1.7h-1ZM331 99.4h1v2.7h-1ZM331 105.2h1v2.8h-1ZM331 113.5h1v1.1h-1ZM331 115.9h1v2.2h-1ZM331 119.6h1v2.6h-1ZM331 128.3h1v2.9h-1ZM331 140.1h1v2.8h-1ZM331 150.8h1v1.3h-1ZM331 161h1v3.8h-1ZM331 170.8h1v3.5h-1ZM331 179.8h1v2.3h-1ZM331 183.8h1v2.4h-1ZM331 193.5h1v3.4h-1ZM331 205.9h1v2.6h-1ZM331 218.1h1v2.1h-1ZM331 220.4h1v2.3h-1ZM331 228.1h1v3.3h-1ZM331 233.8h1v1.1h-1ZM331 242.2h1v1.6h-1ZM331 252.5h1v2.7h-1ZM331 256.5h1v2.6h-1ZM331 266.9h1v1.7h-1ZM331 278.3h1v1.2h-1ZM331 281h1v2.8h-1ZM331 290.6h1v2.8h-1ZM331 302.8h1v1.6h-1ZM331 304.9h1v2.6h-1ZM331 311.1h1v2.2h-1ZM331 317.3h1v3.6h-1ZM331 323.8h1v3.1h-1ZM331 332.7h1v1.9h-1ZM331 343.8h1v1.8h-1ZM331 348.6h1v1.6h-1ZM331 357.3h1v3.1h-1ZM331 364.1h1v1.4h-1ZM331 371.5h1v2h-1ZM331 379.1h1v3h-1ZM331 382h1v1.1h-1ZM331 391.5h1v3.6h-1ZM331 396h1v1.7h-1ZM331 402h1v3.5h-1ZM331 408.6h1v3.9h-1ZM332 84.9h1v1.2h-1ZM332 92.2h1v3.9h-1ZM332 103.4h1v3.7h-1ZM332 110.8h1v3.9h-1ZM332 123.8h1v1.8h-1ZM332 133.5h1v3.8h-1ZM332 139.4h1v2.2h-1ZM332 149.4h1v2.7h-1ZM332 161.4h1v2.3h-1ZM332 168.3h1v1.5h-1ZM332 172.5h1v3.6h-1ZM332 178.8h1v3.7h-1ZM332 190.7h1v2.7h-1ZM332 196.4h1v1h-1ZM332 198.6h1v3.5h-1ZM332 211.9h1v3.9h-1ZM332 218.6h1v3.8h-1ZM332 226.9h1v2.1h-1ZM332 238.2h1v3.5h-1ZM332 248.5h1v1.9h-1ZM332 251.5h1v1.5h-1ZM332 255.7h1v1.6h-1ZM332 263.1h1v1.9h-1ZM332 267.2h1v3.6h-1ZM332 274.6h1v1h-1ZM332 275.7h1v2.7h-1ZM332 278.6h1v2.7h-1ZM332 281.6h1v2.4h-1ZM332 290.3h1v2.6h-1ZM332 295.1h1v3.5h-1ZM332 308.5h1v3.4h-1ZM332 321.4h1v3.9h-1ZM332 329h1v2.6h-1ZM332 335.8h1v3.4h-1ZM332 340.9h1v1.7h-1ZM332 347.2h1v2.6h-1ZM332 359.9h1v2h-1ZM332 361.9h1v2.2h-1ZM332 373h1v1.3h-1ZM332 379.5h1v2.8h-1ZM332 390.8h1v2h-1ZM332 399h1v3.9h-1ZM333 83.2h1v2h-1ZM333 91.8h1v3.2h-1ZM333 101.9h1v3h-1ZM333 108.9h1v3.1h-1ZM333 115.6h1v1.7h-1ZM333 118.3h1v2.7h-1ZM333 122.7h1v1.8h-1ZM333 127.6h1v2.1h-1ZM333 133.9h1v3.9h-1ZM333 143.2h1v2.6h-1ZM333 149.9h1v2.6h-1ZM333 160.8h1v2.6h-1ZM333 168.6h1v2.1h-1ZM333 172.5h1v1.6h-1ZM333 175h1v1.9h-1ZM333 177.3h1v2.2h-1ZM333 185.4h1v1.3h-1ZM333 194.4h1v2.4h-1ZM333 203.1h1v2.3h-1ZM333 213.4h1v3h-1ZM333 217.7h1v2.6h-1ZM333 223h1v3.2h-1ZM333 230h1v1.7h-1ZM333 232h1v4h-1ZM333 237.2h1v1.8h-1ZM333 248.4h1v1.2h-1ZM333 253.7h1v2.3h-1ZM333 262.9h1v3.3h-1ZM333 276.2h1v2h-1ZM333 279h1v1.6h-1ZM333 280.7h1v1.8h-1ZM333 288.8h1v3.7h-1ZM333 293.5h1v1.8h-1ZM333 304.3h1v2.8h-1ZM333 311.1h1v1.2h-1ZM333 312.9h1v1.7h-1ZM333 320.8h1v1.2h-1ZM333 327.1h1v3.5h-1ZM333 330.6h1v1.9h-1ZM333 336.6h1v2.8h-1ZM333 346.9h1v3h-1ZM333 354.4h1v2h-1ZM333 362.7h1v2.4h-1ZM333 374.6h1v2.6h-1ZM333 383.1h1v3h-1ZM333 391h1v2.5h-1ZM333 400.2h1v2.8h-1ZM334 81.9h1v2.5h-1ZM334 94.3h1v3.4h-1ZM334 103.4h1v1.9h-1ZM334 107.1h1v2.2h-1ZM334 113.7h1v2.3h-1ZM334 118.6h1v2.4h-1ZM334 126.8h1v1.3h-1ZM334 134.8h1v3.1h-1ZM334 139.9h1v1.7h-1ZM334 142.1h1v2.4h-1ZM334 151.3h1v2.2h-1ZM334 159.6h1v2.8h-1ZM334 162.8h1v1.2h-1ZM334 169.1h1v3.8h-1ZM334 180.1h1v2.3h-1ZM334 185h1v1.4h-1ZM334 193h1v3.3h-1ZM334 200.3h1v1.3h-1ZM334 204.4h1v3.1h-1ZM334 215.3h1v2.2h-1ZM334 226.5h1v2.2h-1ZM334 228.9h1v1.6h-1ZM334 239.6h1v3.1h-1ZM334 243.6h1v1.9h-1ZM334 249.4h1v2.4h-1ZM334 252.1h1v3.8h-1ZM334 261.3h1v1.8h-1ZM334 263.4h1v2.7h-1ZM334 275.6h1v3.2h-1ZM334 287.5h1v3.6h-1ZM334 297.8h1v1.2h-1ZM334 302.2h1v2.7h-1ZM334 309.1h1v1.7h-1ZM334 311.5h1v3.6h-1ZM334 321.8h1v1.9h-1ZM334 328.5h1v3.6h-1ZM334 333.6h1v2.9h-1ZM334 338.8h1v3.7h-1ZM334 350.7h1v3.8h-1ZM334 358.4h1v2.5h-1ZM334 364.2h1v2.1h-1ZM334 375.9h1v3.9h-1ZM334 389.9h1v3.7h-1ZM334 398.6h1v3h-1ZM335 82.6h1v3.8h-1ZM335 88.5h1v1.9h-1ZM335 91.3h1v3.1h-1ZM335 94.8h1v1.8h-1ZM335 97.1h1v1.3h-1ZM335 100.8h1v4h-1ZM335 107h1v2.5h-1ZM335 111.6h1v3.1h-1ZM335 115.8h1v2.6h-1ZM335 118.7h1v1.7h-1ZM335 121.4h1v2.1h-1ZM335 125.2h1v1.7h-1ZM335 127.6h1v3.6h-1ZM335 133.3h1v3.8h-1ZM335 139.2h1v1.6h-1ZM335 142.1h1v3.5h-1ZM335 147.8h1v1.7h-1ZM335 150.8h1v2.8h-1ZM335 153.6h1v1.7h-1ZM335 157.3h1v3h-1ZM335 161.5h1v2.7h-1ZM335 165.6h1v2h-1ZM335 167.9h1v3.2h-1ZM335 173.2h1v2.3h-1ZM335 177.6h1v3.5h-1ZM335 182.9h1v3.4h-1ZM335 188.9h1v1.1h-1ZM335 192.6h1v2.4h-1ZM335 197.1h1v3.2h-1ZM335 200.5h1v2.8h-1ZM335 203.5h1v3.2h-1ZM335 207.6h1v2.1h-1ZM335 210.5h1v3.4h-1ZM335 215.7h1v1.9h-1ZM335 219.5h1v1.6h-1ZM335 223.3h1v2.8h-1ZM335 228.1h1v2.8h-1ZM335 233.6h1v3.1h-1ZM335 238h1v2.8h-1ZM335 242.3h1v1.9h-1ZM335 244.9h1v3.4h-1ZM335 250.5h1v3.9h-1ZM335 256.3h1v2.5h-1ZM335 259.9h1v3.1h-1ZM335 264.7h1v3.8h-1ZM335 270.6h1v2.2h-1ZM335 273.5h1v1.1h-1ZM335 276.7h1v2.3h-1ZM335 280.1h1v1.2h-1ZM335 282.5h1v3.7h-1ZM335 287h1v3.2h-1ZM335 292.3h1v3h-1ZM335 296.8h1v1.7h-1ZM335 300.4h1v2.8h-1ZM335 305.8h1v2.5h-1ZM335 309.3h1v3.7h-1ZM335 314.7h1v2h-1ZM335 318.4h1v1.5h-1ZM335 320.4h1v3.7h-1ZM335 325.3h1v3.4h-1ZM335 329.3h1v2.4h-1ZM335 332.3h1v3.4h-1ZM335 337.4h1v2.2h-1ZM335 340.6h1v1.6h-1ZM335 342.8h1v3.1h-1ZM335 346.7h1v1.3h-1ZM335 349h1v2.4h-1ZM335 354.1h1v2.2h-1ZM335 357.3h1v3.9h-1ZM335 363.2h1v2.4h-1ZM335 366.6h1v1.7h-1ZM335 368.7h1v2.4h-1ZM335 372.8h1v1.3h-1ZM335 375.4h1v1.5h-1ZM335 378.6h1v2h-1ZM335 382.4h1v3.3h-1ZM335 386.8h1v2.1h-1ZM335 389.2h1v1.6h-1ZM335 392.5h1v3.4h-1ZM335 396.3h1v3.9h-1ZM335 402.7h1v2.1h-1ZM335 406.2h1v3h-1ZM335 410.1h1v2.1h-1ZM336 82.8h1v2.3h-1ZM336 86.6h1v1.3h-1ZM336 89.3h1v1.9h-1ZM336 91.6h1v2.6h-1ZM336 96.1h1v2.6h-1ZM336 100h1v3h-1ZM336 104.1h1v3.9h-1ZM336 108.6h1v1h-1ZM336 111.2h1v3.1h-1ZM336 115.3h1v2.2h-1ZM336 118.4h1v1.7h-1ZM336 122.3h1v3.6h-1ZM336 126.6h1v2.7h-1ZM336 130.6h1v1.4h-1ZM336 133.9h1v2.6h-1ZM336 139.2h1v3.7h-1ZM336 145.4h1v1.8h-1ZM336 147.4h1v3.4h-1ZM336 151.2h1v3.1h-1ZM336 154.7h1v3.1h-1ZM336 158h1v1.3h-1ZM336 161.6h1v2.5h-1ZM336 165.3h1v3.9h-1ZM336 171.4h1v1.7h-1ZM336 174.9h1v2.2h-1ZM336 178.3h1v1.9h-1ZM336 180.9h1v1.9h-1ZM336 183.5h1v1.6h-1ZM336 187.4h1v2.1h-1ZM336 191.1h1v3.4h-1ZM336 196.4h1v1.5h-1ZM336 200.4h1v3.8h-1ZM336 206.4h1v2h-1ZM336 210.7h1v2.9h-1ZM336 213.7h1v2.1h-1ZM336 217.7h1v2.6h-1ZM336 222.9h1v3.4h-1ZM336 228.5h1v3.9h-1ZM336 233.4h1v3.7h-1ZM336 237.1h1v3.4h-1ZM336 240.7h1v2.5h-1ZM336 244.4h1v1.2h-1ZM336 247.3h1v3.4h-1ZM336 251.3h1v1.7h-1ZM336 255.1h1v2.6h-1ZM336 257.7h1v1.9h-1ZM336 262.2h1v1.8h-1ZM336 264.8h1v2.4h-1ZM336 269.6h1v3.4h-1ZM336 274h1v3h-1ZM336 277.1h1v1.2h-1ZM336 279.3h1v2.9h-1ZM336 282.6h1v1.1h-1ZM336 286h1v1.6h-1ZM336 287.7h1v1.3h-1ZM336 289.2h1v1.9h-1ZM336 292.6h1v3h-1ZM336 296.3h1v2.5h-1ZM336 299.8h1v2.7h-1ZM336 302.8h1v2.9h-1ZM336 305.7h1v3.8h-1ZM336 310h1v2.7h-1ZM336 313.2h1v2.3h-1ZM336 316.2h1v2.9h-1ZM336 321.2h1v3.5h-1ZM336 327.4h1v2.4h-1ZM336 331.2h1v2.1h-1ZM336 334.1h1v2.5h-1ZM336 339.2h1v1.2h-1ZM336 342.4h1v2h-1ZM336 346h1v1.8h-1ZM336 349.7h1v2.5h-1ZM336 353h1v2.3h-1ZM336 355.4h1v1.3h-1ZM336 359.1h1v1.2h-1ZM336 361.4h1v3h-1ZM336 364.6h1v3.8h-1ZM336 368.9h1v3.9h-1ZM336 374h1v2.8h-1ZM336 378.3h1v1.3h-1ZM336 381h1v3.2h-1ZM336 386.3h1v3.2h-1ZM336 391.4h1v1.4h-1ZM336 393.9h1v2.5h-1ZM336 396.5h1v3.3h-1ZM336 400.1h1v2.7h-1ZM336 403.5h1v1.5h-1ZM336 407.5h1v2.9h-1ZM337 83.4h1v2.7h-1ZM337 88.5h1v1.2h-1ZM337 90.7h1v1.7h-1ZM337 93.9h1v2.2h-1ZM337 98.6h1v1.7h-1ZM337 101h1v3.8h-1ZM337 106.7h1v2.3h-1ZM337 110h1v3.2h-1ZM337 113.6h1v3.2h-1ZM337 117.4h1v3.4h-1ZM337 121h1v3.7h-1ZM337 127.1h1v1.1h-1ZM337 128.6h1v3.7h-1ZM337 134.5h1v1.9h-1ZM337 138.6h1v2.7h-1ZM337 142h1v3.1h-1ZM337 146.1h1v1.4h-1ZM337 149.9h1v3.2h-1ZM337 153.7h1v2.3h-1ZM337 157.8h1v2.1h-1ZM337 160.6h1v2.6h-1ZM337 165.7h1v1.3h-1ZM337 167.7h1v2.4h-1ZM337 172.8h1v4h-1ZM337 176.8h1v2.9h-1ZM337 180.1h1v1.6h-1ZM337 182.1h1v2.5h-1ZM337 187.3h1v3.9h-1ZM337 192.1h1v3.7h-1ZM337 197.7h1v1.2h-1ZM337 201.3h1v1.8h-1ZM337 205.8h1v1.4h-1ZM337 209.6h1v2.5h-1ZM337 213.5h1v1.5h-1ZM337 216.4h1v3.3h-1ZM337 221.2h1v3.9h-1ZM337 226.6h1v3.7h-1ZM337 230.6h1v3.2h-1ZM337 235.5h1v3.6h-1ZM337 240h1v2.4h-1ZM337 244.6h1v1.8h-1ZM337 247.4h1v3.5h-1ZM337 252.6h1v2.5h-1ZM337 255.2h1v3.3h-1ZM337 259.6h1v1.7h-1ZM337 262.3h1v1.4h-1ZM337 266h1v3.4h-1ZM337 272h1v3h-1ZM337 275.4h1v2.3h-1ZM337 280.4h1v1h-1ZM337 282.3h1v1.4h-1ZM337 284.2h1v1.8h-1ZM337 287.7h1v1.2h-1ZM337 291.2h1v2.3h-1ZM337 294h1v1.3h-1ZM337 296.7h1v2h-1ZM337 300.1h1v1.3h-1ZM337 302.4h1v2.5h-1ZM337 305.1h1v2.5h-1ZM337 309.9h1v2.8h-1ZM337 313h1v2.9h-1ZM337 316.1h1v1.4h-1ZM337 317.6h1v2.6h-1ZM337 320.7h1v1.8h-1ZM337 322.8h1v3.7h-1ZM337 326.9h1v3h-1ZM337 332.1h1v2.3h-1ZM337 336h1v2h-1ZM337 340.2h1v3.1h-1ZM337 343.5h1v3.1h-1ZM337 347h1v2.4h-1ZM337 349.9h1v2.5h-1ZM337 354.1h1v3.2h-1ZM337 358.2h1v1.2h-1ZM337 360.6h1v3.7h-1ZM337 365.8h1v2.9h-1ZM337 370.7h1v2.9h-1ZM337 376.2h1v3.9h-1ZM337 382h1v3.4h-1ZM337 385.9h1v1.8h-1ZM337 389.6h1v2.7h-1ZM337 394.6h1v3.3h-1ZM337 398.8h1v1.5h-1ZM337 402.1h1v1.3h-1ZM337 404.8h1v1.8h-1ZM337 407.7h1v3h-1ZM338 83.5h1v1.2h-1ZM338 87.1h1v3.1h-1ZM338 92.6h1v2.8h-1ZM338 97.2h1v3.7h-1ZM338 102.9h1v2.9h-1ZM338 105.9h1v1.1h-1ZM338 108.9h1v3.5h-1ZM338 113.5h1v1.6h-1ZM338 116.3h1v3.5h-1ZM338 121.9h1v1.4h-1ZM338 123.8h1v1.6h-1ZM338 127.4h1v1.8h-1ZM338 131.6h1v2.2h-1ZM338 134.3h1v2.2h-1ZM338 136.9h1v3.6h-1ZM338 140.6h1v2.3h-1ZM338 143.9h1v1.1h-1ZM338 145.6h1v4h-1ZM338 151.9h1v2.3h-1ZM338 156.5h1v3.7h-1ZM338 162.6h1v3.2h-1ZM338 167.3h1v2.5h-1ZM338 171.7h1v2.8h-1ZM338 177.1h1v1.5h-1ZM338 181.1h1v3.3h-1ZM338 185.6h1v3.5h-1ZM338 189.9h1v2.2h-1ZM338 193.6h1v3.9h-1ZM338 198.2h1v3.5h-1ZM338 203.5h1v3.8h-1ZM338 208h1v3h-1ZM338 213.4h1v3.7h-1ZM338 219h1v3.5h-1ZM338 224.2h1v2.7h-1ZM338 227.4h1v2.6h-1ZM338 232.5h1v3.8h-1ZM338 236.5h1v1.9h-1ZM338 239.1h1v3.5h-1ZM338 243.1h1v3.3h-1ZM338 246.9h1v2h-1ZM338 251.5h1v1.4h-1ZM338 254.5h1v1.8h-1ZM338 258.3h1v1.2h-1ZM338 261.4h1v1.8h-1ZM338 265.7h1v2h-1ZM338 269.5h1v1.1h-1ZM338 273.1h1v2.9h-1ZM338 278.5h1v3.2h-1ZM338 281.9h1v3.2h-1ZM338 286.1h1v1.6h-1ZM338 290.1h1v3h-1ZM338 294.1h1v1.2h-1ZM338 297h1v1.2h-1ZM338 298.8h1v1.1h-1ZM338 300.5h1v3.2h-1ZM338 304.4h1v4h-1ZM338 309.1h1v3.4h-1ZM338 314.5h1v2.9h-1ZM338 319.1h1v1.4h-1ZM338 322.7h1v3.8h-1ZM338 327.9h1v1.6h-1ZM338 329.7h1v1.8h-1ZM338 334.1h1v2h-1ZM338 336.8h1v2.6h-1ZM338 339.5h1v3.4h-1ZM338 344.9h1v1.9h-1ZM338 346.9h1v3.7h-1ZM338 352.8h1v3.3h-1ZM338 356.7h1v3.9h-1ZM338 362.3h1v1.1h-1ZM338 366h1v3.1h-1ZM338 369.6h1v3.7h-1ZM338 374.9h1v2.9h-1ZM338 377.9h1v1.6h-1ZM338 381.6h1v1h-1ZM338 383.2h1v1.2h-1ZM338 386h1v1.4h-1ZM338 389.5h1v2.4h-1ZM338 394h1v3.7h-1ZM338 400.3h1v1.6h-1ZM338 402.9h1v3.4h-1ZM338 407.1h1v3.8h-1ZM177.9 82.4h4.3v1.8h-4.3ZM183.1 82.4h5.1v1.8h-5.1ZM189.9 82.4h3.7v1.8h-3.7ZM194.5 82.4h1v1.8h-1ZM176.7 86.1h5.5v1.8h-5.5ZM183.2 86.1h6v1.8h-6ZM190.9 86.1h4.1v1.8h-4.1ZM178 89.3h5v1.8h-5ZM183.7 89.3h6.3v1.8h-6.3ZM191.4 89.3h4.1v1.8h-4.1ZM177.8 93h5.7v1.8h-5.7ZM184.3 93h3.4v1.8h-3.4ZM188.8 93h4.5v1.8h-4.5ZM178.7 96.3h7.2v1.8h-7.2ZM187.2 96.3h4v1.8h-4ZM192.1 96.3h3.4v1.8h-3.4ZM178.6 100h7.3v1.8h-7.3ZM186.4 100h7.3v1.8h-7.3ZM194.8 100h0.7v1.8h-0.7ZM183.5 103.2h4.1v1.8h-4.1ZM188.5 103.2h5.4v1.8h-5.4ZM194.8 103.2h0.7v1.8h-0.7ZM177.6 106.4h7.1v1.8h-7.1ZM185.7 106.4h7.6v1.8h-7.6ZM177.5 109.7h5.3v1.8h-5.3ZM184.1 109.7h5.8v1.8h-5.8ZM191.7 109.7h3.8v1.8h-3.8ZM176.3 112.9h7.9v1.8h-7.9ZM185.9 112.9h5.3v1.8h-5.3ZM192 112.9h3.5v1.8h-3.5ZM178.6 116.6h8v1.8h-8ZM187.7 116.6h7.1v1.8h-7.1ZM176.9 120h4.3v1.8h-4.3ZM182.2 120h6.1v1.8h-6.1ZM189 120h6.5v1.8h-6.5ZM176.5 123.5h5.5v1.8h-5.5ZM183.7 123.5h6v1.8h-6ZM190.4 123.5h3.3v1.8h-3.3ZM194.2 123.5h1.3v1.8h-1.3ZM178.6 127.1h7.6v1.8h-7.6ZM187.1 127.1h3.6v1.8h-3.6ZM191.4 127.1h4.1v1.8h-4.1ZM178.7 130.3h4.2v1.8h-4.2ZM183.8 130.3h4.4v1.8h-4.4ZM189.4 130.3h4.4v1.8h-4.4ZM176.4 133.5h5.6v1.8h-5.6ZM183.1 133.5h4.8v1.8h-4.8ZM188.7 133.5h6.6v1.8h-6.6ZM182.8 137.1h5.3v1.8h-5.3ZM189.2 137.1h6.3v1.8h-6.3ZM177.8 140.2h4.4v1.8h-4.4ZM183.1 140.2h5v1.8h-5ZM189.2 140.2h6.3v1.8h-6.3ZM178.4 143.6h5v1.8h-5ZM185.2 143.6h6.2v1.8h-6.2ZM183.3 147.4h7.4v1.8h-7.4ZM191.9 147.4h3.6v1.8h-3.6ZM176.9 150.6h5.1v1.8h-5.1ZM183.2 150.6h3.2v1.8h-3.2ZM187.6 150.6h3.3v1.8h-3.3ZM176.1 154.1h3.3v1.8h-3.3ZM181.1 154.1h4.7v1.8h-4.7ZM187.4 154.1h5.7v1.8h-5.7ZM193.8 154.1h1.7v1.8h-1.7ZM176.2 157.8h7.2v1.8h-7.2ZM184.5 157.8h4.7v1.8h-4.7ZM190.4 157.8h3.4v1.8h-3.4ZM194.5 157.8h1v1.8h-1ZM181 161.2h7.9v1.8h-7.9ZM190.8 161.2h4.7v1.8h-4.7ZM178.4 164.4h6.3v1.8h-6.3ZM192.5 164.4h3v1.8h-3ZM178.1 167.7h7.6v1.8h-7.6ZM186.6 167.7h3.7v1.8h-3.7ZM191.2 167.7h4.3v1.8h-4.3ZM176.8 170.9h5.1v1.8h-5.1ZM182.5 170.9h3.5v1.8h-3.5ZM187.4 170.9h3.2v1.8h-3.2ZM192.5 170.9h3v1.8h-3ZM177 174.3h3.3v1.8h-3.3ZM180.9 174.3h4v1.8h-4ZM185.6 174.3h6.1v1.8h-6.1ZM193 174.3h2.5v1.8h-2.5ZM177.3 178h4.1v1.8h-4.1ZM182.9 178h4.8v1.8h-4.8ZM193.5 178h2v1.8h-2ZM178.7 181.2h4.2v1.8h-4.2ZM184.7 181.2h5.3v1.8h-5.3ZM188.8 184.5h6.7v1.8h-6.7ZM179 187.8h7.7v1.8h-7.7ZM187.9 187.8h7.1v1.8h-7.1ZM183.7 191.1h7.4v1.8h-7.4ZM192.3 191.1h3.2v1.8h-3.2ZM177.3 194.8h6.4v1.8h-6.4ZM184.9 194.8h5.6v1.8h-5.6ZM192.4 194.8h3.1v1.8h-3.1ZM178.6 198.3h4.2v1.8h-4.2ZM183.6 198.3h7v1.8h-7ZM191.2 198.3h3.5v1.8h-3.5ZM177 201.9h3.4v1.8h-3.4ZM181.9 201.9h5.2v1.8h-5.2ZM188 201.9h4.2v1.8h-4.2ZM193.3 201.9h2.2v1.8h-2.2ZM186.1 205.2h4.3v1.8h-4.3ZM191.1 205.2h4.4v1.8h-4.4ZM176.4 208.7h4.9v1.8h-4.9ZM182.2 208.7h5.9v1.8h-5.9ZM194.7 208.7h0.8v1.8h-0.8ZM183.8 212.4h3.2v1.8h-3.2ZM188.7 212.4h3.9v1.8h-3.9ZM194.1 212.4h1.4v1.8h-1.4ZM177.4 216.1h5v1.8h-5ZM192.3 216.1h3.2v1.8h-3.2ZM188.5 219.4h6.8v1.8h-6.8ZM176 222.5h3.3v1.8h-3.3ZM180.2 222.5h7.3v1.8h-7.3ZM189.3 222.5h5.4v1.8h-5.4ZM187 225.6h3.5v1.8h-3.5ZM192.3 225.6h3.2v1.8h-3.2ZM185.4 228.8h6.5v1.8h-6.5ZM176.6 232h6.3v1.8h-6.3ZM184 232h3.7v1.8h-3.7ZM189 232h5.7v1.8h-5.7ZM176.2 235.3h5.8v1.8h-5.8ZM183 235.3h7.8v1.8h-7.8ZM192.3 235.3h3.2v1.8h-3.2ZM176.3 239.1h7.2v1.8h-7.2ZM191.3 239.1h4v1.8h-4ZM179 242.5h3.1v1.8h-3.1ZM182.9 242.5h3.8v1.8h-3.8ZM188.7 242.5h5.3v1.8h-5.3ZM178.9 246.2h4.7v1.8h-4.7ZM192.2 246.2h3.3v1.8h-3.3ZM177.1 249.4h5.1v1.8h-5.1ZM184.1 249.4h5.1v1.8h-5.1ZM190.3 249.4h4.9v1.8h-4.9ZM178.2 252.7h7v1.8h-7ZM186.3 252.7h5.1v1.8h-5.1ZM192.2 252.7h3.3v1.8h-3.3ZM177.5 256.2h4.5v1.8h-4.5ZM191.5 256.2h4v1.8h-4ZM177.4 259.4h3.1v1.8h-3.1ZM181.7 259.4h3.1v1.8h-3.1ZM186 259.4h5.4v1.8h-5.4ZM192 259.4h3.5v1.8h-3.5ZM176.7 262.9h5.7v1.8h-5.7ZM182.8 262.9h5.5v1.8h-5.5ZM190.2 262.9h5.3v1.8h-5.3ZM178.4 266.1h6.8v1.8h-6.8ZM191.4 266.1h4.1v1.8h-4.1ZM180.1 269.6h5.1v1.8h-5.1ZM193.5 269.6h2v1.8h-2ZM177.7 273.2h5.9v1.8h-5.9ZM185.6 273.2h3.1v1.8h-3.1ZM190.2 273.2h5.3v1.8h-5.3ZM177.4 276.9h5.9v1.8h-5.9ZM193 276.9h2.5v1.8h-2.5ZM189.5 280.2h6v1.8h-6ZM176.3 283.6h8v1.8h-8ZM185.8 283.6h5.7v1.8h-5.7ZM193.4 283.6h2.1v1.8h-2.1ZM177 286.8h3.2v1.8h-3.2ZM181.4 286.8h5v1.8h-5ZM187.1 286.8h4v1.8h-4ZM192.6 286.8h2.9v1.8h-2.9ZM177.1 290.1h7v1.8h-7ZM185.1 290.1h6.7v1.8h-6.7ZM177.4 293.4h4.1v1.8h-4.1ZM183.3 293.4h6.6v1.8h-6.6ZM191.6 293.4h3.9v1.8h-3.9ZM179 296.7h7v1.8h-7ZM187.5 296.7h4.5v1.8h-4.5ZM193.3 296.7h2.2v1.8h-2.2ZM176.8 300.2h4.1v1.8h-4.1ZM182.1 300.2h7.5v1.8h-7.5ZM190.8 300.2h4.7v1.8h-4.7ZM177.6 303.5h4v1.8h-4ZM182.9 303.5h7.7v1.8h-7.7ZM191.6 303.5h3.2v1.8h-3.2ZM177.4 306.7h6.1v1.8h-6.1ZM185.1 306.7h6.2v1.8h-6.2ZM191.8 306.7h3.7v1.8h-3.7ZM177 310h6.6v1.8h-6.6ZM184.9 310h4.1v1.8h-4.1ZM190.3 310h3v1.8h-3ZM176.8 313.4h6.5v1.8h-6.5ZM184.3 313.4h3.6v1.8h-3.6ZM189.5 313.4h6v1.8h-6ZM185.3 316.9h4.3v1.8h-4.3ZM191.2 316.9h4.3v1.8h-4.3ZM178.3 320.7h6.3v1.8h-6.3ZM186.5 320.7h6v1.8h-6ZM193.5 320.7h2v1.8h-2ZM176.7 324.5h7.5v1.8h-7.5ZM184.9 324.5h5.9v1.8h-5.9ZM192.8 324.5h2.7v1.8h-2.7ZM177.5 327.6h5.6v1.8h-5.6ZM184.6 327.6h5.2v1.8h-5.2ZM191.4 327.6h4.1v1.8h-4.1ZM176.1 330.9h7.8v1.8h-7.8ZM185.6 330.9h8v1.8h-8ZM178.1 334h7v1.8h-7ZM186.9 334h6.8v1.8h-6.8ZM194.7 334h0.8v1.8h-0.8ZM176.6 337.5h5.7v1.8h-5.7ZM183.2 337.5h6.3v1.8h-6.3ZM178.8 341.2h7.8v1.8h-7.8ZM193 341.2h2.5v1.8h-2.5ZM178.8 344.6h6.9v1.8h-6.9ZM187.5 344.6h3.1v1.8h-3.1ZM177.9 348.4h6.1v1.8h-6.1ZM185.2 348.4h7.5v1.8h-7.5ZM194.2 348.4h1.3v1.8h-1.3ZM176.6 351.6h3.5v1.8h-3.5ZM181.6 351.6h8v1.8h-8ZM191.4 351.6h4v1.8h-4ZM176.7 355.3h4.5v1.8h-4.5ZM182 355.3h4.3v1.8h-4.3ZM188 355.3h7.5v1.8h-7.5ZM185.1 358.8h7.8v1.8h-7.8ZM194 358.8h1.5v1.8h-1.5ZM177.3 361.9h3.6v1.8h-3.6ZM182.7 361.9h7.6v1.8h-7.6ZM191.7 361.9h3.8v1.8h-3.8ZM177.3 365.3h5.8v1.8h-5.8ZM184.5 365.3h6.1v1.8h-6.1ZM178.2 368.8h5.3v1.8h-5.3ZM184.6 368.8h5.8v1.8h-5.8ZM191.7 368.8h3.8v1.8h-3.8ZM177.3 372.4h5.2v1.8h-5.2ZM190.4 372.4h5.1v1.8h-5.1ZM177.2 375.9h3.1v1.8h-3.1ZM189.2 375.9h6.3v1.8h-6.3ZM178.7 379.1h5.4v1.8h-5.4ZM192 379.1h3.3v1.8h-3.3ZM179 382.4h5.6v1.8h-5.6ZM185.7 382.4h4.1v1.8h-4.1ZM190.5 382.4h5v1.8h-5ZM178.9 385.6h7.4v1.8h-7.4ZM176 389h5.9v1.8h-5.9ZM188.8 389h6.7v1.8h-6.7ZM177.1 392.5h4.3v1.8h-4.3ZM182 392.5h4.5v1.8h-4.5ZM188.3 392.5h3v1.8h-3ZM192.6 392.5h2.9v1.8h-2.9ZM176.5 396.1h7.4v1.8h-7.4ZM184.5 396.1h3.8v1.8h-3.8ZM194.6 396.1h0.9v1.8h-0.9ZM178.6 399.2h4.6v1.8h-4.6ZM191.8 399.2h3.7v1.8h-3.7ZM177 402.6h4.3v1.8h-4.3ZM181.9 402.6h4.9v1.8h-4.9ZM187.4 402.6h7.8v1.8h-7.8ZM184.3 405.8h7.1v1.8h-7.1ZM192.1 405.8h3.4v1.8h-3.4ZM176.9 409.5h3.7v1.8h-3.7ZM182.2 409.5h3.2v1.8h-3.2ZM186.1 409.5h4.9v1.8h-4.9ZM191.6 409.5h3.9v1.8h-3.9Z"/>
<path fill="#d6cbbd" opacity="0.38" clip-path="url(#cnclip)" d="M149.8 80.4L150.7 80.4L177.3 412.8L176.4 412.8Z"/>
<path fill="#d6cbbd" opacity="0.28" clip-path="url(#cnclip)" d="M154.8 80.4L155.7 80.4L182.3 412.8L181.4 412.8Z"/>
<path fill="#d6cbbd" opacity="0.31" clip-path="url(#cnclip)" d="M159.4 80.4L160.3 80.4L186.9 412.8L186 412.8Z"/>
<path fill="#d6cbbd" opacity="0.45" clip-path="url(#cnclip)" d="M165 80.4L166 80.4L192.6 412.8L191.6 412.8Z"/>
<path fill="#d6cbbd" opacity="0.28" clip-path="url(#cnclip)" d="M170.6 80.4L171.3 80.4L197.9 412.8L197.1 412.8Z"/>
<path fill="#d6cbbd" opacity="0.32" clip-path="url(#cnclip)" d="M174.2 80.4L175.2 80.4L201.8 412.8L200.8 412.8Z"/>
<path fill="#d6cbbd" opacity="0.43" clip-path="url(#cnclip)" d="M179.4 80.4L180.4 80.4L207 412.8L206 412.8Z"/>
<path fill="#d6cbbd" opacity="0.21" clip-path="url(#cnclip)" d="M183.3 80.4L184.2 80.4L210.8 412.8L209.9 412.8Z"/>
<path fill="#d6cbbd" opacity="0.42" clip-path="url(#cnclip)" d="M187.3 80.4L188.4 80.4L215 412.8L213.9 412.8Z"/>
<path fill="#d6cbbd" opacity="0.39" clip-path="url(#cnclip)" d="M191.9 80.4L192.9 80.4L219.5 412.8L218.5 412.8Z"/>
<path fill="#d6cbbd" opacity="0.31" clip-path="url(#cnclip)" d="M196.5 80.4L197.6 80.4L224.2 412.8L223.1 412.8Z"/>
<path fill="#d6cbbd" opacity="0.34" clip-path="url(#cnclip)" d="M201.9 80.4L203 80.4L229.6 412.8L228.5 412.8Z"/>
<path fill="#d6cbbd" opacity="0.39" clip-path="url(#cnclip)" d="M205.3 80.4L206.2 80.4L232.8 412.8L231.9 412.8Z"/>
<path fill="#d6cbbd" opacity="0.23" clip-path="url(#cnclip)" d="M209.3 80.4L210.2 80.4L236.8 412.8L235.9 412.8Z"/>
<path fill="#d6cbbd" opacity="0.24" clip-path="url(#cnclip)" d="M214.9 80.4L216 80.4L242.5 412.8L241.5 412.8Z"/>
<path fill="#d6cbbd" opacity="0.25" clip-path="url(#cnclip)" d="M220.9 80.4L221.8 80.4L248.4 412.8L247.4 412.8Z"/>
<path fill="#d6cbbd" opacity="0.28" clip-path="url(#cnclip)" d="M225.3 80.4L226.1 80.4L252.7 412.8L251.9 412.8Z"/>
<path fill="#d6cbbd" opacity="0.44" clip-path="url(#cnclip)" d="M229.1 80.4L230.1 80.4L256.7 412.8L255.7 412.8Z"/>
<path fill="#d6cbbd" opacity="0.32" clip-path="url(#cnclip)" d="M235 80.4L235.9 80.4L262.5 412.8L261.6 412.8Z"/>
<path fill="#d6cbbd" opacity="0.31" clip-path="url(#cnclip)" d="M238.2 80.4L239.1 80.4L265.7 412.8L264.7 412.8Z"/>
<path fill="#d6cbbd" opacity="0.22" clip-path="url(#cnclip)" d="M244.1 80.4L245.1 80.4L271.7 412.8L270.7 412.8Z"/>
<path fill="#d6cbbd" opacity="0.44" clip-path="url(#cnclip)" d="M247.3 80.4L248.1 80.4L274.6 412.8L273.9 412.8Z"/>
<path fill="#d6cbbd" opacity="0.36" clip-path="url(#cnclip)" d="M252.4 80.4L253.1 80.4L279.7 412.8L278.9 412.8Z"/>
<path fill="#d6cbbd" opacity="0.31" clip-path="url(#cnclip)" d="M256.7 80.4L257.5 80.4L284.1 412.8L283.3 412.8Z"/>
<path fill="#d6cbbd" opacity="0.22" clip-path="url(#cnclip)" d="M260.9 80.4L261.9 80.4L288.5 412.8L287.5 412.8Z"/>
<path fill="#d6cbbd" opacity="0.34" clip-path="url(#cnclip)" d="M266.8 80.4L267.7 80.4L294.3 412.8L293.4 412.8Z"/>
<path fill="#d6cbbd" opacity="0.24" clip-path="url(#cnclip)" d="M271.4 80.4L272.4 80.4L299 412.8L298 412.8Z"/>
<path fill="#d6cbbd" opacity="0.23" clip-path="url(#cnclip)" d="M276.5 80.4L277.3 80.4L303.9 412.8L303.1 412.8Z"/>
<path fill="#d6cbbd" opacity="0.38" clip-path="url(#cnclip)" d="M279.8 80.4L280.5 80.4L307.1 412.8L306.4 412.8Z"/>
<path fill="#d6cbbd" opacity="0.22" clip-path="url(#cnclip)" d="M285.4 80.4L286.5 80.4L313.1 412.8L312 412.8Z"/>
<path fill="#d6cbbd" opacity="0.33" clip-path="url(#cnclip)" d="M289 80.4L290 80.4L316.6 412.8L315.6 412.8Z"/>
<path fill="#d6cbbd" opacity="0.42" clip-path="url(#cnclip)" d="M294.8 80.4L295.6 80.4L322.2 412.8L321.4 412.8Z"/>
<path fill="#d6cbbd" opacity="0.31" clip-path="url(#cnclip)" d="M300 80.4L300.7 80.4L327.3 412.8L326.6 412.8Z"/>
<path fill="#d6cbbd" opacity="0.43" clip-path="url(#cnclip)" d="M304.4 80.4L305.1 80.4L331.7 412.8L331 412.8Z"/>
<path fill="#d6cbbd" opacity="0.34" clip-path="url(#cnclip)" d="M309.5 80.4L310.5 80.4L337.1 412.8L336.1 412.8Z"/>
<path fill="#d6cbbd" opacity="0.26" clip-path="url(#cnclip)" d="M313.9 80.4L314.9 80.4L341.5 412.8L340.5 412.8Z"/>
<path fill="#d6cbbd" opacity="0.37" clip-path="url(#cnclip)" d="M317.2 80.4L318 80.4L344.6 412.8L343.8 412.8Z"/>
<path fill="#d6cbbd" opacity="0.24" clip-path="url(#cnclip)" d="M320.4 80.4L321.4 80.4L348 412.8L347 412.8Z"/>
<path fill="#d6cbbd" opacity="0.43" clip-path="url(#cnclip)" d="M323.8 80.4L324.6 80.4L351.2 412.8L350.4 412.8Z"/>
<path fill="#d6cbbd" opacity="0.21" clip-path="url(#cnclip)" d="M329.6 80.4L330.6 80.4L357.2 412.8L356.2 412.8Z"/>
<path fill="#d6cbbd" opacity="0.35" clip-path="url(#cnclip)" d="M334.2 80.4L335.3 80.4L361.9 412.8L360.8 412.8Z"/>
<path fill="#d6cbbd" opacity="0.45" clip-path="url(#cnclip)" d="M337.9 80.4L338.8 80.4L365.4 412.8L364.5 412.8Z"/>
<path fill="#d6cbbd" opacity="0.26" clip-path="url(#cnclip)" d="M343.3 80.4L344.4 80.4L371 412.8L369.9 412.8Z"/>
<path fill="#d8c6be" opacity="0.7" clip-path="url(#gclip)" d="M64.5 80.4L66 80.4L92.6 412.8L91.1 412.8ZM78 80.4L79.5 80.4L106.1 412.8L104.6 412.8ZM91.5 80.4L93 80.4L119.6 412.8L118.1 412.8ZM105 80.4L106.5 80.4L133.1 412.8L131.6 412.8ZM118.5 80.4L120 80.4L146.6 412.8L145.1 412.8ZM132 80.4L133.5 80.4L160.1 412.8L158.6 412.8ZM145.5 80.4L147 80.4L173.6 412.8L172.1 412.8ZM159 80.4L160.5 80.4L187.1 412.8L185.6 412.8ZM172.5 80.4L174 80.4L200.6 412.8L199.1 412.8ZM186 80.4L187.5 80.4L214.1 412.8L212.6 412.8ZM199.5 80.4L201 80.4L227.6 412.8L226.1 412.8ZM213 80.4L214.5 80.4L241.1 412.8L239.6 412.8ZM226.5 80.4L228 80.4L254.6 412.8L253.1 412.8ZM240 80.4L241.5 80.4L268.1 412.8L266.6 412.8ZM253.5 80.4L255 80.4L281.6 412.8L280.1 412.8ZM267 80.4L268.5 80.4L295.1 412.8L293.6 412.8ZM280.5 80.4L282 80.4L308.6 412.8L307.1 412.8ZM294 80.4L295.5 80.4L322.1 412.8L320.6 412.8ZM307.5 80.4L309 80.4L335.6 412.8L334.1 412.8ZM321 80.4L322.5 80.4L349.1 412.8L347.6 412.8ZM334.5 80.4L336 80.4L362.6 412.8L361.1 412.8ZM348 80.4L349.5 80.4L376.1 412.8L374.6 412.8ZM361.5 80.4L363 80.4L389.6 412.8L388.1 412.8ZM375 80.4L376.5 80.4L403.1 412.8L401.6 412.8ZM388.5 80.4L390 80.4L416.6 412.8L415.1 412.8ZM402 80.4L403.5 80.4L430.1 412.8L428.6 412.8ZM415.5 80.4L417 80.4L443.6 412.8L442.1 412.8ZM429 80.4L430.5 80.4L457.1 412.8L455.6 412.8ZM442.5 80.4L444 80.4L470.6 412.8L469.1 412.8ZM456 80.4L457.5 80.4L484.1 412.8L482.6 412.8Z"/>
<g id="bands"><path fill="#00f8f0"  d="M99.5 95.4L101.8 97.6L104.1 95.4L106.4 97.6L108.7 95.4L111 97.6L113.4 95.4L115.7 97.6L118 95.4L120.3 97.6L122.6 95.4L124.9 97.6L127.2 95.4L129.5 97.6L131.8 95.4L134.1 97.6L136.5 95.4L138.8 97.6L141.1 95.4L143.4 97.6L145.7 95.4L148 97.6L150.3 95.4L152.6 97.6L154.9 95.4L157.2 97.6L159.6 95.4L161.9 97.6L164.2 95.4L166.5 97.6L168.8 95.4L171.1 97.6L173.4 95.4L175.7 97.6L178 95.4L180.3 97.6L182.7 95.4L185 97.6L187.3 95.4L189.6 97.6L191.9 95.4L194.2 97.6L196.5 95.4L198.8 97.6L201.1 95.4L203.4 97.6L205.8 95.4L208.1 97.6L210.4 95.4L212.7 97.6L215 95.4L217.3 97.6L219.6 95.4L221.9 97.6L224.2 95.4L226.5 97.6L228.9 95.4L231.2 97.6L233.5 95.4L235.8 97.6L238.1 95.4L240.4 97.6L242.7 95.4L245 97.6L247.3 95.4L249.6 97.6L252 95.4L254.3 97.6L256.6 95.4L258.9 97.6L261.2 95.4L263.5 97.6L263.5 107.3L261.2 109.5L258.9 107.3L256.6 109.5L254.3 107.3L252 109.5L249.6 107.3L247.3 109.5L245 107.3L242.7 109.5L240.4 107.3L238.1 109.5L235.8 107.3L233.5 109.5L231.2 107.3L228.9 109.5L226.5 107.3L224.2 109.5L221.9 107.3L219.6 109.5L217.3 107.3L215 109.5L212.7 107.3L210.4 109.5L208.1 107.3L205.8 109.5L203.4 107.3L201.1 109.5L198.8 107.3L196.5 109.5L194.2 107.3L191.9 109.5L189.6 107.3L187.3 109.5L185 107.3L182.7 109.5L180.3 107.3L178 109.5L175.7 107.3L173.4 109.5L171.1 107.3L168.8 109.5L166.5 107.3L164.2 109.5L161.9 107.3L159.6 109.5L157.2 107.3L154.9 109.5L152.6 107.3L150.3 109.5L148 107.3L145.7 109.5L143.4 107.3L141.1 109.5L138.8 107.3L136.5 109.5L134.1 107.3L131.8 109.5L129.5 107.3L127.2 109.5L124.9 107.3L122.6 109.5L120.3 107.3L118 109.5L115.7 107.3L113.4 109.5L111 107.3L108.7 109.5L106.4 107.3L104.1 109.5L101.8 107.3L99.5 109.5ZM99.5 122.7L101.8 124.9L104.1 122.7L106.4 124.9L108.7 122.7L111 124.9L113.4 122.7L115.7 124.9L118 122.7L120.3 124.9L122.6 122.7L124.9 124.9L127.2 122.7L129.5 124.9L131.8 122.7L134.1 124.9L136.5 122.7L138.8 124.9L141.1 122.7L143.4 124.9L145.7 122.7L148 124.9L150.3 122.7L152.6 124.9L154.9 122.7L157.2 124.9L159.6 122.7L161.9 124.9L164.2 122.7L166.5 124.9L168.8 122.7L171.1 124.9L173.4 122.7L175.7 124.9L178 122.7L180.3 124.9L182.7 122.7L185 124.9L187.3 122.7L189.6 124.9L191.9 122.7L194.2 124.9L196.5 122.7L198.8 124.9L201.1 122.7L203.4 124.9L205.8 122.7L208.1 124.9L210.4 122.7L212.7 124.9L215 122.7L217.3 124.9L219.6 122.7L221.9 124.9L224.2 122.7L226.5 124.9L228.9 122.7L231.2 124.9L233.5 122.7L235.8 124.9L238.1 122.7L240.4 124.9L242.7 122.7L245 124.9L247.3 122.7L249.6 124.9L252 122.7L254.3 124.9L256.6 122.7L258.9 124.9L261.2 122.7L263.5 124.9L263.5 135.3L261.2 137.5L258.9 135.3L256.6 137.5L254.3 135.3L252 137.5L249.6 135.3L247.3 137.5L245 135.3L242.7 137.5L240.4 135.3L238.1 137.5L235.8 135.3L233.5 137.5L231.2 135.3L228.9 137.5L226.5 135.3L224.2 137.5L221.9 135.3L219.6 137.5L217.3 135.3L215 137.5L212.7 135.3L210.4 137.5L208.1 135.3L205.8 137.5L203.4 135.3L201.1 137.5L198.8 135.3L196.5 137.5L194.2 135.3L191.9 137.5L189.6 135.3L187.3 137.5L185 135.3L182.7 137.5L180.3 135.3L178 137.5L175.7 135.3L173.4 137.5L171.1 135.3L168.8 137.5L166.5 135.3L164.2 137.5L161.9 135.3L159.6 137.5L157.2 135.3L154.9 137.5L152.6 135.3L150.3 137.5L148 135.3L145.7 137.5L143.4 135.3L141.1 137.5L138.8 135.3L136.5 137.5L134.1 135.3L131.8 137.5L129.5 135.3L127.2 137.5L124.9 135.3L122.6 137.5L120.3 135.3L118 137.5L115.7 135.3L113.4 137.5L111 135.3L108.7 137.5L106.4 135.3L104.1 137.5L101.8 135.3L99.5 137.5Z"/><path fill="#00f8f0"  d="M412 110.5L414.3 111.7L416.7 110.5L419 111.7L421.4 110.6L423.7 111.8L426 110.6L428.4 111.8L430.7 110.6L433.1 111.8L435.4 110.7L437.8 111.9L440.1 110.7L442.4 111.9L444.8 110.7L447.1 111.9L449.5 110.8L451.8 112L454.1 110.8L456.5 112L458.8 110.8L461.2 112L463.5 110.9L465.8 112.1L468.2 110.9L470.5 112.1L472.9 110.9L475.2 112.1L477.5 110.9L479.9 112.2L482.2 111L484.6 112.2L486.9 111.2L489.2 112.6L491.6 111.7L493.9 113.1L496.3 112.1L498.6 113.6L501 112.6L503.3 114L505.6 113.1L508 114.5L510.3 113.5L512.7 115L515 114L515 124L512.7 122.5L510.3 123.4L508 121.9L505.6 122.8L503.3 121.2L501 122.1L498.6 120.5L496.3 121.1L493.9 119.4L491.6 120L489.2 118.3L486.9 118.9L484.6 117.3L482.2 118.3L479.9 117L477.5 118L475.2 116.7L472.9 117.7L470.5 116.4L468.2 117.4L465.8 116.1L463.5 117.1L461.2 115.8L458.8 116.8L456.5 115.5L454.1 116.6L451.8 115.2L449.5 116.3L447.1 115L444.8 116.1L442.4 114.7L440.1 115.8L437.8 114.5L435.4 115.6L433.1 114.2L430.7 115.3L428.4 114L426 115.1L423.7 113.7L421.4 114.6L419 113.1L416.7 114L414.3 112.6L412 113.5ZM415 137.5L417.3 138.7L419.7 137.5L422 138.7L424.3 137.6L426.6 138.8L429 137.6L431.3 138.8L433.6 137.6L435.9 138.8L438.3 137.7L440.6 138.9L442.9 137.7L445.2 138.9L447.6 137.7L449.9 138.9L452.2 137.8L454.5 139L456.9 137.8L459.2 139L461.5 137.8L463.8 139L466.2 137.9L468.5 139.1L470.8 137.9L473.1 139.1L475.5 137.9L477.8 139.1L480.1 138L482.4 139.2L484.8 138L487.1 139.3L489.4 138.3L491.7 139.6L494.1 138.6L496.4 140L498.7 138.9L501 140.3L503.4 139.2L505.7 140.6L508 139.5L510.3 140.9L512.7 139.8L515 141.2L515 144.8L512.7 145.9L510.3 144.6L508 145.7L505.7 144.3L503.4 145.4L501 144.1L498.7 145.2L496.4 143.9L494.1 145L491.7 143.6L489.4 144.7L487.1 143.4L484.8 144.5L482.4 143.2L480.1 144.3L477.8 143.1L475.5 144.2L473.1 142.9L470.8 144L468.5 142.7L466.2 143.9L463.8 142.6L461.5 143.7L459.2 142.4L456.9 143.6L454.5 142.3L452.2 143.4L449.9 142.1L447.6 143.3L445.2 142L442.9 143.1L440.6 141.8L438.3 142.9L435.9 141.5L433.6 142.5L431.3 141.1L429 142.1L426.6 140.7L424.3 141.7L422 140.4L419.7 141.4L417.3 140L415 141Z"/><path fill="#006400"  d="M263.5 96.3L265.8 98.5L268.1 96.3L270.4 98.5L272.8 96.3L275.1 98.5L277.4 96.3L279.7 98.5L282 96.3L284.3 98.5L286.6 96.3L288.9 98.5L291.3 96.3L293.6 98.5L295.9 96.3L298.2 98.5L300.5 96.3L302.8 98.5L305.1 96.3L307.4 98.5L309.8 96.3L312.1 98.5L314.4 96.3L316.7 98.5L319 96.3L321.3 98.5L323.6 96.3L325.9 98.5L328.3 96.3L330.6 98.5L332.9 96.3L335.2 98.5L337.5 96.3L339.8 98.5L342.1 96.3L344.4 98.5L346.8 96.3L349.1 98.5L351.4 96.3L353.7 98.5L356 96.3L358.3 98.5L360.6 96.3L362.9 98.5L365.3 96.3L367.6 98.5L369.9 96.3L372.2 98.5L374.5 96.3L376.8 98.5L379.1 96.3L381.5 98.5L383.8 96.3L386.1 98.5L388.4 96.3L390.7 98.5L393 96.3L395.3 98.5L397.6 96.3L400 98.5L402.3 96.3L404.6 98.5L406.9 96.3L409.2 98.5L411.5 96.3L413.8 98.5L416.1 96.3L418.5 98.5L420.8 96.3L423.1 98.5L425.4 96.3L427.7 98.5L430 96.3L432.3 98.5L434.6 96.3L437 98.5L439.3 96.3L441.6 98.5L443.9 96.3L446.2 98.5L448.5 96.3L450.8 98.5L453.1 96.3L455.5 98.5L457.8 96.3L460.1 98.5L462.4 96.3L462.4 110.8L460.1 108.6L457.8 110.8L455.5 108.6L453.1 110.8L450.8 108.6L448.5 110.8L446.2 108.6L443.9 110.8L441.6 108.6L439.3 110.8L437 108.6L434.6 110.8L432.3 108.6L430 110.8L427.7 108.6L425.4 110.8L423.1 108.6L420.8 110.8L418.5 108.6L416.1 110.8L413.8 108.6L411.5 110.8L409.2 108.6L406.9 110.8L404.6 108.6L402.3 110.8L400 108.6L397.6 110.8L395.3 108.6L393 110.8L390.7 108.6L388.4 110.8L386.1 108.6L383.8 110.8L381.5 108.6L379.1 110.8L376.8 108.6L374.5 110.8L372.2 108.6L369.9 110.8L367.6 108.6L365.3 110.8L362.9 108.6L360.6 110.8L358.3 108.6L356 110.8L353.7 108.6L351.4 110.8L349.1 108.6L346.8 110.8L344.4 108.6L342.1 110.8L339.8 108.6L337.5 110.8L335.2 108.6L332.9 110.8L330.6 108.6L328.3 110.8L325.9 108.6L323.6 110.8L321.3 108.6L319 110.8L316.7 108.6L314.4 110.8L312.1 108.6L309.8 110.8L307.4 108.6L305.1 110.8L302.8 108.6L300.5 110.8L298.2 108.6L295.9 110.8L293.6 108.6L291.3 110.8L288.9 108.6L286.6 110.8L284.3 108.6L282 110.8L279.7 108.6L277.4 110.8L275.1 108.6L272.8 110.8L270.4 108.6L268.1 110.8L265.8 108.6L263.5 110.8ZM263.5 124L265.8 126.2L268.1 124L270.4 126.2L272.8 124L275.1 126.2L277.4 124L279.7 126.2L282 124L284.3 126.2L286.6 124L288.9 126.2L291.3 124L293.6 126.2L295.9 124L298.2 126.2L300.5 124L302.8 126.2L305.1 124L307.4 126.2L309.8 124L312.1 126.2L314.4 124L316.7 126.2L319 124L321.3 126.2L323.6 124L325.9 126.2L328.3 124L330.6 126.2L332.9 124L335.2 126.2L337.5 124L339.8 126.2L342.1 124L344.4 126.2L346.8 124L349.1 126.2L351.4 124L353.7 126.2L356 124L358.3 126.2L360.6 124L362.9 126.2L365.3 124L367.6 126.2L369.9 124L372.2 126.2L374.5 124L376.8 126.2L379.1 124L381.5 126.2L383.8 124L386.1 126.2L388.4 124L390.7 126.2L393 124L395.3 126.2L397.6 124L400 126.2L402.3 124L404.6 126.2L406.9 124L409.2 126.2L411.5 124L413.8 126.2L416.1 124L418.5 126.2L420.8 124L423.1 126.2L425.4 124L427.7 126.2L430 124L432.3 126.2L434.6 124L437 126.2L439.3 124L441.6 126.2L443.9 124L446.2 126.2L448.5 124L450.8 126.2L453.1 124L455.5 126.2L457.8 124L460.1 126.2L462.4 124L462.4 138.5L460.1 136.3L457.8 138.5L455.5 136.3L453.1 138.5L450.8 136.3L448.5 138.5L446.2 136.3L443.9 138.5L441.6 136.3L439.3 138.5L437 136.3L434.6 138.5L432.3 136.3L430 138.5L427.7 136.3L425.4 138.5L423.1 136.3L420.8 138.5L418.5 136.3L416.1 138.5L413.8 136.3L411.5 138.5L409.2 136.3L406.9 138.5L404.6 136.3L402.3 138.5L400 136.3L397.6 138.5L395.3 136.3L393 138.5L390.7 136.3L388.4 138.5L386.1 136.3L383.8 138.5L381.5 136.3L379.1 138.5L376.8 136.3L374.5 138.5L372.2 136.3L369.9 138.5L367.6 136.3L365.3 138.5L362.9 136.3L360.6 138.5L358.3 136.3L356 138.5L353.7 136.3L351.4 138.5L349.1 136.3L346.8 138.5L344.4 136.3L342.1 138.5L339.8 136.3L337.5 138.5L335.2 136.3L332.9 138.5L330.6 136.3L328.3 138.5L325.9 136.3L323.6 138.5L321.3 136.3L319 138.5L316.7 136.3L314.4 138.5L312.1 136.3L309.8 138.5L307.4 136.3L305.1 138.5L302.8 136.3L300.5 138.5L298.2 136.3L295.9 138.5L293.6 136.3L291.3 138.5L288.9 136.3L286.6 138.5L284.3 136.3L282 138.5L279.7 136.3L277.4 138.5L275.1 136.3L272.8 138.5L270.4 136.3L268.1 138.5L265.8 136.3L263.5 138.5Z"/><path fill="#8c00ff"  d="M462.4 93.5L464.8 95.7L467.2 93.5L469.6 95.7L472 93.5L474.4 95.7L476.7 93.5L479.1 95.7L481.5 93.5L483.9 95.7L486.3 93.5L488.7 95.7L491.1 93.5L493.5 95.7L495.9 93.5L498.3 95.7L500.7 93.5L503 95.7L505.4 93.5L507.8 95.7L510.2 93.5L512.6 95.7L515 93.5L515 108.5L512.6 106.3L510.2 108.5L507.8 106.3L505.4 108.5L503 106.3L500.7 108.5L498.3 106.3L495.9 108.5L493.5 106.3L491.1 108.5L488.7 106.3L486.3 108.5L483.9 106.3L481.5 108.5L479.1 106.3L476.7 108.5L474.4 106.3L472 108.5L469.6 106.3L467.2 108.5L464.8 106.3L462.4 108.5ZM462.4 124L464.8 126.2L467.2 124L469.6 126.2L472 124L474.4 126.2L476.7 124L479.1 126.2L481.5 124L483.9 126.2L486.3 124L488.7 126.2L491.1 124L493.5 126.2L495.9 124L498.3 126.2L500.7 124L503 126.2L505.4 124L507.8 126.2L510.2 124L512.6 126.2L515 124L515 138.8L512.6 136.6L510.2 138.8L507.8 136.6L505.4 138.8L503 136.6L500.7 138.8L498.3 136.6L495.9 138.8L493.5 136.6L491.1 138.8L488.7 136.6L486.3 138.8L483.9 136.6L481.5 138.8L479.1 136.6L476.7 138.8L474.4 136.6L472 138.8L469.6 136.6L467.2 138.8L464.8 136.6L462.4 138.8Z"/><path fill="#10f020"  d="M50.5 98.8L53 101.7L55.5 99.4L58 102.2L60.5 99.9L63 102.8L65.5 100.5L68 103.6L68 106.4L65.5 108.5L63 105.6L60.5 107.9L58 105L55.5 107.4L53 104.5L50.5 106.8ZM66 101.6h8v1.6h-8ZM75.5 102.7L77.8 105.3L80.1 104L82.5 106.7L84.8 105.4L87.1 108.1L89.4 106.8L91.7 109.5L94 108.1L96.4 110.8L98.7 109.5L101 112.2L103.3 110.9L105.6 113.5L108 112.2L110.3 114.9L112.6 113.5L114.9 116.2L117.2 114.9L119.5 117.5L121.9 116.2L124.2 118.8L126.5 117.4L128.8 119.9L131.1 118.6L133.5 121.5L135.8 120.4L138.1 123.3L140.4 122.2L142.7 125.1L145 124L147.4 126.9L149.7 125.8L152 128.7L154.3 127.6L156.6 130.5L159 129.4L161.3 132.3L163.6 131.2L165.9 134.1L168.2 133L170.5 135.9L172.9 134.7L175.2 137.6L177.5 136.5L179.8 139.4L182.1 138.3L184.5 141.2L186.8 140.1L189.1 143L191.4 141.9L193.7 144.8L196 143.6L198.4 146.5L200.7 145.4L203 148.3L203 152.7L200.7 153.8L198.4 150.9L196 152L193.7 149.2L191.4 150.3L189.1 147.4L186.8 148.5L184.5 145.6L182.1 146.7L179.8 143.8L177.5 144.9L175.2 142L172.9 143.1L170.5 140.3L168.2 141.4L165.9 138.5L163.6 139.6L161.3 136.7L159 137.8L156.6 134.9L154.3 136L152 133.1L149.7 134.2L147.4 131.3L145 132.4L142.7 129.5L140.4 130.6L138.1 127.7L135.8 128.8L133.5 125.9L131.1 127L128.8 124.3L126.5 125.8L124.2 123.2L121.9 124.6L119.5 121.9L117.2 123.3L114.9 120.6L112.6 121.9L110.3 119.3L108 120.6L105.6 117.9L103.3 119.3L101 116.6L98.7 117.9L96.4 115.2L94 116.5L91.7 113.9L89.4 115.2L87.1 112.5L84.8 113.8L82.5 111.1L80.1 112.4L77.8 109.7L75.5 111.1ZM50.5 119.4L53.1 122.6L55.7 120.9L58.2 124.1L60.8 122.4L63.4 125.6L66 123.9L66 131.1L63.4 128L60.8 129.6L58.2 126.5L55.7 128.1L53.1 125L50.5 126.6ZM66 130h10v1.4h-10ZM76.5 125.6L78.8 128.1L81.1 126.6L83.4 129L85.7 127.5L88 130L90.3 128.5L92.6 130.9L94.9 129.4L97.2 131.9L99.5 130.4L101.8 132.9L104.1 131.6L106.4 134.4L108.7 133.1L111 135.9L113.4 134.7L115.7 137.4L118 136.2L120.3 139L122.6 137.7L124.9 140.6L127.2 139.6L129.5 142.6L131.8 141.5L134.1 144.3L136.4 143.2L138.7 146L141 144.9L143.3 147.8L145.6 146.6L147.9 149.5L150.2 148.5L152.5 151.6L154.8 150.7L157.1 153.8L159.4 152.9L161.7 156L164 155.1L166.3 158.2L168.6 157.3L170.9 160.4L173.2 159.5L175.5 162.5L177.8 161.4L180.1 164.4L182.5 163.4L184.8 166.4L187.1 165.4L189.4 168.4L191.7 167.4L194 170.3L196.3 169.3L198.6 172.3L200.9 171.3L203.2 174.3L205.5 173.3L207.8 176.3L210.1 175.2L212.4 178.2L214.7 177.2L217 180.2L217 183.8L214.7 184.8L212.4 181.8L210.1 182.8L207.8 179.9L205.5 180.9L203.2 177.9L200.9 178.9L198.6 175.9L196.3 176.9L194 173.9L191.7 175L189.4 172L187.1 173L184.8 170L182.5 171L180.1 168L177.8 169L175.5 166.1L173.2 167.1L170.9 164L168.6 164.9L166.3 161.8L164 162.7L161.7 159.6L159.4 160.5L157.1 157.4L154.8 158.3L152.5 155.2L150.2 156.1L147.9 153.1L145.6 154.2L143.3 151.4L141 152.5L138.7 149.6L136.4 150.8L134.1 147.9L131.8 149.1L129.5 146.2L127.2 147.2L124.9 144.2L122.6 145.3L120.3 142.6L118 143.8L115.7 141L113.4 142.3L111 139.5L108.7 140.7L106.4 138L104.1 139.2L101.8 136.5L99.5 138L97.2 135.5L94.9 137L92.6 134.5L90.3 136.1L88 133.6L85.7 135.1L83.4 132.6L81.1 134.2L78.8 131.7L76.5 133.2Z"/><path fill="#10f020"  d="M326.5 160.2h188.5v1.3h-188.5ZM326.5 179.8h73.5v1.5h-73.5ZM400 179.8L402.3 179.9L404.6 179.8L406.9 179.9L409.2 179.8L411.5 179.9L413.8 179.8L416.1 179.9L418.4 179.8L420.7 179.9L423 179.8L425.3 179.9L427.6 179.8L429.9 179.9L432.2 179.8L434.5 179.9L436.8 179.8L439.1 179.9L441.4 179.8L443.7 179.9L446 179.8L448.3 179.9L450.6 179.8L452.9 179.9L455.2 179.8L457.5 179.9L459.8 179.8L462.1 179.9L464.4 179.8L466.7 179.9L469 179.8L471.3 179.9L473.6 179.8L475.9 179.9L478.2 179.8L480.5 179.9L482.8 179.8L485.1 179.9L487.4 179.8L489.7 179.9L492 179.8L494.3 179.9L496.6 179.8L498.9 179.9L501.2 179.8L503.5 179.9L505.8 179.8L508.1 179.9L510.4 179.8L512.7 179.9L515 179.8L515 186.5L512.7 183.5L510.4 186.5L508.1 183.5L505.8 186.5L503.5 183.5L501.2 186.5L498.9 183.5L496.6 186.5L494.3 183.5L492 186.5L489.7 183.5L487.4 186.5L485.1 183.5L482.8 186.5L480.5 183.5L478.2 186.5L475.9 183.5L473.6 186.5L471.3 183.5L469 186.5L466.7 183.5L464.4 186.5L462.1 183.5L459.8 186.5L457.5 183.5L455.2 186.5L452.9 183.5L450.6 186.5L448.3 183.5L446 186.5L443.7 183.5L441.4 186.5L439.1 183.5L436.8 186.5L434.5 183.5L432.2 186.5L429.9 183.5L427.6 186.5L425.3 183.5L423 186.5L420.7 183.5L418.4 186.5L416.1 183.5L413.8 186.5L411.5 183.5L409.2 186.5L406.9 183.5L404.6 186.5L402.3 183.5L400 186.5ZM257 183h22v3h-22ZM257 203h18v1.2h-18ZM257 205.5h20v2.5h-20Z"/><path fill="#ff0a8c" fill-opacity="0.6" d="M108 148.5L110.4 151.5L112.8 148.5L115.1 151.5L117.5 148.5L119.9 151.5L122.2 148.5L124.6 151.5L127 148.5L129.4 151.5L131.8 148.5L134.1 151.5L136.5 148.5L138.9 151.5L141.2 148.5L143.6 151.5L146 148.5L146 160.5L143.6 159.5L141.2 160.5L138.9 159.5L136.5 160.5L134.1 159.5L131.8 160.5L129.4 159.5L127 160.5L124.6 159.5L122.2 160.5L119.9 159.5L117.5 160.5L115.1 159.5L112.8 160.5L110.4 159.5L108 160.5ZM111 175.5L113.3 176.5L115.7 175.5L118 176.5L120.3 175.5L122.7 176.5L125 175.5L127.3 176.5L129.7 175.5L132 176.5L134.3 175.5L136.7 176.5L139 175.5L141.3 176.5L143.7 175.5L146 176.5L146 179.5L143.7 180L141.3 179.5L139 180L136.7 179.5L134.3 180L132 179.5L129.7 180L127.3 179.5L125 180L122.7 179.5L120.3 180L118 179.5L115.7 180L113.3 179.5L111 180Z"/><path fill="#ff0a8c"  d="M145.5 150.8L147.8 153.4L150.1 150.8L152.4 153.4L154.7 150.8L157 153.4L159.4 150.8L161.7 153.4L164 150.8L166.3 153.4L168.6 150.8L170.9 153.4L173.2 150.8L175.5 153.4L177.8 150.8L180.1 153.4L182.4 150.8L184.8 153.4L187.1 150.8L189.4 153.4L191.7 150.8L194 153.4L196.3 150.8L198.6 153.4L200.9 150.8L203.2 153.4L205.5 150.8L207.9 153.4L210.2 150.8L212.5 153.4L214.8 150.8L217.1 153.4L219.4 150.8L221.7 153.4L224 150.8L226.3 153.4L228.6 150.8L230.9 153.4L233.3 150.8L235.6 153.4L237.9 150.8L240.2 153.4L242.5 150.8L244.8 153.4L247.1 150.8L249.4 153.4L251.7 150.8L254 153.4L256.4 150.8L258.7 153.4L261 150.8L263.3 153.4L265.6 150.8L267.9 153.4L270.2 150.8L272.5 153.4L274.8 150.8L277.1 153.4L279.4 150.8L281.8 153.4L284.1 150.8L286.4 153.4L288.7 150.8L291 153.4L293.3 150.8L295.6 153.4L297.9 150.8L300.2 153.4L302.5 150.8L304.8 153.4L307.2 150.8L309.5 153.4L311.8 150.8L314.1 153.4L316.4 150.8L318.7 153.4L321 150.8L323.3 153.4L325.6 150.8L327.9 153.4L330.2 150.8L332.6 153.4L334.9 150.8L337.2 153.4L339.5 150.8L341.8 153.4L344.1 150.8L346.4 153.4L348.7 150.8L351 153.4L353.3 150.8L355.7 153.4L358 150.8L360.3 153.4L362.6 150.8L364.9 153.4L367.2 150.8L369.5 153.4L371.8 150.8L374.1 153.4L376.4 150.8L378.7 153.4L381.1 150.8L383.4 153.4L385.7 150.8L388 153.4L390.3 150.8L392.6 153.4L394.9 150.8L397.2 153.4L399.5 150.8L401.8 153.4L404.1 150.8L406.5 153.4L408.8 150.8L411.1 153.4L413.4 150.8L415.7 153.4L418 150.8L420.3 153.4L422.6 150.8L424.9 153.4L427.2 150.8L429.6 153.4L431.9 150.8L434.2 153.4L436.5 150.8L438.8 153.4L441.1 150.8L443.4 153.4L445.7 150.8L448 153.4L450.3 150.8L452.6 153.4L455 150.8L457.3 153.4L459.6 150.8L461.9 153.4L464.2 150.8L466.5 153.4L468.8 150.8L471.1 153.4L473.4 150.8L475.7 153.4L478.1 150.8L480.4 153.4L482.7 150.8L485 153.4L487.3 150.8L489.6 153.4L491.9 150.8L494.2 153.4L496.5 150.8L498.8 153.4L501.1 150.8L503.5 153.4L505.8 150.8L508.1 153.4L510.4 150.8L512.7 153.4L515 150.8L515 159.6L512.7 159L510.4 159.6L508.1 159L505.8 159.6L503.5 159L501.1 159.6L498.8 159L496.5 159.6L494.2 159L491.9 159.6L489.6 159L487.3 159.6L485 159L482.7 159.6L480.4 159L478.1 159.6L475.7 159L473.4 159.6L471.1 159L468.8 159.6L466.5 159L464.2 159.6L461.9 159L459.6 159.6L457.3 159L455 159.6L452.6 159L450.3 159.6L448 159L445.7 159.6L443.4 159L441.1 159.6L438.8 159L436.5 159.6L434.2 159L431.9 159.6L429.6 159L427.2 159.6L424.9 159L422.6 159.6L420.3 159L418 159.6L415.7 159L413.4 159.6L411.1 159L408.8 159.6L406.5 159L404.1 159.6L401.8 159L399.5 159.6L397.2 159L394.9 159.6L392.6 159L390.3 159.6L388 159L385.7 159.6L383.4 159L381.1 159.6L378.7 159L376.4 159.6L374.1 159L371.8 159.6L369.5 159L367.2 159.6L364.9 159L362.6 159.6L360.3 159L358 159.6L355.7 159L353.3 159.6L351 159L348.7 159.6L346.4 159L344.1 159.6L341.8 159L339.5 159.6L337.2 159L334.9 159.6L332.6 159L330.2 159.6L327.9 159L325.6 159.6L323.3 159L321 159.6L318.7 159L316.4 159.6L314.1 159L311.8 159.6L309.5 159L307.2 159.6L304.8 159L302.5 159.6L300.2 159L297.9 159.6L295.6 159L293.3 159.6L291 159L288.7 159.6L286.4 159L284.1 159.6L281.8 159L279.4 159.6L277.1 159L274.8 159.6L272.5 159L270.2 159.6L267.9 159L265.6 159.6L263.3 159L261 159.6L258.7 159L256.4 159.6L254 159L251.7 159.6L249.4 159L247.1 159.6L244.8 159L242.5 159.6L240.2 159L237.9 159.6L235.6 159L233.3 159.6L230.9 159L228.6 159.6L226.3 159L224 159.6L221.7 159L219.4 159.6L217.1 159L214.8 159.6L212.5 159L210.2 159.6L207.9 159L205.5 159.6L203.2 159L200.9 159.6L198.6 159L196.3 159.6L194 159L191.7 159.6L189.4 159L187.1 159.6L184.8 159L182.4 159.6L180.1 159L177.8 159.6L175.5 159L173.2 159.6L170.9 159L168.6 159.6L166.3 159L164 159.6L161.7 159L159.4 159.6L157 159L154.7 159.6L152.4 159L150.1 159.6L147.8 159L145.5 159.6ZM145.5 175.2L147.8 176.2L150.1 175.2L152.4 176.2L154.7 175.2L157 176.2L159.4 175.2L161.7 176.2L164 175.2L166.3 176.2L168.6 175.2L170.9 176.2L173.2 175.2L175.5 176.2L177.8 175.2L180.1 176.2L182.4 175.2L184.8 176.2L187.1 175.2L189.4 176.2L191.7 175.2L194 176.2L196.3 175.2L198.6 176.2L200.9 175.2L203.2 176.2L205.5 175.2L207.9 176.2L210.2 175.2L212.5 176.2L214.8 175.2L217.1 176.2L219.4 175.2L221.7 176.2L224 175.2L226.3 176.2L228.6 175.2L230.9 176.2L233.3 175.2L235.6 176.2L237.9 175.2L240.2 176.2L242.5 175.2L244.8 176.2L247.1 175.2L249.4 176.2L251.7 175.2L254 176.2L256.4 175.2L258.7 176.2L261 175.2L263.3 176.2L265.6 175.2L267.9 176.2L270.2 175.2L272.5 176.2L274.8 175.2L277.1 176.2L279.4 175.2L281.8 176.2L284.1 175.2L286.4 176.2L288.7 175.2L291 176.2L293.3 175.2L295.6 176.2L297.9 175.2L300.2 176.2L302.5 175.2L304.8 176.2L307.2 175.2L309.5 176.2L311.8 175.2L314.1 176.2L316.4 175.2L318.7 176.2L321 175.2L323.3 176.2L325.6 175.2L327.9 176.2L330.2 175.2L332.6 176.2L334.9 175.2L337.2 176.2L339.5 175.2L341.8 176.2L344.1 175.2L346.4 176.2L348.7 175.2L351 176.2L353.3 175.2L355.7 176.2L358 175.2L360.3 176.2L362.6 175.2L364.9 176.2L367.2 175.2L369.5 176.2L371.8 175.2L374.1 176.2L376.4 175.2L378.7 176.2L381.1 175.2L383.4 176.2L385.7 175.2L388 176.2L390.3 175.2L392.6 176.2L394.9 175.2L397.2 176.2L399.5 175.2L401.8 176.2L404.1 175.2L406.5 176.2L408.8 175.2L411.1 176.2L413.4 175.2L415.7 176.2L418 175.2L420.3 176.2L422.6 175.2L424.9 176.2L427.2 175.2L429.6 176.2L431.9 175.2L434.2 176.2L436.5 175.2L438.8 176.2L441.1 175.2L443.4 176.2L445.7 175.2L448 176.2L450.3 175.2L452.6 176.2L455 175.2L457.3 176.2L459.6 175.2L461.9 176.2L464.2 175.2L466.5 176.2L468.8 175.2L471.1 176.2L473.4 175.2L475.7 176.2L478.1 175.2L480.4 176.2L482.7 175.2L485 176.2L487.3 175.2L489.6 176.2L491.9 175.2L494.2 176.2L496.5 175.2L498.8 176.2L501.1 175.2L503.5 176.2L505.8 175.2L508.1 176.2L510.4 175.2L512.7 176.2L515 175.2L515 179.6L512.7 179.1L510.4 179.6L508.1 179.1L505.8 179.6L503.5 179.1L501.1 179.6L498.8 179.1L496.5 179.6L494.2 179.1L491.9 179.6L489.6 179.1L487.3 179.6L485 179.1L482.7 179.6L480.4 179.1L478.1 179.6L475.7 179.1L473.4 179.6L471.1 179.1L468.8 179.6L466.5 179.1L464.2 179.6L461.9 179.1L459.6 179.6L457.3 179.1L455 179.6L452.6 179.1L450.3 179.6L448 179.1L445.7 179.6L443.4 179.1L441.1 179.6L438.8 179.1L436.5 179.6L434.2 179.1L431.9 179.6L429.6 179.1L427.2 179.6L424.9 179.1L422.6 179.6L420.3 179.1L418 179.6L415.7 179.1L413.4 179.6L411.1 179.1L408.8 179.6L406.5 179.1L404.1 179.6L401.8 179.1L399.5 179.6L397.2 179.1L394.9 179.6L392.6 179.1L390.3 179.6L388 179.1L385.7 179.6L383.4 179.1L381.1 179.6L378.7 179.1L376.4 179.6L374.1 179.1L371.8 179.6L369.5 179.1L367.2 179.6L364.9 179.1L362.6 179.6L360.3 179.1L358 179.6L355.7 179.1L353.3 179.6L351 179.1L348.7 179.6L346.4 179.1L344.1 179.6L341.8 179.1L339.5 179.6L337.2 179.1L334.9 179.6L332.6 179.1L330.2 179.6L327.9 179.1L325.6 179.6L323.3 179.1L321 179.6L318.7 179.1L316.4 179.6L314.1 179.1L311.8 179.6L309.5 179.1L307.2 179.6L304.8 179.1L302.5 179.6L300.2 179.1L297.9 179.6L295.6 179.1L293.3 179.6L291 179.1L288.7 179.6L286.4 179.1L284.1 179.6L281.8 179.1L279.4 179.6L277.1 179.1L274.8 179.6L272.5 179.1L270.2 179.6L267.9 179.1L265.6 179.6L263.3 179.1L261 179.6L258.7 179.1L256.4 179.6L254 179.1L251.7 179.6L249.4 179.1L247.1 179.6L244.8 179.1L242.5 179.6L240.2 179.1L237.9 179.6L235.6 179.1L233.3 179.6L230.9 179.1L228.6 179.6L226.3 179.1L224 179.6L221.7 179.1L219.4 179.6L217.1 179.1L214.8 179.6L212.5 179.1L210.2 179.6L207.9 179.1L205.5 179.6L203.2 179.1L200.9 179.6L198.6 179.1L196.3 179.6L194 179.1L191.7 179.6L189.4 179.1L187.1 179.6L184.8 179.1L182.4 179.6L180.1 179.1L177.8 179.6L175.5 179.1L173.2 179.6L170.9 179.1L168.6 179.6L166.3 179.1L164 179.6L161.7 179.1L159.4 179.6L157 179.1L154.7 179.6L152.4 179.1L150.1 179.6L147.8 179.1L145.5 179.6Z"/><path fill="#0808ff"  d="M353.5 149.3L355.9 151.7L358.2 149.3L360.6 151.7L363 149.3L365.3 151.7L367.7 149.3L370.1 151.7L372.4 149.3L374.8 151.7L377.2 149.3L379.5 151.7L381.9 149.3L384.2 151.7L386.6 149.3L389 151.7L391.3 149.3L393.7 151.7L396.1 149.3L398.4 151.7L400.8 149.3L403.2 151.7L405.5 149.3L407.9 151.7L410.3 149.3L412.6 151.7L415 149.3L415 159.8L412.6 159.2L410.3 159.8L407.9 159.2L405.5 159.8L403.2 159.2L400.8 159.8L398.4 159.2L396.1 159.8L393.7 159.2L391.3 159.8L389 159.2L386.6 159.8L384.2 159.2L381.9 159.8L379.5 159.2L377.2 159.8L374.8 159.2L372.4 159.8L370.1 159.2L367.7 159.8L365.3 159.2L363 159.8L360.6 159.2L358.2 159.8L355.9 159.2L353.5 159.8ZM415.5 145.5L417.8 147.1L420.1 145.5L422.4 147.1L424.8 145.5L427.1 147.1L429.4 145.5L431.7 147.1L434 145.5L436.3 147.1L438.6 145.5L441 147.1L443.3 145.5L445.6 147.1L447.9 145.5L450.2 147.1L452.5 145.5L454.8 147.1L457.2 145.5L459.5 147.1L461.8 145.5L464.1 147.1L466.4 145.5L468.7 147.1L471 145.5L473.3 147.1L475.7 145.5L478 147.1L480.3 145.5L482.6 147.1L484.9 145.5L487.2 147.1L489.5 145.5L491.9 147.1L494.2 145.5L496.5 147.1L498.8 145.5L501.1 147.1L503.4 145.5L505.7 147.1L508.1 145.5L510.4 147.1L512.7 145.5L515 147.1L515 150.5L512.7 151L510.4 150.5L508.1 151L505.7 150.5L503.4 151L501.1 150.5L498.8 151L496.5 150.5L494.2 151L491.9 150.5L489.5 151L487.2 150.5L484.9 151L482.6 150.5L480.3 151L478 150.5L475.7 151L473.3 150.5L471 151L468.7 150.5L466.4 151L464.1 150.5L461.8 151L459.5 150.5L457.2 151L454.8 150.5L452.5 151L450.2 150.5L447.9 151L445.6 150.5L443.3 151L441 150.5L438.6 151L436.3 150.5L434 151L431.7 150.5L429.4 151L427.1 150.5L424.8 151L422.4 150.5L420.1 151L417.8 150.5L415.5 151ZM353.5 172.6L355.8 174.2L358.1 172.6L360.4 174.2L362.7 172.6L365 174.2L367.3 172.6L369.6 174.2L372 172.6L374.3 174.2L376.6 172.6L378.9 174.2L381.2 172.6L383.5 174.2L385.8 172.6L388.1 174.2L390.4 172.6L392.7 174.2L395 172.6L397.3 174.2L399.6 172.6L401.9 174.2L404.3 172.6L406.6 174.2L408.9 172.6L411.2 174.2L413.5 172.6L415.8 174.2L418.1 172.6L420.4 174.2L422.7 172.6L425 174.2L427.3 172.6L429.6 174.2L431.9 172.6L434.2 174.2L436.6 172.6L438.9 174.2L441.2 172.6L443.5 174.2L445.8 172.6L448.1 174.2L450.4 172.6L452.7 174.2L455 172.6L457.3 174.2L459.6 172.6L461.9 174.2L464.2 172.6L466.6 174.2L468.9 172.6L471.2 174.2L473.5 172.6L475.8 174.2L478.1 172.6L480.4 174.2L482.7 172.6L485 174.2L487.3 172.6L489.6 174.2L491.9 172.6L494.2 174.2L496.5 172.6L498.9 174.2L501.2 172.6L503.5 174.2L505.8 172.6L508.1 174.2L510.4 172.6L512.7 174.2L515 172.6L515 180.4L512.7 179.6L510.4 180.4L508.1 179.6L505.8 180.4L503.5 179.6L501.2 180.4L498.9 179.6L496.5 180.4L494.2 179.6L491.9 180.4L489.6 179.6L487.3 180.4L485 179.6L482.7 180.4L480.4 179.6L478.1 180.4L475.8 179.6L473.5 180.4L471.2 179.6L468.9 180.4L466.6 179.6L464.2 180.4L461.9 179.6L459.6 180.4L457.3 179.6L455 180.4L452.7 179.6L450.4 180.4L448.1 179.6L445.8 180.4L443.5 179.6L441.2 180.4L438.9 179.6L436.6 180.4L434.2 179.6L431.9 180.4L429.6 179.6L427.3 180.4L425 179.6L422.7 180.4L420.4 179.6L418.1 180.4L415.8 179.6L413.5 180.4L411.2 179.6L408.9 180.4L406.6 179.6L404.3 180.4L401.9 179.6L399.6 180.4L397.3 179.6L395 180.4L392.7 179.6L390.4 180.4L388.1 179.6L385.8 180.4L383.5 179.6L381.2 180.4L378.9 179.6L376.6 180.4L374.3 179.6L372 180.4L369.6 179.6L367.3 180.4L365 179.6L362.7 180.4L360.4 179.6L358.1 180.4L355.8 179.6L353.5 180.4Z"/><path fill="#8c00ff"  d="M425 150L427.3 151L429.6 150L431.9 151L434.2 150L436.5 151L438.8 150L441.2 151L443.5 150L445.8 151L448.1 150L450.4 151L452.7 150L455 151L457.3 150L459.6 151L461.9 150L464.2 151L466.5 150L468.8 151L471.2 150L473.5 151L475.8 150L478.1 151L480.4 150L482.7 151L485 150L487.3 151L489.6 150L491.9 151L494.2 150L496.5 151L498.8 150L501.2 151L503.5 150L505.8 151L508.1 150L510.4 151L512.7 150L515 151L515 159L512.7 160L510.4 159L508.1 160L505.8 159L503.5 160L501.2 159L498.8 160L496.5 159L494.2 160L491.9 159L489.6 160L487.3 159L485 160L482.7 159L480.4 160L478.1 159L475.8 160L473.5 159L471.2 160L468.8 159L466.5 160L464.2 159L461.9 160L459.6 159L457.3 160L455 159L452.7 160L450.4 159L448.1 160L445.8 159L443.5 160L441.2 159L438.8 160L436.5 159L434.2 160L431.9 159L429.6 160L427.3 159L425 160ZM425 175.5L427.3 176.3L429.6 175.5L431.9 176.3L434.2 175.5L436.5 176.3L438.8 175.5L441.2 176.3L443.5 175.5L445.8 176.3L448.1 175.5L450.4 176.3L452.7 175.5L455 176.3L457.3 175.5L459.6 176.3L461.9 175.5L464.2 176.3L466.5 175.5L468.8 176.3L471.2 175.5L473.5 176.3L475.8 175.5L478.1 176.3L480.4 175.5L482.7 176.3L485 175.5L487.3 176.3L489.6 175.5L491.9 176.3L494.2 175.5L496.5 176.3L498.8 175.5L501.2 176.3L503.5 175.5L505.8 176.3L508.1 175.5L510.4 176.3L512.7 175.5L515 176.3L515 179.1L512.7 179.6L510.4 179.1L508.1 179.6L505.8 179.1L503.5 179.6L501.2 179.1L498.8 179.6L496.5 179.1L494.2 179.6L491.9 179.1L489.6 179.6L487.3 179.1L485 179.6L482.7 179.1L480.4 179.6L478.1 179.1L475.8 179.6L473.5 179.1L471.2 179.6L468.8 179.1L466.5 179.6L464.2 179.1L461.9 179.6L459.6 179.1L457.3 179.6L455 179.1L452.7 179.6L450.4 179.1L448.1 179.6L445.8 179.1L443.5 179.6L441.2 179.1L438.8 179.6L436.5 179.1L434.2 179.6L431.9 179.1L429.6 179.6L427.3 179.1L425 179.6Z"/><path fill="#ff0a8c"  d="M415.5 151h9.5v8.5h-9.5ZM493 150.5h8.2v9.5h-8.2Z"/><path fill="#ff08c8" fill-opacity="0.9" d="M303.8 87.5L306.1 90.5L308.4 87.6L310.7 90.6L313 87.6L315.4 90.6L317.7 87.7L320 90.7L322.3 87.7L324.6 90.8L326.9 87.8L329.2 90.8L331.5 87.8L333.8 90.9L336.2 87.9L338.5 90.9L340.8 88L343.1 91L345.4 88L347.7 91L350 88.1L352.3 91.1L354.6 88.1L357 91.2L359.3 88.2L361.6 91.4L363.9 88.6L366.2 91.9L368.5 89.1L370.8 92.4L373.1 89.6L375.4 92.9L377.8 90.1L380.1 93.4L382.4 90.6L384.7 93.9L387 91.1L389.3 94.4L391.6 91.6L393.9 94.8L396.2 92.1L398.6 95.3L400.9 92.6L403.2 95.9L405.5 93.2L407.8 96.5L410.1 93.8L412.4 97.2L414.7 94.5L417 97.8L419.4 95.1L421.7 98.4L424 95.7L426.3 99L428.6 96.3L430.9 99.6L433.2 96.9L435.5 100.2L437.8 97.5L440.2 100.9L442.5 98.2L444.8 101.5L447.1 98.8L449.4 102.1L451.7 99.4L454 102.7L456.3 100L458.6 103.3L461 100.7L463.3 104L465.6 101.4L467.9 104.8L470.2 102.2L472.5 105.6L474.8 103L477.1 106.4L479.4 103.8L481.8 107.1L484.1 104.5L486.4 107.9L488.7 105.3L491 108.7L491 112.1L488.7 113.2L486.4 111.3L484.1 112.4L481.8 110.5L479.4 111.7L477.1 109.8L474.8 110.9L472.5 109L470.2 110.1L467.9 108.2L465.6 109.3L463.3 107.4L461 108.6L458.6 106.7L456.3 107.9L454 106.1L451.7 107.3L449.4 105.5L447.1 106.7L444.8 104.9L442.5 106.1L440.2 104.3L437.8 105.4L435.5 103.6L433.2 104.8L430.9 103L428.6 104.2L426.3 102.4L424 103.6L421.7 101.8L419.4 103L417 101.2L414.7 102.4L412.4 100.6L410.1 101.7L407.8 99.9L405.5 101.1L403.2 99.3L400.9 100.5L398.6 98.7L396.2 100L393.9 98.2L391.6 99.5L389.3 97.8L387 99L384.7 97.3L382.4 98.5L380.1 96.8L377.8 98L375.4 96.3L373.1 97.5L370.8 95.8L368.5 97L366.2 95.3L363.9 96.5L361.6 94.8L359.3 96.1L357 94.6L354.6 96L352.3 94.5L350 96L347.7 94.4L345.4 95.9L343.1 94.4L340.8 95.9L338.5 94.3L336.2 95.8L333.8 94.3L331.5 95.7L329.2 94.2L326.9 95.7L324.6 94.2L322.3 95.6L320 94.1L317.7 95.6L315.4 94L313 95.5L310.7 94L308.4 95.5L306.1 93.9L303.8 95.4ZM494.7 110.1L497 113L499.3 111.6L501.6 114.5L503.9 113L506.2 115.9L508.5 114.5L510.9 117.4L513.2 115.9L515.5 118.9L517.8 117.4L520.1 120.3L522.4 118.8L524.7 121.8L527 120.3L527 126.7L524.7 123.8L522.4 125.2L520.1 122.3L517.8 123.8L515.5 120.9L513.2 122.3L510.9 119.4L508.5 120.9L506.2 117.9L503.9 119.4L501.6 116.5L499.3 118L497 115L494.7 116.5Z"/><path fill="#ff08c8" fill-opacity="0.85" d="M303.8 110.5L306.1 113.5L308.4 110.6L310.7 113.6L313 110.6L315.4 113.7L317.7 110.7L320 113.7L322.3 110.8L324.6 113.8L326.9 110.9L329.2 113.9L331.5 110.9L333.8 114L336.2 111L338.5 114L340.8 111.1L343.1 114.1L345.4 111.1L347.7 114.2L350 111.2L352.3 114.2L354.6 111.3L357 114.3L359.3 111.4L361.6 114.5L363.9 111.8L366.2 115.1L368.5 112.3L370.8 115.6L373.1 112.9L375.4 116.1L377.8 113.4L380.1 116.7L382.4 113.9L384.7 117.2L387 114.5L389.3 117.7L391.6 115L393.9 118.3L396.2 115.5L398.6 118.8L400.9 116.1L403.2 119.4L405.5 116.7L407.8 120L410.1 117.3L412.4 120.6L414.7 117.9L417 121.2L419.4 118.5L421.7 121.8L424 119.1L426.3 122.3L428.6 119.6L430.9 122.9L433.2 120.2L435.5 123.5L437.8 120.8L440.2 124.1L442.5 121.7L444.8 125.2L447.1 122.7L449.4 126.2L451.7 123.7L454 127.3L456.3 124.8L458.6 128.3L461 125.8L463.3 129.3L465.6 126.7L467.9 130L470.2 127.4L472.5 130.7L474.8 128.1L477.1 131.5L479.4 128.8L481.8 132.2L484.1 129.5L486.4 132.9L488.7 130.2L491 133.6L491 134.7L488.7 136.8L486.4 134L484.1 136.1L481.8 133.3L479.4 135.4L477.1 132.6L474.8 134.7L472.5 131.8L470.2 134L467.9 131.1L465.6 133.3L463.3 130.4L461 132.7L458.6 130.1L456.3 132.5L454 130L451.7 132.4L449.4 129.8L447.1 132.3L444.8 129.7L442.5 132.2L440.2 129.6L437.8 131.8L435.5 129.1L433.2 131.3L430.9 128.5L428.6 130.7L426.3 127.9L424 130.1L421.7 127.4L419.4 129.6L417 126.8L414.7 129L412.4 126.2L410.1 128.5L407.8 125.7L405.5 127.9L403.2 125.1L400.9 127.3L398.6 124.6L396.2 126.8L393.9 124.1L391.6 126.3L389.3 123.5L387 125.8L384.7 123L382.4 125.3L380.1 122.5L377.8 124.8L375.4 122L373.1 124.3L370.8 121.5L368.5 123.8L366.2 121L363.9 123.3L361.6 120.5L359.3 122.8L357 120.3L354.6 122.8L352.3 120.3L350 122.7L347.7 120.2L345.4 122.7L343.1 120.2L340.8 122.7L338.5 120.1L336.2 122.6L333.8 120.1L331.5 122.6L329.2 120L326.9 122.5L324.6 120L322.3 122.5L320 120L317.7 122.4L315.4 119.9L313 122.4L310.7 119.9L308.4 122.3L306.1 119.8L303.8 122.3ZM494.7 135.3L497 138.2L499.3 136.7L501.6 139.5L503.9 138L506.2 140.9L508.5 139.4L510.9 142.2L513.2 140.7L515.5 143.6L517.8 142.1L520.1 145L522.4 143.4L524.7 146.3L527 144.8L527 151.2L524.7 148.3L522.4 149.8L520.1 147L517.8 148.5L515.5 145.6L513.2 147.1L510.9 144.2L508.5 145.8L506.2 142.9L503.9 144.4L501.6 141.5L499.3 143.1L497 140.2L494.7 141.7Z"/><path fill="#10f020"  d="M446.4 207.3L448.7 210.5L451 207.3L453.3 210.5L455.6 207.3L457.9 210.5L460.3 207.3L462.6 210.5L464.9 207.3L467.2 210.5L469.5 207.3L471.8 210.5L474.1 207.3L476.4 210.5L478.7 207.3L481 210.5L483.3 207.3L485.6 210.5L488 207.3L490.3 210.5L492.6 207.3L494.9 210.5L497.2 207.3L499.5 210.5L501.8 207.3L504.1 210.5L506.4 207.3L508.7 210.5L511 207.3L513.3 210.5L515.7 207.3L518 210.5L520.3 207.3L522.6 210.5L524.9 207.3L527.2 210.5L527.2 215.4L524.9 218.6L522.6 215.4L520.3 218.6L518 215.4L515.7 218.6L513.3 215.4L511 218.6L508.7 215.4L506.4 218.6L504.1 215.4L501.8 218.6L499.5 215.4L497.2 218.6L494.9 215.4L492.6 218.6L490.3 215.4L488 218.6L485.6 215.4L483.3 218.6L481 215.4L478.7 218.6L476.4 215.4L474.1 218.6L471.8 215.4L469.5 218.6L467.2 215.4L464.9 218.6L462.6 215.4L460.3 218.6L457.9 215.4L455.6 218.6L453.3 215.4L451 218.6L448.7 215.4L446.4 218.6ZM446.4 233.5L448.7 236.7L451 233.5L453.3 236.7L455.6 233.5L457.9 236.7L460.3 233.5L462.6 236.7L464.9 233.5L467.2 236.7L469.5 233.5L471.8 236.7L474.1 233.5L476.4 236.7L478.7 233.5L481 236.7L483.3 233.5L485.6 236.7L488 233.5L490.3 236.7L492.6 233.5L494.9 236.7L497.2 233.5L499.5 236.7L501.8 233.5L504.1 236.7L506.4 233.5L508.7 236.7L511 233.5L513.3 236.7L515.7 233.5L518 236.7L520.3 233.5L522.6 236.7L524.9 233.5L527.2 236.7L527.2 241.4L524.9 244.6L522.6 241.4L520.3 244.6L518 241.4L515.7 244.6L513.3 241.4L511 244.6L508.7 241.4L506.4 244.6L504.1 241.4L501.8 244.6L499.5 241.4L497.2 244.6L494.9 241.4L492.6 244.6L490.3 241.4L488 244.6L485.6 241.4L483.3 244.6L481 241.4L478.7 244.6L476.4 241.4L474.1 244.6L471.8 241.4L469.5 244.6L467.2 241.4L464.9 244.6L462.6 241.4L460.3 244.6L457.9 241.4L455.6 244.6L453.3 241.4L451 244.6L448.7 241.4L446.4 244.6Z"/><path fill="#e0305a"  d="M114 99h1.6v1.6h-1.6ZM118.6 99h1.6v1.6h-1.6ZM123.2 99h1.6v1.6h-1.6ZM127.8 99h1.6v1.6h-1.6ZM132.4 99h1.6v1.6h-1.6ZM137 99h1.6v1.6h-1.6ZM141.6 99h1.6v1.6h-1.6ZM146.2 99h1.6v1.6h-1.6ZM150.8 99h1.6v1.6h-1.6ZM155.4 99h1.6v1.6h-1.6ZM160 99h1.6v1.6h-1.6ZM164.6 99h1.6v1.6h-1.6ZM169.2 99h1.6v1.6h-1.6ZM173.8 99h1.6v1.6h-1.6ZM178.4 99h1.6v1.6h-1.6ZM183 99h1.6v1.6h-1.6ZM187.6 99h1.6v1.6h-1.6ZM192.2 99h1.6v1.6h-1.6ZM196.8 99h1.6v1.6h-1.6ZM201.4 99h1.6v1.6h-1.6ZM206 99h1.6v1.6h-1.6ZM210.6 99h1.6v1.6h-1.6ZM215.2 99h1.6v1.6h-1.6ZM219.8 99h1.6v1.6h-1.6ZM224.4 99h1.6v1.6h-1.6ZM229 99h1.6v1.6h-1.6ZM233.6 99h1.6v1.6h-1.6ZM238.2 99h1.6v1.6h-1.6ZM242.8 99h1.6v1.6h-1.6ZM247.4 99h1.6v1.6h-1.6ZM252 99h1.6v1.6h-1.6ZM256.6 99h1.6v1.6h-1.6ZM261.2 99h1.6v1.6h-1.6Z"/><path fill="#d8e8d8"  d="M266 100.2h1.5v1.5h-1.5ZM271 100.2h1.5v1.5h-1.5ZM276 100.2h1.5v1.5h-1.5ZM281 100.2h1.5v1.5h-1.5ZM286 100.2h1.5v1.5h-1.5ZM291 100.2h1.5v1.5h-1.5ZM296 100.2h1.5v1.5h-1.5ZM301 100.2h1.5v1.5h-1.5ZM306 100.2h1.5v1.5h-1.5ZM311 100.2h1.5v1.5h-1.5ZM316 100.2h1.5v1.5h-1.5ZM321 100.2h1.5v1.5h-1.5ZM326 100.2h1.5v1.5h-1.5ZM331 100.2h1.5v1.5h-1.5ZM336 100.2h1.5v1.5h-1.5ZM341 100.2h1.5v1.5h-1.5ZM346 100.2h1.5v1.5h-1.5ZM351 100.2h1.5v1.5h-1.5ZM356 100.2h1.5v1.5h-1.5ZM361 100.2h1.5v1.5h-1.5ZM366 100.2h1.5v1.5h-1.5ZM371 100.2h1.5v1.5h-1.5ZM376 100.2h1.5v1.5h-1.5ZM381 100.2h1.5v1.5h-1.5ZM386 100.2h1.5v1.5h-1.5ZM391 100.2h1.5v1.5h-1.5ZM396 100.2h1.5v1.5h-1.5ZM401 100.2h1.5v1.5h-1.5ZM406 100.2h1.5v1.5h-1.5ZM411 100.2h1.5v1.5h-1.5ZM416 100.2h1.5v1.5h-1.5ZM421 100.2h1.5v1.5h-1.5ZM426 100.2h1.5v1.5h-1.5ZM431 100.2h1.5v1.5h-1.5ZM436 100.2h1.5v1.5h-1.5ZM441 100.2h1.5v1.5h-1.5ZM446 100.2h1.5v1.5h-1.5ZM451 100.2h1.5v1.5h-1.5ZM456 100.2h1.5v1.5h-1.5ZM461 100.2h1.5v1.5h-1.5ZM464 100.3h1.5v1.5h-1.5ZM468.8 100.3h1.5v1.5h-1.5ZM473.6 100.3h1.5v1.5h-1.5ZM478.4 100.3h1.5v1.5h-1.5ZM483.2 100.3h1.5v1.5h-1.5ZM488 100.3h1.5v1.5h-1.5ZM492.8 100.3h1.5v1.5h-1.5ZM497.6 100.3h1.5v1.5h-1.5ZM502.4 100.3h1.5v1.5h-1.5ZM507.2 100.3h1.5v1.5h-1.5ZM512 100.3h1.5v1.5h-1.5ZM428 150.6h1.4v1.3h-1.4ZM432.8 150.6h1.4v1.3h-1.4ZM437.6 150.6h1.4v1.3h-1.4ZM442.4 150.6h1.4v1.3h-1.4ZM447.2 150.6h1.4v1.3h-1.4ZM452 150.6h1.4v1.3h-1.4ZM456.8 150.6h1.4v1.3h-1.4ZM461.6 150.6h1.4v1.3h-1.4ZM466.4 150.6h1.4v1.3h-1.4ZM471.2 150.6h1.4v1.3h-1.4ZM476 150.6h1.4v1.3h-1.4ZM480.8 150.6h1.4v1.3h-1.4ZM485.6 150.6h1.4v1.3h-1.4ZM490.4 150.6h1.4v1.3h-1.4ZM495.2 150.6h1.4v1.3h-1.4ZM500 150.6h1.4v1.3h-1.4ZM504.8 150.6h1.4v1.3h-1.4ZM509.6 150.6h1.4v1.3h-1.4Z"/><path fill="#ff0a3e"  d="M107 102h4.5v1.8h-4.5ZM113 101h1.5v1.5h-1.5ZM118 101h1.5v1.5h-1.5ZM107 129h4.5v1.8h-4.5ZM102 133h3v1.5h-3Z"/><path fill="#9428e0" opacity="0.6" clip-path="url(#cyc)" d="M112.7 80.4L113.9 80.4L133.8 412.8L132.6 412.8ZM123.2 80.4L124.4 80.4L144.3 412.8L143.1 412.8Z"/></g>
<use href="#bands" transform="translate(0 164.2)"/>
<use href="#bands" transform="translate(0 328.4)"/>
<path fill="#d8c6be" opacity="0.7" clip-path="url(#mbclip)" d="M64.5 80.4L66.4 80.4L93 412.8L91.1 412.8ZM78 80.4L79.9 80.4L106.5 412.8L104.6 412.8ZM91.5 80.4L93.4 80.4L120 412.8L118.1 412.8ZM105 80.4L106.9 80.4L133.5 412.8L131.6 412.8ZM118.5 80.4L120.4 80.4L147 412.8L145.1 412.8ZM132 80.4L133.9 80.4L160.5 412.8L158.6 412.8ZM145.5 80.4L147.4 80.4L174 412.8L172.1 412.8ZM159 80.4L160.9 80.4L187.5 412.8L185.6 412.8ZM172.5 80.4L174.4 80.4L201 412.8L199.1 412.8ZM186 80.4L187.9 80.4L214.5 412.8L212.6 412.8ZM199.5 80.4L201.4 80.4L228 412.8L226.1 412.8ZM213 80.4L214.9 80.4L241.5 412.8L239.6 412.8ZM226.5 80.4L228.4 80.4L255 412.8L253.1 412.8ZM240 80.4L241.9 80.4L268.5 412.8L266.6 412.8ZM253.5 80.4L255.4 80.4L282 412.8L280.1 412.8ZM267 80.4L268.9 80.4L295.5 412.8L293.6 412.8ZM280.5 80.4L282.4 80.4L309 412.8L307.1 412.8ZM294 80.4L295.9 80.4L322.5 412.8L320.6 412.8ZM307.5 80.4L309.4 80.4L336 412.8L334.1 412.8ZM321 80.4L322.9 80.4L349.5 412.8L347.6 412.8ZM334.5 80.4L336.4 80.4L363 412.8L361.1 412.8ZM348 80.4L349.9 80.4L376.5 412.8L374.6 412.8ZM361.5 80.4L363.4 80.4L390 412.8L388.1 412.8ZM375 80.4L376.9 80.4L403.5 412.8L401.6 412.8ZM388.5 80.4L390.4 80.4L417 412.8L415.1 412.8ZM402 80.4L403.9 80.4L430.5 412.8L428.6 412.8ZM415.5 80.4L417.4 80.4L444 412.8L442.1 412.8ZM429 80.4L430.9 80.4L457.5 412.8L455.6 412.8ZM442.5 80.4L444.4 80.4L471 412.8L469.1 412.8ZM456 80.4L457.9 80.4L484.5 412.8L482.6 412.8Z"/>
</g>
<path stroke="#c4c4c4" stroke-width="1" fill="none" d="M45 82.4H538.4 M45 82.4V410.8"/>
<path stroke="#b0b0b0" stroke-width="1" fill="none" d="M45 410.8H538.4"/>
<path stroke="#8a8a8a" stroke-width="1" fill="none" d="M538.4 82.4V410.8"/>
<path stroke="#b0b0b0" stroke-width="0.9" fill="none" d="M40.2 410.7H45 M538.4 410.7H543.6 M40.2 369.7H45 M538.4 369.7H543.6 M40.2 328.6H45 M538.4 328.6H543.6 M40.2 287.6H45 M538.4 287.6H543.6 M40.2 246.5H45 M538.4 246.5H543.6 M40.2 205.5H45 M538.4 205.5H543.6 M40.2 164.5H45 M538.4 164.5H543.6 M40.2 123.4H45 M538.4 123.4H543.6 M40.2 82.4H45 M538.4 82.4H543.6 "/>
<path stroke="#cfcfcf" stroke-width="0.8" fill="none" d="M45.1 410.8V413.8 M45.1 82.4V79.4 M75.9 410.8V413.8 M75.9 82.4V79.4 M106.7 410.8V413.8 M106.7 82.4V79.4 M137.6 410.8V413.8 M137.6 82.4V79.4 M168.4 410.8V413.8 M168.4 82.4V79.4 M199.2 410.8V413.8 M199.2 82.4V79.4 M230.1 410.8V413.8 M230.1 82.4V79.4 M260.9 410.8V413.8 M260.9 82.4V79.4 M291.7 410.8V413.8 M291.7 82.4V79.4 M322.5 410.8V413.8 M322.5 82.4V79.4 M353.4 410.8V413.8 M353.4 82.4V79.4 M384.2 410.8V413.8 M384.2 82.4V79.4 M415 410.8V413.8 M415 82.4V79.4 M445.9 410.8V413.8 M445.9 82.4V79.4 M476.7 410.8V413.8 M476.7 82.4V79.4 M507.5 410.8V413.8 M507.5 82.4V79.4 M538.4 410.8V413.8 M538.4 82.4V79.4 "/>
<g font-size="12.4" fill="#111"><text x="37.1" y="410.8" text-anchor="end">0</text><text x="37.1" y="374.1" text-anchor="end">3</text><text x="37.1" y="333" text-anchor="end">6</text><text x="37.1" y="292" text-anchor="end">9</text><text x="37.1" y="250.9" text-anchor="end">12</text><text x="37.1" y="209.9" text-anchor="end">15</text><text x="37.1" y="168.9" text-anchor="end">18</text><text x="37.1" y="127.8" text-anchor="end">21</text><text x="37.1" y="89.8" text-anchor="end">24</text><text x="168.4" y="429.7" text-anchor="middle">2010</text><text x="322.5" y="429.7" text-anchor="middle">2015</text><text x="476.7" y="429.7" text-anchor="middle">2020</text></g>
<text font-size="12.4" fill="#111" text-anchor="middle" transform="translate(14 246.6) rotate(-90)">Equator-Crossing LST (h)</text>
<g font-size="10.2" stroke-width="0.25"><text x="33.9" y="11.6" fill="#ff0a3e" stroke="#ff0a3e">COSMIC1-1 (2006-2018)</text><text x="33.9" y="22.2" fill="#ff0a3e" stroke="#ff0a3e">COSMIC1-2 (2006-2016)</text><text x="33.9" y="32.8" fill="#ff0a3e" stroke="#ff0a3e">COSMIC1-3 (2006-2010)</text><text x="33.9" y="43.4" fill="#ff0a3e" stroke="#ff0a3e">COSMIC1-4 (2006-2015)</text><text x="33.9" y="54" fill="#ff0a3e" stroke="#ff0a3e">COSMIC1-5 (2006-2017)</text><text x="33.9" y="64.6" fill="#ff0a3e" stroke="#ff0a3e">COSMIC1-6 (2006-2020)</text><text x="33.9" y="75.2" fill="#9030f0" stroke="#9030f0">champ2016(2001-2008)</text><text x="170" y="11.6" fill="#ebbcc4" stroke="#ebbcc4">COSMIC2-1 (2019-)</text><text x="170" y="22.2" fill="#ebbcc4" stroke="#ebbcc4">COSMIC2-2 (2019-)</text><text x="170" y="32.8" fill="#ebbcc4" stroke="#ebbcc4">COSMIC2-3 (2019-)</text><text x="170" y="43.4" fill="#ebbcc4" stroke="#ebbcc4">COSMIC2-4 (2019-)</text><text x="170" y="54" fill="#ebbcc4" stroke="#ebbcc4">COSMIC2-5 (2019-)</text><text x="170" y="64.6" fill="#ebbcc4" stroke="#ebbcc4">COSMIC2-6 (2019-)</text><text x="170" y="75.2" fill="#e4c0c0" stroke="#e4c0c0">grace(2007-2017)</text><text x="306.1" y="11.6" fill="#006400" stroke="#006400">cnofs (2008-2015)</text><text x="306.1" y="22.2" fill="#00f8f0" stroke="#00f8f0">metopa2016 (2007-2015)</text><text x="306.1" y="32.8" fill="#00f8f0" stroke="#00f8f0">metopa (2016-)</text><text x="306.1" y="43.4" fill="#006400" stroke="#006400">metopb2016 (2013-2015)</text><text x="306.1" y="54" fill="#006400" stroke="#006400">metopb (2016-)</text><text x="306.1" y="64.6" fill="#8c00ff" stroke="#8c00ff">metopc (2018-)</text><text x="306.1" y="75.2" fill="#10f020" stroke="#10f020">sacc(2006-2013)</text><text x="443.1" y="11.6" fill="#10f020" stroke="#10f020">kompsat5 (2015-)</text><text x="443.1" y="22.2" fill="#ff0a8c" stroke="#ff0a8c">tsx (2008-)</text><text x="443.1" y="32.8" fill="#0808ff" stroke="#0808ff">tdx (2016-)</text><text x="443.1" y="43.4" fill="#9030ff" stroke="#9030ff">paz (2018-)</text><text x="443.1" y="54" fill="#ff08c8" stroke="#ff08c8">fy3c (2014-)</text><text x="443.1" y="64.6" fill="#10f020" stroke="#10f020">fy3d (2019-)</text></g>
</svg></body></html>
